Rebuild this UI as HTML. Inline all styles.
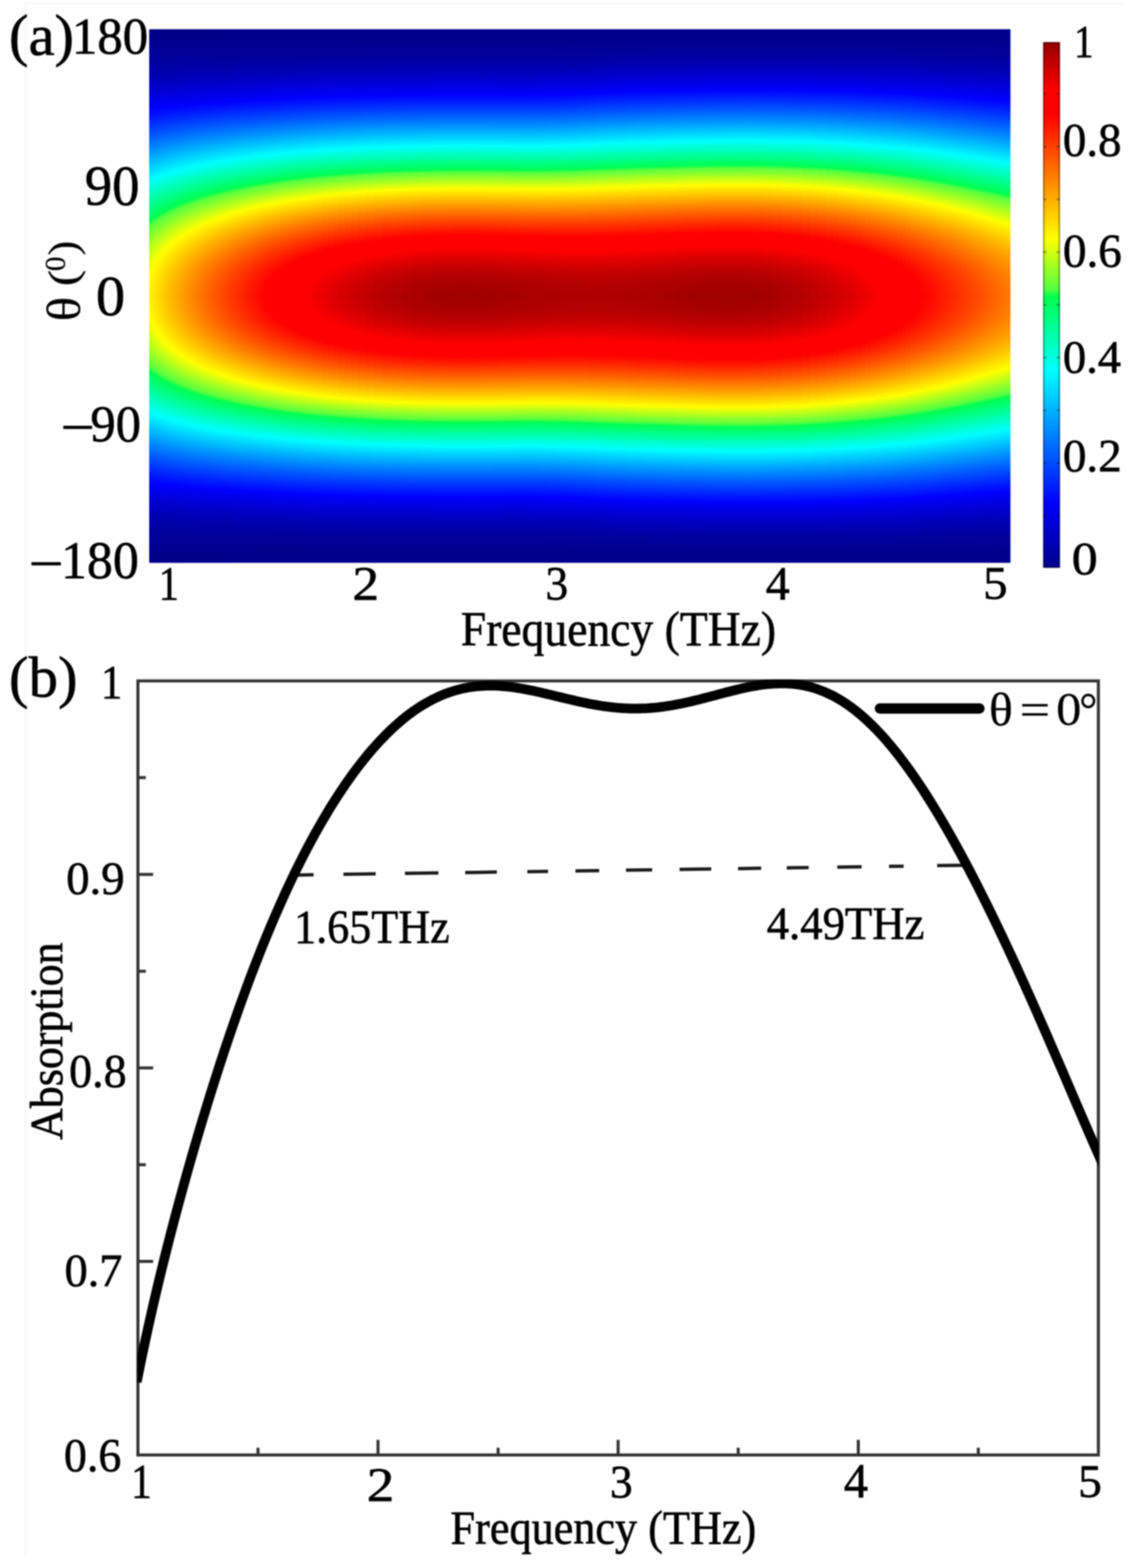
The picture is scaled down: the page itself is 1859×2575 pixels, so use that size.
<!DOCTYPE html>
<html lang="en"><head><meta charset="utf-8"><title>Absorption versus polarization angle and frequency</title>
<style>html,body{margin:0;padding:0;background:#fff}body{width:1859px;height:2575px;overflow:hidden}</style></head>
<body>
<svg width="1859" height="2575" viewBox="0 0 1859 2575" style="display:block">
<defs>
<linearGradient id="hb" gradientUnits="userSpaceOnUse" x1="0" y1="486.15" x2="0" y2="48" spreadMethod="reflect"/>
<linearGradient id="h0" href="#hb"><stop offset="0" stop-color="#fff500"/><stop offset=".05" stop-color="#fff900"/><stop offset=".0758" stop-color="#ff0"/><stop offset=".1" stop-color="#f3ff05"/><stop offset=".15" stop-color="#cfff12"/><stop offset=".2" stop-color="#9fff25"/><stop offset=".25" stop-color="#63ff3c"/><stop offset=".2608" stop-color="#55ff41"/><stop offset=".2802" stop-color="#00ff50"/><stop offset=".3" stop-color="#00ff64"/><stop offset=".35" stop-color="#00ff9b"/><stop offset=".4" stop-color="#00ffd6"/><stop offset=".4338" stop-color="#0ff"/><stop offset=".45" stop-color="#0ef"/><stop offset=".5" stop-color="#0bf"/><stop offset=".55" stop-color="#08f"/><stop offset=".6" stop-color="#0057ff"/><stop offset=".65" stop-color="#0028ff"/><stop offset=".6971" stop-color="#00f"/><stop offset=".7" stop-color="#0000fd"/><stop offset=".75" stop-color="#0000db"/><stop offset=".8" stop-color="#0000be"/><stop offset=".85" stop-color="#0000a7"/><stop offset=".9" stop-color="#000097"/><stop offset=".95" stop-color="#00008d"/><stop offset="1" stop-color="#00008a"/></linearGradient>
<linearGradient id="h1" href="#hb"><stop offset="0" stop-color="#fff400"/><stop offset=".05" stop-color="#fff800"/><stop offset=".0792" stop-color="#ff0"/><stop offset=".1" stop-color="#f4ff04"/><stop offset=".15" stop-color="#d1ff12"/><stop offset=".2" stop-color="#a1ff24"/><stop offset=".25" stop-color="#65ff3b"/><stop offset=".2618" stop-color="#55ff41"/><stop offset=".2811" stop-color="#00ff50"/><stop offset=".3" stop-color="#00ff63"/><stop offset=".35" stop-color="#00ff9a"/><stop offset=".4" stop-color="#00ffd5"/><stop offset=".4343" stop-color="#0ff"/><stop offset=".45" stop-color="#00efff"/><stop offset=".5" stop-color="#00bcff"/><stop offset=".55" stop-color="#08f"/><stop offset=".6" stop-color="#0057ff"/><stop offset=".65" stop-color="#0028ff"/><stop offset=".6973" stop-color="#00f"/><stop offset=".7" stop-color="#0000fd"/><stop offset=".75" stop-color="#0000db"/><stop offset=".8" stop-color="#0000be"/><stop offset=".85" stop-color="#0000a7"/><stop offset=".9" stop-color="#000097"/><stop offset=".95" stop-color="#00008d"/><stop offset="1" stop-color="#00008a"/></linearGradient>
<linearGradient id="h2" href="#hb"><stop offset="0" stop-color="#fe0"/><stop offset=".05" stop-color="#fff300"/><stop offset=".097" stop-color="#ff0"/><stop offset=".1" stop-color="#fdff01"/><stop offset=".15" stop-color="#daff0e"/><stop offset=".2" stop-color="#a9ff21"/><stop offset=".25" stop-color="#6cff38"/><stop offset=".2674" stop-color="#55ff41"/><stop offset=".2863" stop-color="#00ff50"/><stop offset=".3" stop-color="#00ff5e"/><stop offset=".35" stop-color="#00ff95"/><stop offset=".4" stop-color="#00ffd1"/><stop offset=".4373" stop-color="#0ff"/><stop offset=".45" stop-color="#00f2ff"/><stop offset=".5" stop-color="#00beff"/><stop offset=".55" stop-color="#008bff"/><stop offset=".6" stop-color="#0059ff"/><stop offset=".65" stop-color="#002aff"/><stop offset=".6986" stop-color="#00f"/><stop offset=".7" stop-color="#0000fe"/><stop offset=".75" stop-color="#0000db"/><stop offset=".8" stop-color="#0000be"/><stop offset=".85" stop-color="#0000a7"/><stop offset=".9" stop-color="#000097"/><stop offset=".95" stop-color="#00008d"/><stop offset="1" stop-color="#00008a"/></linearGradient>
<linearGradient id="h3" href="#hb"><stop offset="0" stop-color="#ffe900"/><stop offset=".05" stop-color="#ffed00"/><stop offset=".1" stop-color="#fffb00"/><stop offset=".1115" stop-color="#ff0"/><stop offset=".15" stop-color="#e2ff0b"/><stop offset=".2" stop-color="#b1ff1e"/><stop offset=".25" stop-color="#74ff35"/><stop offset=".2727" stop-color="#55ff41"/><stop offset=".2912" stop-color="#00ff50"/><stop offset=".3" stop-color="#00ff59"/><stop offset=".35" stop-color="#00ff91"/><stop offset=".4" stop-color="#00ffcd"/><stop offset=".4402" stop-color="#0ff"/><stop offset=".45" stop-color="#00f5ff"/><stop offset=".5" stop-color="#00c1ff"/><stop offset=".55" stop-color="#008dff"/><stop offset=".6" stop-color="#005aff"/><stop offset=".65" stop-color="#002bff"/><stop offset=".6998" stop-color="#00f"/><stop offset=".7" stop-color="#00f"/><stop offset=".75" stop-color="#0000dc"/><stop offset=".8" stop-color="#0000bf"/><stop offset=".85" stop-color="#0000a7"/><stop offset=".9" stop-color="#000097"/><stop offset=".95" stop-color="#00008d"/><stop offset="1" stop-color="#00008a"/></linearGradient>
<linearGradient id="h4" href="#hb"><stop offset="0" stop-color="#ffe400"/><stop offset=".05" stop-color="#ffe800"/><stop offset=".1" stop-color="#fff500"/><stop offset=".124" stop-color="#ff0"/><stop offset=".15" stop-color="#eaff08"/><stop offset=".2" stop-color="#b9ff1b"/><stop offset=".25" stop-color="#7cff32"/><stop offset=".2777" stop-color="#55ff41"/><stop offset=".2959" stop-color="#00ff50"/><stop offset=".3" stop-color="#00ff54"/><stop offset=".35" stop-color="#00ff8c"/><stop offset=".4" stop-color="#00ffc9"/><stop offset=".443" stop-color="#0ff"/><stop offset=".45" stop-color="#00f8ff"/><stop offset=".5" stop-color="#00c3ff"/><stop offset=".55" stop-color="#008fff"/><stop offset=".6" stop-color="#005cff"/><stop offset=".65" stop-color="#002cff"/><stop offset=".7" stop-color="#0001ff"/><stop offset=".701" stop-color="#00f"/><stop offset=".75" stop-color="#00d"/><stop offset=".8" stop-color="#0000bf"/><stop offset=".85" stop-color="#0000a8"/><stop offset=".9" stop-color="#000097"/><stop offset=".95" stop-color="#00008d"/><stop offset="1" stop-color="#00008a"/></linearGradient>
<linearGradient id="h5" href="#hb"><stop offset="0" stop-color="#ffde00"/><stop offset=".05" stop-color="#ffe300"/><stop offset=".1" stop-color="#fff000"/><stop offset=".135" stop-color="#ff0"/><stop offset=".15" stop-color="#f3ff05"/><stop offset=".2" stop-color="#c1ff18"/><stop offset=".25" stop-color="#83ff2f"/><stop offset=".2825" stop-color="#55ff41"/><stop offset=".3" stop-color="#02ff50"/><stop offset=".3004" stop-color="#00ff50"/><stop offset=".35" stop-color="#0f8"/><stop offset=".4" stop-color="#00ffc5"/><stop offset=".4457" stop-color="#0ff"/><stop offset=".45" stop-color="#00faff"/><stop offset=".5" stop-color="#00c5ff"/><stop offset=".55" stop-color="#0091ff"/><stop offset=".6" stop-color="#005eff"/><stop offset=".65" stop-color="#002eff"/><stop offset=".7" stop-color="#0002ff"/><stop offset=".7021" stop-color="#00f"/><stop offset=".75" stop-color="#00d"/><stop offset=".8" stop-color="#0000bf"/><stop offset=".85" stop-color="#0000a8"/><stop offset=".9" stop-color="#000097"/><stop offset=".95" stop-color="#00008d"/><stop offset="1" stop-color="#00008a"/></linearGradient>
<linearGradient id="h6" href="#hb"><stop offset="0" stop-color="#ffd900"/><stop offset=".05" stop-color="#ffde00"/><stop offset=".1" stop-color="#ffeb00"/><stop offset=".1449" stop-color="#ff0"/><stop offset=".15" stop-color="#fbff02"/><stop offset=".2" stop-color="#c8ff15"/><stop offset=".25" stop-color="#8aff2d"/><stop offset=".2871" stop-color="#55ff41"/><stop offset=".3" stop-color="#17ff4c"/><stop offset=".3047" stop-color="#00ff50"/><stop offset=".35" stop-color="#00ff84"/><stop offset=".4" stop-color="#00ffc1"/><stop offset=".4483" stop-color="#0ff"/><stop offset=".45" stop-color="#00fdff"/><stop offset=".5" stop-color="#00c8ff"/><stop offset=".55" stop-color="#0093ff"/><stop offset=".6" stop-color="#005fff"/><stop offset=".65" stop-color="#002fff"/><stop offset=".7" stop-color="#0003ff"/><stop offset=".7032" stop-color="#00f"/><stop offset=".75" stop-color="#0000de"/><stop offset=".8" stop-color="#0000c0"/><stop offset=".85" stop-color="#0000a8"/><stop offset=".9" stop-color="#000097"/><stop offset=".95" stop-color="#00008d"/><stop offset="1" stop-color="#00008a"/></linearGradient>
<linearGradient id="h7" href="#hb"><stop offset="0" stop-color="#ffd400"/><stop offset=".05" stop-color="#ffd900"/><stop offset=".1" stop-color="#ffe600"/><stop offset=".15" stop-color="#fffd00"/><stop offset=".1539" stop-color="#ff0"/><stop offset=".2" stop-color="#d0ff12"/><stop offset=".25" stop-color="#91ff2a"/><stop offset=".2915" stop-color="#55ff41"/><stop offset=".3" stop-color="#2cff48"/><stop offset=".3088" stop-color="#00ff50"/><stop offset=".35" stop-color="#00ff80"/><stop offset=".4" stop-color="#00ffbd"/><stop offset=".45" stop-color="#00fffe"/><stop offset=".4508" stop-color="#0ff"/><stop offset=".5" stop-color="#00caff"/><stop offset=".55" stop-color="#0095ff"/><stop offset=".6" stop-color="#0061ff"/><stop offset=".65" stop-color="#0030ff"/><stop offset=".7" stop-color="#0004ff"/><stop offset=".7043" stop-color="#00f"/><stop offset=".75" stop-color="#0000de"/><stop offset=".8" stop-color="#0000c0"/><stop offset=".85" stop-color="#0000a8"/><stop offset=".9" stop-color="#000097"/><stop offset=".95" stop-color="#00008d"/><stop offset="1" stop-color="#00008a"/></linearGradient>
<linearGradient id="h8" href="#hb"><stop offset="0" stop-color="#ffcf00"/><stop offset=".05" stop-color="#ffd400"/><stop offset=".1" stop-color="#ffe200"/><stop offset=".15" stop-color="#fff800"/><stop offset=".1622" stop-color="#ff0"/><stop offset=".2" stop-color="#d7ff0f"/><stop offset=".25" stop-color="#98ff27"/><stop offset=".2958" stop-color="#55ff41"/><stop offset=".3" stop-color="#40ff45"/><stop offset=".3127" stop-color="#00ff50"/><stop offset=".35" stop-color="#00ff7b"/><stop offset=".4" stop-color="#00ffba"/><stop offset=".45" stop-color="#00fffb"/><stop offset=".4532" stop-color="#0ff"/><stop offset=".5" stop-color="#0cf"/><stop offset=".55" stop-color="#0096ff"/><stop offset=".6" stop-color="#0062ff"/><stop offset=".65" stop-color="#0031ff"/><stop offset=".7" stop-color="#0004ff"/><stop offset=".7053" stop-color="#00f"/><stop offset=".75" stop-color="#0000df"/><stop offset=".8" stop-color="#0000c0"/><stop offset=".85" stop-color="#0000a8"/><stop offset=".9" stop-color="#000097"/><stop offset=".95" stop-color="#00008d"/><stop offset="1" stop-color="#00008a"/></linearGradient>
<linearGradient id="h9" href="#hb"><stop offset="0" stop-color="#ffca00"/><stop offset=".05" stop-color="#ffcf00"/><stop offset=".1" stop-color="#fd0"/><stop offset=".15" stop-color="#fff400"/><stop offset=".1699" stop-color="#ff0"/><stop offset=".2" stop-color="#dfff0c"/><stop offset=".25" stop-color="#9fff25"/><stop offset=".2998" stop-color="#55ff41"/><stop offset=".3" stop-color="#54ff41"/><stop offset=".3165" stop-color="#00ff50"/><stop offset=".35" stop-color="#0f7"/><stop offset=".4" stop-color="#00ffb6"/><stop offset=".45" stop-color="#00fff8"/><stop offset=".4556" stop-color="#0ff"/><stop offset=".5" stop-color="#00ceff"/><stop offset=".55" stop-color="#0098ff"/><stop offset=".6" stop-color="#0064ff"/><stop offset=".65" stop-color="#0032ff"/><stop offset=".7" stop-color="#0005ff"/><stop offset=".7063" stop-color="#00f"/><stop offset=".75" stop-color="#0000df"/><stop offset=".8" stop-color="#0000c1"/><stop offset=".85" stop-color="#0000a9"/><stop offset=".9" stop-color="#000097"/><stop offset=".95" stop-color="#00008d"/><stop offset="1" stop-color="#00008a"/></linearGradient>
<linearGradient id="h10" href="#hb"><stop offset="0" stop-color="#ffc500"/><stop offset=".05" stop-color="#ffca00"/><stop offset=".1" stop-color="#ffd800"/><stop offset=".15" stop-color="#ffef00"/><stop offset=".1771" stop-color="#ff0"/><stop offset=".2" stop-color="#e6ff0a"/><stop offset=".25" stop-color="#a6ff22"/><stop offset=".3" stop-color="#5bff3f"/><stop offset=".3037" stop-color="#55ff41"/><stop offset=".3201" stop-color="#00ff50"/><stop offset=".35" stop-color="#00ff74"/><stop offset=".4" stop-color="#00ffb3"/><stop offset=".45" stop-color="#00fff5"/><stop offset=".4578" stop-color="#0ff"/><stop offset=".5" stop-color="#00d1ff"/><stop offset=".55" stop-color="#009aff"/><stop offset=".6" stop-color="#0065ff"/><stop offset=".65" stop-color="#0034ff"/><stop offset=".7" stop-color="#0006ff"/><stop offset=".7072" stop-color="#00f"/><stop offset=".75" stop-color="#0000e0"/><stop offset=".8" stop-color="#0000c1"/><stop offset=".85" stop-color="#0000a9"/><stop offset=".9" stop-color="#000097"/><stop offset=".95" stop-color="#00008d"/><stop offset="1" stop-color="#00008a"/></linearGradient>
<linearGradient id="h11" href="#hb"><stop offset="0" stop-color="#ffc100"/><stop offset=".05" stop-color="#ffc500"/><stop offset=".1" stop-color="#ffd300"/><stop offset=".15" stop-color="#ffeb00"/><stop offset=".1838" stop-color="#ff0"/><stop offset=".2" stop-color="#edff07"/><stop offset=".25" stop-color="#acff20"/><stop offset=".3" stop-color="#61ff3c"/><stop offset=".3074" stop-color="#55ff41"/><stop offset=".3237" stop-color="#00ff50"/><stop offset=".35" stop-color="#00ff70"/><stop offset=".4" stop-color="#00ffaf"/><stop offset=".45" stop-color="#00fff1"/><stop offset=".46" stop-color="#0ff"/><stop offset=".5" stop-color="#00d3ff"/><stop offset=".55" stop-color="#009cff"/><stop offset=".6" stop-color="#0067ff"/><stop offset=".65" stop-color="#0035ff"/><stop offset=".7" stop-color="#0007ff"/><stop offset=".7081" stop-color="#00f"/><stop offset=".75" stop-color="#0000e0"/><stop offset=".8" stop-color="#0000c1"/><stop offset=".85" stop-color="#0000a9"/><stop offset=".9" stop-color="#000097"/><stop offset=".95" stop-color="#00008d"/><stop offset="1" stop-color="#00008a"/></linearGradient>
<linearGradient id="h12" href="#hb"><stop offset="0" stop-color="#ffbc00"/><stop offset=".05" stop-color="#ffc100"/><stop offset=".1" stop-color="#ffcf00"/><stop offset=".15" stop-color="#ffe600"/><stop offset=".1901" stop-color="#ff0"/><stop offset=".2" stop-color="#f4ff04"/><stop offset=".25" stop-color="#b3ff1d"/><stop offset=".3" stop-color="#67ff3a"/><stop offset=".311" stop-color="#55ff41"/><stop offset=".3271" stop-color="#00ff50"/><stop offset=".35" stop-color="#00ff6c"/><stop offset=".4" stop-color="#00ffac"/><stop offset=".45" stop-color="#0fe"/><stop offset=".4621" stop-color="#0ff"/><stop offset=".5" stop-color="#00d5ff"/><stop offset=".55" stop-color="#009eff"/><stop offset=".6" stop-color="#0068ff"/><stop offset=".65" stop-color="#0036ff"/><stop offset=".7" stop-color="#0008ff"/><stop offset=".709" stop-color="#00f"/><stop offset=".75" stop-color="#0000e1"/><stop offset=".8" stop-color="#0000c2"/><stop offset=".85" stop-color="#0000a9"/><stop offset=".9" stop-color="#000097"/><stop offset=".95" stop-color="#00008d"/><stop offset="1" stop-color="#00008a"/></linearGradient>
<linearGradient id="h13" href="#hb"><stop offset="0" stop-color="#ffb700"/><stop offset=".05" stop-color="#ffbc00"/><stop offset=".1" stop-color="#ffca00"/><stop offset=".15" stop-color="#ffe200"/><stop offset=".1961" stop-color="#ff0"/><stop offset=".2" stop-color="#faff02"/><stop offset=".25" stop-color="#b9ff1b"/><stop offset=".3" stop-color="#6dff38"/><stop offset=".3145" stop-color="#55ff41"/><stop offset=".3303" stop-color="#00ff50"/><stop offset=".35" stop-color="#00ff68"/><stop offset=".4" stop-color="#00ffa8"/><stop offset=".45" stop-color="#00ffec"/><stop offset=".4642" stop-color="#0ff"/><stop offset=".5" stop-color="#00d7ff"/><stop offset=".55" stop-color="#009fff"/><stop offset=".6" stop-color="#0069ff"/><stop offset=".65" stop-color="#0037ff"/><stop offset=".7" stop-color="#0009ff"/><stop offset=".7099" stop-color="#00f"/><stop offset=".75" stop-color="#0000e1"/><stop offset=".8" stop-color="#0000c2"/><stop offset=".85" stop-color="#0000a9"/><stop offset=".9" stop-color="#000098"/><stop offset=".95" stop-color="#00008d"/><stop offset="1" stop-color="#00008a"/></linearGradient>
<linearGradient id="h14" href="#hb"><stop offset="0" stop-color="#ffb300"/><stop offset=".05" stop-color="#ffb800"/><stop offset=".1" stop-color="#ffc600"/><stop offset=".15" stop-color="#ffde00"/><stop offset=".2" stop-color="#fffe00"/><stop offset=".2018" stop-color="#ff0"/><stop offset=".25" stop-color="#c0ff18"/><stop offset=".3" stop-color="#73ff36"/><stop offset=".3179" stop-color="#55ff41"/><stop offset=".3335" stop-color="#00ff50"/><stop offset=".35" stop-color="#00ff64"/><stop offset=".4" stop-color="#00ffa5"/><stop offset=".45" stop-color="#00ffe9"/><stop offset=".4662" stop-color="#0ff"/><stop offset=".5" stop-color="#00d9ff"/><stop offset=".55" stop-color="#00a1ff"/><stop offset=".6" stop-color="#006bff"/><stop offset=".65" stop-color="#0038ff"/><stop offset=".7" stop-color="#0009ff"/><stop offset=".7107" stop-color="#00f"/><stop offset=".75" stop-color="#0000e2"/><stop offset=".8" stop-color="#0000c2"/><stop offset=".85" stop-color="#0000a9"/><stop offset=".9" stop-color="#000098"/><stop offset=".95" stop-color="#00008d"/><stop offset="1" stop-color="#00008a"/></linearGradient>
<linearGradient id="h15" href="#hb"><stop offset="0" stop-color="#ffae00"/><stop offset=".05" stop-color="#ffb300"/><stop offset=".1" stop-color="#ffc200"/><stop offset=".15" stop-color="#ffd900"/><stop offset=".2" stop-color="#fffa00"/><stop offset=".2073" stop-color="#ff0"/><stop offset=".25" stop-color="#c6ff16"/><stop offset=".3" stop-color="#79ff33"/><stop offset=".3212" stop-color="#55ff41"/><stop offset=".3366" stop-color="#00ff50"/><stop offset=".35" stop-color="#00ff61"/><stop offset=".4" stop-color="#00ffa2"/><stop offset=".45" stop-color="#00ffe6"/><stop offset=".4682" stop-color="#0ff"/><stop offset=".5" stop-color="#00dbff"/><stop offset=".55" stop-color="#00a3ff"/><stop offset=".6" stop-color="#006cff"/><stop offset=".65" stop-color="#0039ff"/><stop offset=".7" stop-color="#000aff"/><stop offset=".7115" stop-color="#00f"/><stop offset=".75" stop-color="#0000e2"/><stop offset=".8" stop-color="#0000c3"/><stop offset=".85" stop-color="#00a"/><stop offset=".9" stop-color="#000098"/><stop offset=".95" stop-color="#00008d"/><stop offset="1" stop-color="#00008a"/></linearGradient>
<linearGradient id="h16" href="#hb"><stop offset="0" stop-color="#fa0"/><stop offset=".05" stop-color="#ffaf00"/><stop offset=".1" stop-color="#ffbd00"/><stop offset=".15" stop-color="#ffd500"/><stop offset=".2" stop-color="#fff600"/><stop offset=".2125" stop-color="#ff0"/><stop offset=".25" stop-color="#ccff14"/><stop offset=".3" stop-color="#7eff31"/><stop offset=".3243" stop-color="#55ff41"/><stop offset=".3396" stop-color="#00ff50"/><stop offset=".35" stop-color="#00ff5d"/><stop offset=".4" stop-color="#00ff9e"/><stop offset=".45" stop-color="#00ffe3"/><stop offset=".4701" stop-color="#0ff"/><stop offset=".5" stop-color="#0df"/><stop offset=".55" stop-color="#00a4ff"/><stop offset=".6" stop-color="#006dff"/><stop offset=".65" stop-color="#003aff"/><stop offset=".7" stop-color="#000bff"/><stop offset=".7123" stop-color="#00f"/><stop offset=".75" stop-color="#0000e3"/><stop offset=".8" stop-color="#0000c3"/><stop offset=".85" stop-color="#00a"/><stop offset=".9" stop-color="#000098"/><stop offset=".95" stop-color="#00008d"/><stop offset="1" stop-color="#00008a"/></linearGradient>
<linearGradient id="h17" href="#hb"><stop offset="0" stop-color="#ffa500"/><stop offset=".05" stop-color="#fa0"/><stop offset=".1" stop-color="#ffb900"/><stop offset=".15" stop-color="#ffd100"/><stop offset=".2" stop-color="#fff200"/><stop offset=".2174" stop-color="#ff0"/><stop offset=".25" stop-color="#d2ff11"/><stop offset=".3" stop-color="#84ff2f"/><stop offset=".3274" stop-color="#55ff41"/><stop offset=".3425" stop-color="#00ff50"/><stop offset=".35" stop-color="#00ff5a"/><stop offset=".4" stop-color="#00ff9b"/><stop offset=".45" stop-color="#00ffe0"/><stop offset=".4719" stop-color="#0ff"/><stop offset=".5" stop-color="#00dfff"/><stop offset=".55" stop-color="#00a6ff"/><stop offset=".6" stop-color="#006fff"/><stop offset=".65" stop-color="#003bff"/><stop offset=".7" stop-color="#000bff"/><stop offset=".7131" stop-color="#00f"/><stop offset=".75" stop-color="#0000e3"/><stop offset=".8" stop-color="#0000c3"/><stop offset=".85" stop-color="#00a"/><stop offset=".9" stop-color="#000098"/><stop offset=".95" stop-color="#00008d"/><stop offset="1" stop-color="#00008a"/></linearGradient>
<linearGradient id="h18" href="#hb"><stop offset="0" stop-color="#ffa100"/><stop offset=".05" stop-color="#ffa600"/><stop offset=".1" stop-color="#ffb500"/><stop offset=".15" stop-color="#ffcd00"/><stop offset=".2" stop-color="#fe0"/><stop offset=".2222" stop-color="#ff0"/><stop offset=".25" stop-color="#d8ff0f"/><stop offset=".3" stop-color="#89ff2d"/><stop offset=".3304" stop-color="#55ff41"/><stop offset=".3453" stop-color="#00ff50"/><stop offset=".35" stop-color="#00ff56"/><stop offset=".4" stop-color="#00ff98"/><stop offset=".45" stop-color="#00ffde"/><stop offset=".4737" stop-color="#0ff"/><stop offset=".5" stop-color="#00e1ff"/><stop offset=".55" stop-color="#00a7ff"/><stop offset=".6" stop-color="#0070ff"/><stop offset=".65" stop-color="#003cff"/><stop offset=".7" stop-color="#000cff"/><stop offset=".7138" stop-color="#00f"/><stop offset=".75" stop-color="#0000e4"/><stop offset=".8" stop-color="#0000c3"/><stop offset=".85" stop-color="#00a"/><stop offset=".9" stop-color="#000098"/><stop offset=".95" stop-color="#00008d"/><stop offset="1" stop-color="#00008a"/></linearGradient>
<linearGradient id="h19" href="#hb"><stop offset="0" stop-color="#ff9d00"/><stop offset=".05" stop-color="#ffa200"/><stop offset=".1" stop-color="#ffb100"/><stop offset=".15" stop-color="#ffc900"/><stop offset=".2" stop-color="#ffea00"/><stop offset=".2267" stop-color="#ff0"/><stop offset=".25" stop-color="#deff0d"/><stop offset=".3" stop-color="#8fff2b"/><stop offset=".3333" stop-color="#55ff41"/><stop offset=".348" stop-color="#00ff50"/><stop offset=".35" stop-color="#00ff53"/><stop offset=".4" stop-color="#00ff95"/><stop offset=".45" stop-color="#00ffdb"/><stop offset=".4755" stop-color="#0ff"/><stop offset=".5" stop-color="#00e3ff"/><stop offset=".55" stop-color="#00a9ff"/><stop offset=".6" stop-color="#0071ff"/><stop offset=".65" stop-color="#003dff"/><stop offset=".7" stop-color="#000dff"/><stop offset=".7146" stop-color="#00f"/><stop offset=".75" stop-color="#0000e4"/><stop offset=".8" stop-color="#0000c4"/><stop offset=".85" stop-color="#00a"/><stop offset=".9" stop-color="#000098"/><stop offset=".95" stop-color="#00008d"/><stop offset="1" stop-color="#00008a"/></linearGradient>
<linearGradient id="h20" href="#hb"><stop offset="0" stop-color="#f90"/><stop offset=".05" stop-color="#ff9e00"/><stop offset=".1" stop-color="#ffac00"/><stop offset=".15" stop-color="#ffc500"/><stop offset=".2" stop-color="#ffe600"/><stop offset=".2311" stop-color="#ff0"/><stop offset=".25" stop-color="#e4ff0a"/><stop offset=".3" stop-color="#94ff29"/><stop offset=".3361" stop-color="#55ff41"/><stop offset=".35" stop-color="#04ff4f"/><stop offset=".3507" stop-color="#00ff50"/><stop offset=".4" stop-color="#00ff92"/><stop offset=".45" stop-color="#00ffd8"/><stop offset=".4772" stop-color="#0ff"/><stop offset=".5" stop-color="#00e4ff"/><stop offset=".55" stop-color="#0af"/><stop offset=".6" stop-color="#0072ff"/><stop offset=".65" stop-color="#003eff"/><stop offset=".7" stop-color="#000eff"/><stop offset=".7153" stop-color="#00f"/><stop offset=".75" stop-color="#0000e5"/><stop offset=".8" stop-color="#0000c4"/><stop offset=".85" stop-color="#00a"/><stop offset=".9" stop-color="#000098"/><stop offset=".95" stop-color="#00008d"/><stop offset="1" stop-color="#00008a"/></linearGradient>
<linearGradient id="h21" href="#hb"><stop offset="0" stop-color="#ff9400"/><stop offset=".05" stop-color="#f90"/><stop offset=".1" stop-color="#ffa800"/><stop offset=".15" stop-color="#ffc100"/><stop offset=".2" stop-color="#ffe200"/><stop offset=".2353" stop-color="#ff0"/><stop offset=".25" stop-color="#eaff08"/><stop offset=".3" stop-color="#9aff27"/><stop offset=".3388" stop-color="#55ff41"/><stop offset=".35" stop-color="#14ff4d"/><stop offset=".3533" stop-color="#00ff50"/><stop offset=".4" stop-color="#00ff8f"/><stop offset=".45" stop-color="#00ffd6"/><stop offset=".4789" stop-color="#0ff"/><stop offset=".5" stop-color="#00e6ff"/><stop offset=".55" stop-color="#00acff"/><stop offset=".6" stop-color="#0074ff"/><stop offset=".65" stop-color="#003fff"/><stop offset=".7" stop-color="#000eff"/><stop offset=".716" stop-color="#00f"/><stop offset=".75" stop-color="#0000e5"/><stop offset=".8" stop-color="#0000c4"/><stop offset=".85" stop-color="#00a"/><stop offset=".9" stop-color="#000098"/><stop offset=".95" stop-color="#00008d"/><stop offset="1" stop-color="#00008a"/></linearGradient>
<linearGradient id="h22" href="#hb"><stop offset="0" stop-color="#ff9000"/><stop offset=".05" stop-color="#ff9500"/><stop offset=".1" stop-color="#ffa400"/><stop offset=".15" stop-color="#ffbd00"/><stop offset=".2" stop-color="#ffdf00"/><stop offset=".2394" stop-color="#ff0"/><stop offset=".25" stop-color="#efff06"/><stop offset=".3" stop-color="#9fff25"/><stop offset=".3415" stop-color="#55ff41"/><stop offset=".35" stop-color="#23ff4a"/><stop offset=".3558" stop-color="#00ff50"/><stop offset=".4" stop-color="#00ff8c"/><stop offset=".45" stop-color="#00ffd3"/><stop offset=".4805" stop-color="#0ff"/><stop offset=".5" stop-color="#00e8ff"/><stop offset=".55" stop-color="#00adff"/><stop offset=".6" stop-color="#0075ff"/><stop offset=".65" stop-color="#0040ff"/><stop offset=".7" stop-color="#000fff"/><stop offset=".7166" stop-color="#00f"/><stop offset=".75" stop-color="#0000e5"/><stop offset=".8" stop-color="#0000c5"/><stop offset=".85" stop-color="#0000ab"/><stop offset=".9" stop-color="#000098"/><stop offset=".95" stop-color="#00008d"/><stop offset="1" stop-color="#00008a"/></linearGradient>
<linearGradient id="h23" href="#hb"><stop offset="0" stop-color="#ff8c00"/><stop offset=".05" stop-color="#ff9100"/><stop offset=".1" stop-color="#ffa000"/><stop offset=".15" stop-color="#ffb900"/><stop offset=".2" stop-color="#ffdb00"/><stop offset=".2433" stop-color="#ff0"/><stop offset=".25" stop-color="#f5ff04"/><stop offset=".3" stop-color="#a4ff23"/><stop offset=".3441" stop-color="#55ff41"/><stop offset=".35" stop-color="#32ff47"/><stop offset=".3583" stop-color="#00ff50"/><stop offset=".4" stop-color="#00ff89"/><stop offset=".45" stop-color="#00ffd0"/><stop offset=".4821" stop-color="#0ff"/><stop offset=".5" stop-color="#00eaff"/><stop offset=".55" stop-color="#00afff"/><stop offset=".6" stop-color="#0076ff"/><stop offset=".65" stop-color="#0040ff"/><stop offset=".7" stop-color="#0010ff"/><stop offset=".7173" stop-color="#00f"/><stop offset=".75" stop-color="#0000e6"/><stop offset=".8" stop-color="#0000c5"/><stop offset=".85" stop-color="#0000ab"/><stop offset=".9" stop-color="#000098"/><stop offset=".95" stop-color="#00008d"/><stop offset="1" stop-color="#00008a"/></linearGradient>
<linearGradient id="h24" href="#hb"><stop offset="0" stop-color="#ff8700"/><stop offset=".05" stop-color="#ff8c00"/><stop offset=".1" stop-color="#ff9c00"/><stop offset=".15" stop-color="#ffb500"/><stop offset=".2" stop-color="#ffd700"/><stop offset=".2478" stop-color="#ff0"/><stop offset=".25" stop-color="#fcff01"/><stop offset=".3" stop-color="#aaff20"/><stop offset=".347" stop-color="#55ff41"/><stop offset=".35" stop-color="#43ff44"/><stop offset=".3611" stop-color="#00ff50"/><stop offset=".4" stop-color="#00ff86"/><stop offset=".45" stop-color="#00ffcd"/><stop offset=".4839" stop-color="#0ff"/><stop offset=".5" stop-color="#00ecff"/><stop offset=".55" stop-color="#00b1ff"/><stop offset=".6" stop-color="#07f"/><stop offset=".65" stop-color="#0041ff"/><stop offset=".7" stop-color="#0010ff"/><stop offset=".718" stop-color="#00f"/><stop offset=".75" stop-color="#0000e6"/><stop offset=".8" stop-color="#0000c5"/><stop offset=".85" stop-color="#0000ab"/><stop offset=".9" stop-color="#000098"/><stop offset=".95" stop-color="#00008d"/><stop offset="1" stop-color="#00008a"/></linearGradient>
<linearGradient id="h25" href="#hb"><stop offset="0" stop-color="#ff8200"/><stop offset=".05" stop-color="#ff8700"/><stop offset=".1" stop-color="#ff9600"/><stop offset=".15" stop-color="#ffb000"/><stop offset=".2" stop-color="#ffd200"/><stop offset=".25" stop-color="#fffd00"/><stop offset=".2526" stop-color="#ff0"/><stop offset=".3" stop-color="#b1ff1e"/><stop offset=".35" stop-color="#56ff41"/><stop offset=".3503" stop-color="#55ff41"/><stop offset=".3642" stop-color="#00ff50"/><stop offset=".4" stop-color="#00ff82"/><stop offset=".45" stop-color="#00ffca"/><stop offset=".486" stop-color="#0ff"/><stop offset=".5" stop-color="#0ef"/><stop offset=".55" stop-color="#00b3ff"/><stop offset=".6" stop-color="#0079ff"/><stop offset=".65" stop-color="#0043ff"/><stop offset=".7" stop-color="#01f"/><stop offset=".7189" stop-color="#00f"/><stop offset=".75" stop-color="#0000e7"/><stop offset=".8" stop-color="#0000c5"/><stop offset=".85" stop-color="#0000ab"/><stop offset=".9" stop-color="#000098"/><stop offset=".95" stop-color="#00008d"/><stop offset="1" stop-color="#00008a"/></linearGradient>
<linearGradient id="h26" href="#hb"><stop offset="0" stop-color="#ff7d00"/><stop offset=".05" stop-color="#ff8200"/><stop offset=".1" stop-color="#ff9100"/><stop offset=".15" stop-color="#ffab00"/><stop offset=".2" stop-color="#ffcd00"/><stop offset=".25" stop-color="#fff800"/><stop offset=".2573" stop-color="#ff0"/><stop offset=".3" stop-color="#b8ff1b"/><stop offset=".35" stop-color="#5cff3e"/><stop offset=".3534" stop-color="#55ff41"/><stop offset=".3672" stop-color="#00ff50"/><stop offset=".4" stop-color="#00ff7e"/><stop offset=".45" stop-color="#00ffc7"/><stop offset=".4879" stop-color="#0ff"/><stop offset=".5" stop-color="#00f0ff"/><stop offset=".55" stop-color="#00b4ff"/><stop offset=".6" stop-color="#007aff"/><stop offset=".65" stop-color="#04f"/><stop offset=".7" stop-color="#0012ff"/><stop offset=".7197" stop-color="#00f"/><stop offset=".75" stop-color="#0000e7"/><stop offset=".8" stop-color="#0000c6"/><stop offset=".85" stop-color="#0000ab"/><stop offset=".9" stop-color="#000098"/><stop offset=".95" stop-color="#00008d"/><stop offset="1" stop-color="#00008a"/></linearGradient>
<linearGradient id="h27" href="#hb"><stop offset="0" stop-color="#f70"/><stop offset=".05" stop-color="#ff7d00"/><stop offset=".1" stop-color="#ff8c00"/><stop offset=".15" stop-color="#ffa600"/><stop offset=".2" stop-color="#ffc900"/><stop offset=".25" stop-color="#fff400"/><stop offset=".2617" stop-color="#ff0"/><stop offset=".3" stop-color="#beff19"/><stop offset=".35" stop-color="#62ff3c"/><stop offset=".3565" stop-color="#55ff41"/><stop offset=".3701" stop-color="#00ff50"/><stop offset=".4" stop-color="#00ff7a"/><stop offset=".45" stop-color="#00ffc4"/><stop offset=".4899" stop-color="#0ff"/><stop offset=".5" stop-color="#00f3ff"/><stop offset=".55" stop-color="#00b6ff"/><stop offset=".6" stop-color="#007cff"/><stop offset=".65" stop-color="#0045ff"/><stop offset=".7" stop-color="#0013ff"/><stop offset=".7205" stop-color="#00f"/><stop offset=".75" stop-color="#0000e8"/><stop offset=".8" stop-color="#0000c6"/><stop offset=".85" stop-color="#0000ab"/><stop offset=".9" stop-color="#000098"/><stop offset=".95" stop-color="#00008d"/><stop offset="1" stop-color="#00008a"/></linearGradient>
<linearGradient id="h28" href="#hb"><stop offset="0" stop-color="#ff7200"/><stop offset=".05" stop-color="#ff7800"/><stop offset=".1" stop-color="#ff8700"/><stop offset=".15" stop-color="#ffa100"/><stop offset=".2" stop-color="#ffc400"/><stop offset=".25" stop-color="#ffef00"/><stop offset=".2661" stop-color="#ff0"/><stop offset=".3" stop-color="#c5ff16"/><stop offset=".35" stop-color="#68ff3a"/><stop offset=".3594" stop-color="#55ff41"/><stop offset=".3729" stop-color="#00ff50"/><stop offset=".4" stop-color="#0f7"/><stop offset=".45" stop-color="#00ffc0"/><stop offset=".4917" stop-color="#0ff"/><stop offset=".5" stop-color="#00f5ff"/><stop offset=".55" stop-color="#00b8ff"/><stop offset=".6" stop-color="#007dff"/><stop offset=".65" stop-color="#0046ff"/><stop offset=".7" stop-color="#0014ff"/><stop offset=".7212" stop-color="#00f"/><stop offset=".75" stop-color="#0000e8"/><stop offset=".8" stop-color="#0000c6"/><stop offset=".85" stop-color="#0000ab"/><stop offset=".9" stop-color="#000098"/><stop offset=".95" stop-color="#00008d"/><stop offset="1" stop-color="#00008a"/></linearGradient>
<linearGradient id="h29" href="#hb"><stop offset="0" stop-color="#ff6d00"/><stop offset=".05" stop-color="#ff7200"/><stop offset=".1" stop-color="#ff8200"/><stop offset=".15" stop-color="#ff9c00"/><stop offset=".2" stop-color="#ffbf00"/><stop offset=".25" stop-color="#ffeb00"/><stop offset=".2702" stop-color="#ff0"/><stop offset=".3" stop-color="#cbff14"/><stop offset=".35" stop-color="#6dff38"/><stop offset=".3623" stop-color="#55ff41"/><stop offset=".3756" stop-color="#00ff50"/><stop offset=".4" stop-color="#00ff73"/><stop offset=".45" stop-color="#00ffbd"/><stop offset=".4935" stop-color="#0ff"/><stop offset=".5" stop-color="#00f7ff"/><stop offset=".55" stop-color="#00baff"/><stop offset=".6" stop-color="#007fff"/><stop offset=".65" stop-color="#0047ff"/><stop offset=".7" stop-color="#0014ff"/><stop offset=".722" stop-color="#00f"/><stop offset=".75" stop-color="#0000e9"/><stop offset=".8" stop-color="#0000c7"/><stop offset=".85" stop-color="#0000ac"/><stop offset=".9" stop-color="#009"/><stop offset=".95" stop-color="#00008d"/><stop offset="1" stop-color="#00008a"/></linearGradient>
<linearGradient id="h30" href="#hb"><stop offset="0" stop-color="#ff6800"/><stop offset=".05" stop-color="#ff6d00"/><stop offset=".1" stop-color="#ff7d00"/><stop offset=".15" stop-color="#ff9700"/><stop offset=".2" stop-color="#fb0"/><stop offset=".25" stop-color="#ffe700"/><stop offset=".2742" stop-color="#ff0"/><stop offset=".3" stop-color="#d2ff11"/><stop offset=".35" stop-color="#73ff35"/><stop offset=".3651" stop-color="#55ff41"/><stop offset=".3783" stop-color="#00ff50"/><stop offset=".4" stop-color="#00ff6f"/><stop offset=".45" stop-color="#00ffba"/><stop offset=".4953" stop-color="#0ff"/><stop offset=".5" stop-color="#00f9ff"/><stop offset=".55" stop-color="#00bcff"/><stop offset=".6" stop-color="#0080ff"/><stop offset=".65" stop-color="#0048ff"/><stop offset=".7" stop-color="#0015ff"/><stop offset=".7227" stop-color="#00f"/><stop offset=".75" stop-color="#0000e9"/><stop offset=".8" stop-color="#0000c7"/><stop offset=".85" stop-color="#0000ac"/><stop offset=".9" stop-color="#009"/><stop offset=".95" stop-color="#00008d"/><stop offset="1" stop-color="#00008a"/></linearGradient>
<linearGradient id="h31" href="#hb"><stop offset="0" stop-color="#ff6300"/><stop offset=".05" stop-color="#ff6800"/><stop offset=".1" stop-color="#ff7800"/><stop offset=".15" stop-color="#ff9300"/><stop offset=".2" stop-color="#ffb600"/><stop offset=".25" stop-color="#ffe300"/><stop offset=".278" stop-color="#ff0"/><stop offset=".3" stop-color="#d8ff0f"/><stop offset=".35" stop-color="#79ff33"/><stop offset=".3678" stop-color="#55ff41"/><stop offset=".3809" stop-color="#00ff50"/><stop offset=".4" stop-color="#00ff6c"/><stop offset=".45" stop-color="#00ffb7"/><stop offset=".497" stop-color="#0ff"/><stop offset=".5" stop-color="#00fbff"/><stop offset=".55" stop-color="#00bdff"/><stop offset=".6" stop-color="#0081ff"/><stop offset=".65" stop-color="#0049ff"/><stop offset=".7" stop-color="#0016ff"/><stop offset=".7234" stop-color="#00f"/><stop offset=".75" stop-color="#0000ea"/><stop offset=".8" stop-color="#0000c7"/><stop offset=".85" stop-color="#0000ac"/><stop offset=".9" stop-color="#009"/><stop offset=".95" stop-color="#00008d"/><stop offset="1" stop-color="#00008a"/></linearGradient>
<linearGradient id="h32" href="#hb"><stop offset="0" stop-color="#ff5e00"/><stop offset=".05" stop-color="#ff6400"/><stop offset=".1" stop-color="#ff7400"/><stop offset=".15" stop-color="#ff8e00"/><stop offset=".2" stop-color="#ffb200"/><stop offset=".25" stop-color="#ffdf00"/><stop offset=".2818" stop-color="#ff0"/><stop offset=".3" stop-color="#deff0c"/><stop offset=".35" stop-color="#7fff31"/><stop offset=".3704" stop-color="#55ff41"/><stop offset=".3834" stop-color="#00ff50"/><stop offset=".4" stop-color="#00ff68"/><stop offset=".45" stop-color="#00ffb4"/><stop offset=".4987" stop-color="#0ff"/><stop offset=".5" stop-color="#00fdff"/><stop offset=".55" stop-color="#00bfff"/><stop offset=".6" stop-color="#0083ff"/><stop offset=".65" stop-color="#004aff"/><stop offset=".7" stop-color="#0017ff"/><stop offset=".7241" stop-color="#00f"/><stop offset=".75" stop-color="#0000ea"/><stop offset=".8" stop-color="#0000c7"/><stop offset=".85" stop-color="#0000ac"/><stop offset=".9" stop-color="#009"/><stop offset=".95" stop-color="#00008d"/><stop offset="1" stop-color="#00008a"/></linearGradient>
<linearGradient id="h33" href="#hb"><stop offset="0" stop-color="#ff5900"/><stop offset=".05" stop-color="#ff5f00"/><stop offset=".1" stop-color="#ff6f00"/><stop offset=".15" stop-color="#ff8a00"/><stop offset=".2" stop-color="#ffae00"/><stop offset=".25" stop-color="#ffdb00"/><stop offset=".2854" stop-color="#ff0"/><stop offset=".3" stop-color="#e5ff0a"/><stop offset=".35" stop-color="#84ff2f"/><stop offset=".373" stop-color="#55ff41"/><stop offset=".3858" stop-color="#00ff50"/><stop offset=".4" stop-color="#00ff65"/><stop offset=".45" stop-color="#00ffb1"/><stop offset=".5" stop-color="#0ff"/><stop offset=".5003" stop-color="#0ff"/><stop offset=".55" stop-color="#00c1ff"/><stop offset=".6" stop-color="#0084ff"/><stop offset=".65" stop-color="#004bff"/><stop offset=".7" stop-color="#0017ff"/><stop offset=".7247" stop-color="#00f"/><stop offset=".75" stop-color="#0000eb"/><stop offset=".8" stop-color="#0000c8"/><stop offset=".85" stop-color="#0000ac"/><stop offset=".9" stop-color="#009"/><stop offset=".95" stop-color="#00008d"/><stop offset="1" stop-color="#00008a"/></linearGradient>
<linearGradient id="h34" href="#hb"><stop offset="0" stop-color="#ff5400"/><stop offset=".05" stop-color="#ff5a00"/><stop offset=".1" stop-color="#ff6a00"/><stop offset=".15" stop-color="#ff8500"/><stop offset=".2" stop-color="#ffa900"/><stop offset=".25" stop-color="#ffd700"/><stop offset=".2888" stop-color="#ff0"/><stop offset=".3" stop-color="#ebff08"/><stop offset=".35" stop-color="#8aff2d"/><stop offset=".3755" stop-color="#55ff41"/><stop offset=".3882" stop-color="#00ff50"/><stop offset=".4" stop-color="#00ff62"/><stop offset=".45" stop-color="#00ffae"/><stop offset=".5" stop-color="#00fffc"/><stop offset=".5019" stop-color="#0ff"/><stop offset=".55" stop-color="#00c2ff"/><stop offset=".6" stop-color="#0085ff"/><stop offset=".65" stop-color="#004cff"/><stop offset=".7" stop-color="#0018ff"/><stop offset=".7254" stop-color="#00f"/><stop offset=".75" stop-color="#0000eb"/><stop offset=".8" stop-color="#0000c8"/><stop offset=".85" stop-color="#0000ac"/><stop offset=".9" stop-color="#009"/><stop offset=".95" stop-color="#00008d"/><stop offset="1" stop-color="#00008a"/></linearGradient>
<linearGradient id="h35" href="#hb"><stop offset="0" stop-color="#ff5000"/><stop offset=".05" stop-color="#f50"/><stop offset=".1" stop-color="#f60"/><stop offset=".15" stop-color="#ff8100"/><stop offset=".2" stop-color="#ffa500"/><stop offset=".25" stop-color="#ffd300"/><stop offset=".2922" stop-color="#ff0"/><stop offset=".3" stop-color="#f1ff05"/><stop offset=".35" stop-color="#8fff2b"/><stop offset=".3779" stop-color="#55ff41"/><stop offset=".3905" stop-color="#00ff50"/><stop offset=".4" stop-color="#00ff5e"/><stop offset=".45" stop-color="#00ffab"/><stop offset=".5" stop-color="#00fffa"/><stop offset=".5035" stop-color="#0ff"/><stop offset=".55" stop-color="#00c4ff"/><stop offset=".6" stop-color="#0087ff"/><stop offset=".65" stop-color="#004dff"/><stop offset=".7" stop-color="#0019ff"/><stop offset=".726" stop-color="#00f"/><stop offset=".75" stop-color="#0000ec"/><stop offset=".8" stop-color="#0000c8"/><stop offset=".85" stop-color="#0000ac"/><stop offset=".9" stop-color="#009"/><stop offset=".95" stop-color="#00008d"/><stop offset="1" stop-color="#00008a"/></linearGradient>
<linearGradient id="h36" href="#hb"><stop offset="0" stop-color="#ff4b00"/><stop offset=".05" stop-color="#ff5100"/><stop offset=".1" stop-color="#ff6100"/><stop offset=".15" stop-color="#ff7c00"/><stop offset=".2" stop-color="#ffa100"/><stop offset=".25" stop-color="#ffcf00"/><stop offset=".2955" stop-color="#ff0"/><stop offset=".3" stop-color="#f7ff03"/><stop offset=".35" stop-color="#94ff29"/><stop offset=".3803" stop-color="#55ff41"/><stop offset=".3928" stop-color="#00ff50"/><stop offset=".4" stop-color="#00ff5b"/><stop offset=".45" stop-color="#00ffa8"/><stop offset=".5" stop-color="#00fff7"/><stop offset=".505" stop-color="#0ff"/><stop offset=".55" stop-color="#00c6ff"/><stop offset=".6" stop-color="#08f"/><stop offset=".65" stop-color="#004eff"/><stop offset=".7" stop-color="#0019ff"/><stop offset=".7266" stop-color="#00f"/><stop offset=".75" stop-color="#0000ec"/><stop offset=".8" stop-color="#0000c8"/><stop offset=".85" stop-color="#0000ad"/><stop offset=".9" stop-color="#009"/><stop offset=".95" stop-color="#00008d"/><stop offset="1" stop-color="#00008a"/></linearGradient>
<linearGradient id="h37" href="#hb"><stop offset="0" stop-color="#ff4600"/><stop offset=".05" stop-color="#ff4c00"/><stop offset=".1" stop-color="#ff5d00"/><stop offset=".15" stop-color="#ff7800"/><stop offset=".2" stop-color="#ff9d00"/><stop offset=".25" stop-color="#ffcb00"/><stop offset=".2986" stop-color="#ff0"/><stop offset=".3" stop-color="#fcff01"/><stop offset=".35" stop-color="#9aff27"/><stop offset=".3825" stop-color="#55ff41"/><stop offset=".3949" stop-color="#00ff50"/><stop offset=".4" stop-color="#00ff58"/><stop offset=".45" stop-color="#00ffa6"/><stop offset=".5" stop-color="#00fff5"/><stop offset=".5065" stop-color="#0ff"/><stop offset=".55" stop-color="#00c7ff"/><stop offset=".6" stop-color="#0089ff"/><stop offset=".65" stop-color="#004fff"/><stop offset=".7" stop-color="#001aff"/><stop offset=".7272" stop-color="#00f"/><stop offset=".75" stop-color="#0000ec"/><stop offset=".8" stop-color="#0000c9"/><stop offset=".85" stop-color="#0000ad"/><stop offset=".9" stop-color="#009"/><stop offset=".95" stop-color="#00008d"/><stop offset="1" stop-color="#00008a"/></linearGradient>
<linearGradient id="h38" href="#hb"><stop offset="0" stop-color="#ff4200"/><stop offset=".05" stop-color="#ff4700"/><stop offset=".1" stop-color="#ff5800"/><stop offset=".15" stop-color="#ff7400"/><stop offset=".2" stop-color="#f90"/><stop offset=".25" stop-color="#ffc700"/><stop offset=".3" stop-color="#fffd00"/><stop offset=".3017" stop-color="#ff0"/><stop offset=".35" stop-color="#9fff25"/><stop offset=".3848" stop-color="#55ff41"/><stop offset=".3971" stop-color="#00ff50"/><stop offset=".4" stop-color="#00ff54"/><stop offset=".45" stop-color="#00ffa3"/><stop offset=".5" stop-color="#00fff2"/><stop offset=".5079" stop-color="#0ff"/><stop offset=".55" stop-color="#00c9ff"/><stop offset=".6" stop-color="#008bff"/><stop offset=".65" stop-color="#0050ff"/><stop offset=".7" stop-color="#001bff"/><stop offset=".7278" stop-color="#00f"/><stop offset=".75" stop-color="#0000ed"/><stop offset=".8" stop-color="#0000c9"/><stop offset=".85" stop-color="#0000ad"/><stop offset=".9" stop-color="#009"/><stop offset=".95" stop-color="#00008e"/><stop offset="1" stop-color="#00008a"/></linearGradient>
<linearGradient id="h39" href="#hb"><stop offset="0" stop-color="#ff3d00"/><stop offset=".05" stop-color="#ff4300"/><stop offset=".1" stop-color="#ff5400"/><stop offset=".15" stop-color="#ff6f00"/><stop offset=".2" stop-color="#ff9500"/><stop offset=".25" stop-color="#ffc300"/><stop offset=".3" stop-color="#fffa00"/><stop offset=".3047" stop-color="#ff0"/><stop offset=".35" stop-color="#a4ff23"/><stop offset=".387" stop-color="#55ff41"/><stop offset=".3992" stop-color="#00ff50"/><stop offset=".4" stop-color="#00ff51"/><stop offset=".45" stop-color="#00ffa0"/><stop offset=".5" stop-color="#00fff0"/><stop offset=".5093" stop-color="#0ff"/><stop offset=".55" stop-color="#00caff"/><stop offset=".6" stop-color="#008cff"/><stop offset=".65" stop-color="#0051ff"/><stop offset=".7" stop-color="#001cff"/><stop offset=".7284" stop-color="#00f"/><stop offset=".75" stop-color="#0000ed"/><stop offset=".8" stop-color="#0000c9"/><stop offset=".85" stop-color="#0000ad"/><stop offset=".9" stop-color="#009"/><stop offset=".95" stop-color="#00008e"/><stop offset="1" stop-color="#00008a"/></linearGradient>
<linearGradient id="h40" href="#hb"><stop offset="0" stop-color="#ff3900"/><stop offset=".05" stop-color="#ff3e00"/><stop offset=".1" stop-color="#ff4f00"/><stop offset=".15" stop-color="#ff6b00"/><stop offset=".2" stop-color="#ff9100"/><stop offset=".25" stop-color="#ffc000"/><stop offset=".3" stop-color="#fff600"/><stop offset=".3076" stop-color="#ff0"/><stop offset=".35" stop-color="#a9ff21"/><stop offset=".3891" stop-color="#55ff41"/><stop offset=".4" stop-color="#08ff4f"/><stop offset=".4012" stop-color="#00ff50"/><stop offset=".45" stop-color="#00ff9d"/><stop offset=".5" stop-color="#0fe"/><stop offset=".5107" stop-color="#0ff"/><stop offset=".55" stop-color="#0cf"/><stop offset=".6" stop-color="#008dff"/><stop offset=".65" stop-color="#0052ff"/><stop offset=".7" stop-color="#001cff"/><stop offset=".729" stop-color="#00f"/><stop offset=".75" stop-color="#00e"/><stop offset=".8" stop-color="#0000c9"/><stop offset=".85" stop-color="#0000ad"/><stop offset=".9" stop-color="#009"/><stop offset=".95" stop-color="#00008e"/><stop offset="1" stop-color="#00008a"/></linearGradient>
<linearGradient id="h41" href="#hb"><stop offset="0" stop-color="#ff3400"/><stop offset=".05" stop-color="#ff3a00"/><stop offset=".1" stop-color="#ff4b00"/><stop offset=".15" stop-color="#ff6700"/><stop offset=".2" stop-color="#ff8d00"/><stop offset=".25" stop-color="#ffbc00"/><stop offset=".3" stop-color="#fff300"/><stop offset=".3104" stop-color="#ff0"/><stop offset=".35" stop-color="#aeff1f"/><stop offset=".3911" stop-color="#55ff41"/><stop offset=".4" stop-color="#16ff4c"/><stop offset=".4032" stop-color="#00ff50"/><stop offset=".45" stop-color="#00ff9b"/><stop offset=".5" stop-color="#00ffec"/><stop offset=".512" stop-color="#0ff"/><stop offset=".55" stop-color="#00cdff"/><stop offset=".6" stop-color="#008eff"/><stop offset=".65" stop-color="#0053ff"/><stop offset=".7" stop-color="#001dff"/><stop offset=".7295" stop-color="#00f"/><stop offset=".75" stop-color="#00e"/><stop offset=".8" stop-color="#0000ca"/><stop offset=".85" stop-color="#0000ad"/><stop offset=".9" stop-color="#009"/><stop offset=".95" stop-color="#00008e"/><stop offset="1" stop-color="#00008a"/></linearGradient>
<linearGradient id="h42" href="#hb"><stop offset="0" stop-color="#ff2f00"/><stop offset=".05" stop-color="#ff3500"/><stop offset=".1" stop-color="#ff4600"/><stop offset=".15" stop-color="#ff6200"/><stop offset=".2" stop-color="#ff8900"/><stop offset=".25" stop-color="#ffb800"/><stop offset=".3" stop-color="#ffef00"/><stop offset=".3134" stop-color="#ff0"/><stop offset=".35" stop-color="#b4ff1d"/><stop offset=".3934" stop-color="#55ff41"/><stop offset=".4" stop-color="#26ff49"/><stop offset=".4053" stop-color="#00ff50"/><stop offset=".45" stop-color="#00ff98"/><stop offset=".5" stop-color="#00ffe9"/><stop offset=".5135" stop-color="#0ff"/><stop offset=".55" stop-color="#00cfff"/><stop offset=".6" stop-color="#0090ff"/><stop offset=".65" stop-color="#0054ff"/><stop offset=".7" stop-color="#001eff"/><stop offset=".7302" stop-color="#00f"/><stop offset=".75" stop-color="#00e"/><stop offset=".8" stop-color="#0000ca"/><stop offset=".85" stop-color="#0000ad"/><stop offset=".9" stop-color="#009"/><stop offset=".95" stop-color="#00008e"/><stop offset="1" stop-color="#00008a"/></linearGradient>
<linearGradient id="h43" href="#hb"><stop offset="0" stop-color="#ff2a00"/><stop offset=".05" stop-color="#ff3000"/><stop offset=".1" stop-color="#ff4100"/><stop offset=".15" stop-color="#ff5d00"/><stop offset=".2" stop-color="#ff8400"/><stop offset=".25" stop-color="#ffb300"/><stop offset=".3" stop-color="#ffeb00"/><stop offset=".3167" stop-color="#ff0"/><stop offset=".35" stop-color="#baff1a"/><stop offset=".3958" stop-color="#55ff41"/><stop offset=".4" stop-color="#37ff46"/><stop offset=".4077" stop-color="#00ff50"/><stop offset=".45" stop-color="#00ff94"/><stop offset=".5" stop-color="#00ffe6"/><stop offset=".5151" stop-color="#0ff"/><stop offset=".55" stop-color="#00d1ff"/><stop offset=".6" stop-color="#0091ff"/><stop offset=".65" stop-color="#05f"/><stop offset=".7" stop-color="#001eff"/><stop offset=".7308" stop-color="#00f"/><stop offset=".75" stop-color="#0000ef"/><stop offset=".8" stop-color="#0000ca"/><stop offset=".85" stop-color="#0000ae"/><stop offset=".9" stop-color="#009"/><stop offset=".95" stop-color="#00008e"/><stop offset="1" stop-color="#00008a"/></linearGradient>
<linearGradient id="h44" href="#hb"><stop offset="0" stop-color="#ff2500"/><stop offset=".05" stop-color="#ff2b00"/><stop offset=".1" stop-color="#ff3c00"/><stop offset=".15" stop-color="#ff5800"/><stop offset=".2" stop-color="#ff7f00"/><stop offset=".25" stop-color="#ffaf00"/><stop offset=".3" stop-color="#ffe700"/><stop offset=".3199" stop-color="#ff0"/><stop offset=".35" stop-color="#c0ff18"/><stop offset=".3982" stop-color="#55ff41"/><stop offset=".4" stop-color="#48ff43"/><stop offset=".41" stop-color="#00ff50"/><stop offset=".45" stop-color="#00ff91"/><stop offset=".5" stop-color="#00ffe4"/><stop offset=".5167" stop-color="#0ff"/><stop offset=".55" stop-color="#00d3ff"/><stop offset=".6" stop-color="#0092ff"/><stop offset=".65" stop-color="#0056ff"/><stop offset=".7" stop-color="#001fff"/><stop offset=".7315" stop-color="#00f"/><stop offset=".75" stop-color="#0000ef"/><stop offset=".8" stop-color="#0000cb"/><stop offset=".85" stop-color="#0000ae"/><stop offset=".9" stop-color="#009"/><stop offset=".95" stop-color="#00008e"/><stop offset="1" stop-color="#00008a"/></linearGradient>
<linearGradient id="h45" href="#hb"><stop offset="0" stop-color="#ff2000"/><stop offset=".05" stop-color="#ff2600"/><stop offset=".1" stop-color="#ff3700"/><stop offset=".15" stop-color="#ff5400"/><stop offset=".2" stop-color="#ff7a00"/><stop offset=".25" stop-color="#ffab00"/><stop offset=".3" stop-color="#ffe300"/><stop offset=".3229" stop-color="#ff0"/><stop offset=".35" stop-color="#c6ff16"/><stop offset=".4" stop-color="#56ff41"/><stop offset=".4005" stop-color="#55ff41"/><stop offset=".4122" stop-color="#00ff50"/><stop offset=".45" stop-color="#00ff8e"/><stop offset=".5" stop-color="#00ffe1"/><stop offset=".5182" stop-color="#0ff"/><stop offset=".55" stop-color="#00d5ff"/><stop offset=".6" stop-color="#0094ff"/><stop offset=".65" stop-color="#0057ff"/><stop offset=".7" stop-color="#0020ff"/><stop offset=".7321" stop-color="#00f"/><stop offset=".75" stop-color="#0000f0"/><stop offset=".8" stop-color="#0000cb"/><stop offset=".85" stop-color="#0000ae"/><stop offset=".9" stop-color="#009"/><stop offset=".95" stop-color="#00008e"/><stop offset="1" stop-color="#00008a"/></linearGradient>
<linearGradient id="h46" href="#hb"><stop offset="0" stop-color="#ff1b00"/><stop offset=".05" stop-color="#ff2000"/><stop offset=".1" stop-color="#ff3200"/><stop offset=".15" stop-color="#ff4f00"/><stop offset=".2" stop-color="#ff7600"/><stop offset=".25" stop-color="#ffa600"/><stop offset=".3" stop-color="#ffdf00"/><stop offset=".3259" stop-color="#ff0"/><stop offset=".35" stop-color="#ccff14"/><stop offset=".4" stop-color="#5bff3f"/><stop offset=".4028" stop-color="#55ff41"/><stop offset=".4143" stop-color="#00ff50"/><stop offset=".45" stop-color="#00ff8b"/><stop offset=".5" stop-color="#00ffde"/><stop offset=".5197" stop-color="#0ff"/><stop offset=".55" stop-color="#00d6ff"/><stop offset=".6" stop-color="#0095ff"/><stop offset=".65" stop-color="#0058ff"/><stop offset=".7" stop-color="#0021ff"/><stop offset=".7328" stop-color="#00f"/><stop offset=".75" stop-color="#0000f0"/><stop offset=".8" stop-color="#0000cb"/><stop offset=".85" stop-color="#0000ae"/><stop offset=".9" stop-color="#009"/><stop offset=".95" stop-color="#00008e"/><stop offset="1" stop-color="#00008a"/></linearGradient>
<linearGradient id="h47" href="#hb"><stop offset="0" stop-color="#ff1600"/><stop offset=".05" stop-color="#ff1b00"/><stop offset=".1" stop-color="#ff2d00"/><stop offset=".15" stop-color="#ff4a00"/><stop offset=".2" stop-color="#ff7100"/><stop offset=".25" stop-color="#ffa200"/><stop offset=".3" stop-color="#ffdb00"/><stop offset=".3288" stop-color="#ff0"/><stop offset=".35" stop-color="#d1ff11"/><stop offset=".4" stop-color="#60ff3d"/><stop offset=".4049" stop-color="#55ff41"/><stop offset=".4164" stop-color="#00ff50"/><stop offset=".45" stop-color="#0f8"/><stop offset=".5" stop-color="#00ffdc"/><stop offset=".5212" stop-color="#0ff"/><stop offset=".55" stop-color="#00d8ff"/><stop offset=".6" stop-color="#0097ff"/><stop offset=".65" stop-color="#0059ff"/><stop offset=".7" stop-color="#02f"/><stop offset=".7334" stop-color="#00f"/><stop offset=".75" stop-color="#0000f1"/><stop offset=".8" stop-color="#0000cb"/><stop offset=".85" stop-color="#0000ae"/><stop offset=".9" stop-color="#009"/><stop offset=".95" stop-color="#00008e"/><stop offset="1" stop-color="#00008a"/></linearGradient>
<linearGradient id="h48" href="#hb"><stop offset="0" stop-color="#f10"/><stop offset=".05" stop-color="#ff1700"/><stop offset=".1" stop-color="#ff2800"/><stop offset=".15" stop-color="#ff4500"/><stop offset=".2" stop-color="#ff6d00"/><stop offset=".25" stop-color="#ff9e00"/><stop offset=".3" stop-color="#ffd700"/><stop offset=".3315" stop-color="#ff0"/><stop offset=".35" stop-color="#d7ff0f"/><stop offset=".4" stop-color="#65ff3b"/><stop offset=".407" stop-color="#55ff41"/><stop offset=".4184" stop-color="#00ff50"/><stop offset=".45" stop-color="#00ff85"/><stop offset=".5" stop-color="#00ffd9"/><stop offset=".5226" stop-color="#0ff"/><stop offset=".55" stop-color="#00daff"/><stop offset=".6" stop-color="#0098ff"/><stop offset=".65" stop-color="#005aff"/><stop offset=".7" stop-color="#02f"/><stop offset=".7341" stop-color="#00f"/><stop offset=".75" stop-color="#0000f1"/><stop offset=".8" stop-color="#00c"/><stop offset=".85" stop-color="#0000ae"/><stop offset=".9" stop-color="#00009a"/><stop offset=".95" stop-color="#00008e"/><stop offset="1" stop-color="#00008a"/></linearGradient>
<linearGradient id="h49" href="#hb"><stop offset="0" stop-color="#ff0c00"/><stop offset=".05" stop-color="#ff1200"/><stop offset=".1" stop-color="#ff2400"/><stop offset=".15" stop-color="#ff4100"/><stop offset=".2" stop-color="#ff6900"/><stop offset=".25" stop-color="#ff9a00"/><stop offset=".3" stop-color="#ffd400"/><stop offset=".3342" stop-color="#ff0"/><stop offset=".35" stop-color="#ddff0d"/><stop offset=".4" stop-color="#6aff39"/><stop offset=".4091" stop-color="#55ff41"/><stop offset=".4204" stop-color="#00ff50"/><stop offset=".45" stop-color="#00ff82"/><stop offset=".5" stop-color="#00ffd6"/><stop offset=".524" stop-color="#0ff"/><stop offset=".55" stop-color="#00dcff"/><stop offset=".6" stop-color="#09f"/><stop offset=".65" stop-color="#005bff"/><stop offset=".7" stop-color="#0023ff"/><stop offset=".7347" stop-color="#00f"/><stop offset=".75" stop-color="#0000f2"/><stop offset=".8" stop-color="#00c"/><stop offset=".85" stop-color="#0000ae"/><stop offset=".9" stop-color="#00009a"/><stop offset=".95" stop-color="#00008e"/><stop offset="1" stop-color="#00008a"/></linearGradient>
<linearGradient id="h50" href="#hb"><stop offset="0" stop-color="#ff0700"/><stop offset=".05" stop-color="#ff0d00"/><stop offset=".1" stop-color="#ff1f00"/><stop offset=".15" stop-color="#ff3c00"/><stop offset=".2" stop-color="#ff6400"/><stop offset=".25" stop-color="#ff9600"/><stop offset=".3" stop-color="#ffd000"/><stop offset=".3368" stop-color="#ff0"/><stop offset=".35" stop-color="#e2ff0b"/><stop offset=".4" stop-color="#6fff37"/><stop offset=".4111" stop-color="#55ff41"/><stop offset=".4223" stop-color="#00ff50"/><stop offset=".45" stop-color="#00ff7f"/><stop offset=".5" stop-color="#00ffd4"/><stop offset=".5254" stop-color="#0ff"/><stop offset=".55" stop-color="#0df"/><stop offset=".6" stop-color="#009bff"/><stop offset=".65" stop-color="#005cff"/><stop offset=".7" stop-color="#0024ff"/><stop offset=".7353" stop-color="#00f"/><stop offset=".75" stop-color="#0000f2"/><stop offset=".8" stop-color="#00c"/><stop offset=".85" stop-color="#0000af"/><stop offset=".9" stop-color="#00009a"/><stop offset=".95" stop-color="#00008e"/><stop offset="1" stop-color="#00008a"/></linearGradient>
<linearGradient id="h51" href="#hb"><stop offset="0" stop-color="#ff0200"/><stop offset=".05" stop-color="#ff0800"/><stop offset=".1" stop-color="#ff1b00"/><stop offset=".15" stop-color="#ff3800"/><stop offset=".2" stop-color="#ff6000"/><stop offset=".25" stop-color="#ff9200"/><stop offset=".3" stop-color="#fc0"/><stop offset=".3394" stop-color="#ff0"/><stop offset=".35" stop-color="#e7ff09"/><stop offset=".4" stop-color="#74ff35"/><stop offset=".4131" stop-color="#55ff41"/><stop offset=".4242" stop-color="#00ff50"/><stop offset=".45" stop-color="#00ff7c"/><stop offset=".5" stop-color="#00ffd1"/><stop offset=".5267" stop-color="#0ff"/><stop offset=".55" stop-color="#00dfff"/><stop offset=".6" stop-color="#009cff"/><stop offset=".65" stop-color="#005eff"/><stop offset=".7" stop-color="#0025ff"/><stop offset=".7359" stop-color="#00f"/><stop offset=".75" stop-color="#0000f3"/><stop offset=".8" stop-color="#0000cd"/><stop offset=".85" stop-color="#0000af"/><stop offset=".9" stop-color="#00009a"/><stop offset=".95" stop-color="#00008e"/><stop offset="1" stop-color="#00008a"/></linearGradient>
<linearGradient id="h52" href="#hb"><stop offset="0" stop-color="#f00"/><stop offset=".0329" stop-color="#f00"/><stop offset=".05" stop-color="#ff0300"/><stop offset=".1" stop-color="#ff1600"/><stop offset=".15" stop-color="#f30"/><stop offset=".2" stop-color="#ff5c00"/><stop offset=".25" stop-color="#ff8e00"/><stop offset=".3" stop-color="#ffc800"/><stop offset=".3421" stop-color="#ff0"/><stop offset=".35" stop-color="#edff07"/><stop offset=".4" stop-color="#79ff33"/><stop offset=".4152" stop-color="#55ff41"/><stop offset=".4263" stop-color="#00ff50"/><stop offset=".45" stop-color="#00ff79"/><stop offset=".5" stop-color="#00ffcf"/><stop offset=".5282" stop-color="#0ff"/><stop offset=".55" stop-color="#00e1ff"/><stop offset=".6" stop-color="#009eff"/><stop offset=".65" stop-color="#005fff"/><stop offset=".7" stop-color="#0025ff"/><stop offset=".7366" stop-color="#00f"/><stop offset=".75" stop-color="#0000f3"/><stop offset=".8" stop-color="#0000cd"/><stop offset=".85" stop-color="#0000af"/><stop offset=".9" stop-color="#00009a"/><stop offset=".95" stop-color="#00008e"/><stop offset="1" stop-color="#00008a"/></linearGradient>
<linearGradient id="h53" href="#hb"><stop offset="0" stop-color="#f00"/><stop offset=".05" stop-color="#f00"/><stop offset=".0571" stop-color="#f00"/><stop offset=".1" stop-color="#ff1000"/><stop offset=".15" stop-color="#ff2e00"/><stop offset=".2" stop-color="#ff5700"/><stop offset=".25" stop-color="#ff8900"/><stop offset=".3" stop-color="#ffc400"/><stop offset=".3449" stop-color="#ff0"/><stop offset=".35" stop-color="#f4ff04"/><stop offset=".4" stop-color="#7fff31"/><stop offset=".4174" stop-color="#55ff41"/><stop offset=".4284" stop-color="#00ff50"/><stop offset=".45" stop-color="#00ff75"/><stop offset=".5" stop-color="#0fc"/><stop offset=".5297" stop-color="#0ff"/><stop offset=".55" stop-color="#00e3ff"/><stop offset=".6" stop-color="#009fff"/><stop offset=".65" stop-color="#0060ff"/><stop offset=".7" stop-color="#0026ff"/><stop offset=".7373" stop-color="#00f"/><stop offset=".75" stop-color="#0000f4"/><stop offset=".8" stop-color="#0000cd"/><stop offset=".85" stop-color="#0000af"/><stop offset=".9" stop-color="#00009a"/><stop offset=".95" stop-color="#00008e"/><stop offset="1" stop-color="#00008a"/></linearGradient>
<linearGradient id="h54" href="#hb"><stop offset="0" stop-color="#f00"/><stop offset=".05" stop-color="#f00"/><stop offset=".0733" stop-color="#f00"/><stop offset=".1" stop-color="#ff0b00"/><stop offset=".15" stop-color="#ff2900"/><stop offset=".2" stop-color="#ff5200"/><stop offset=".25" stop-color="#ff8500"/><stop offset=".3" stop-color="#ffc000"/><stop offset=".3477" stop-color="#ff0"/><stop offset=".35" stop-color="#faff02"/><stop offset=".4" stop-color="#84ff2f"/><stop offset=".4195" stop-color="#55ff41"/><stop offset=".4305" stop-color="#00ff50"/><stop offset=".45" stop-color="#00ff72"/><stop offset=".5" stop-color="#00ffc9"/><stop offset=".5312" stop-color="#0ff"/><stop offset=".55" stop-color="#00e5ff"/><stop offset=".6" stop-color="#00a1ff"/><stop offset=".65" stop-color="#0061ff"/><stop offset=".7" stop-color="#0027ff"/><stop offset=".738" stop-color="#00f"/><stop offset=".75" stop-color="#0000f5"/><stop offset=".8" stop-color="#0000ce"/><stop offset=".85" stop-color="#0000af"/><stop offset=".9" stop-color="#00009a"/><stop offset=".95" stop-color="#00008e"/><stop offset="1" stop-color="#00008a"/></linearGradient>
<linearGradient id="h55" href="#hb"><stop offset="0" stop-color="#f00"/><stop offset=".05" stop-color="#f00"/><stop offset=".0861" stop-color="#f00"/><stop offset=".1" stop-color="#ff0600"/><stop offset=".15" stop-color="#ff2500"/><stop offset=".2" stop-color="#ff4e00"/><stop offset=".25" stop-color="#ff8100"/><stop offset=".3" stop-color="#ffbc00"/><stop offset=".35" stop-color="#ff0"/><stop offset=".3503" stop-color="#ff0"/><stop offset=".4" stop-color="#8aff2d"/><stop offset=".4216" stop-color="#55ff41"/><stop offset=".4325" stop-color="#00ff50"/><stop offset=".45" stop-color="#00ff6e"/><stop offset=".5" stop-color="#00ffc6"/><stop offset=".5327" stop-color="#0ff"/><stop offset=".55" stop-color="#00e7ff"/><stop offset=".6" stop-color="#00a2ff"/><stop offset=".65" stop-color="#0062ff"/><stop offset=".7" stop-color="#0028ff"/><stop offset=".7387" stop-color="#00f"/><stop offset=".75" stop-color="#0000f5"/><stop offset=".8" stop-color="#0000ce"/><stop offset=".85" stop-color="#0000b0"/><stop offset=".9" stop-color="#00009a"/><stop offset=".95" stop-color="#00008e"/><stop offset="1" stop-color="#00008a"/></linearGradient>
<linearGradient id="h56" href="#hb"><stop offset="0" stop-color="#f00"/><stop offset=".05" stop-color="#f00"/><stop offset=".097" stop-color="#f00"/><stop offset=".1" stop-color="#ff0100"/><stop offset=".15" stop-color="#ff2000"/><stop offset=".2" stop-color="#ff4900"/><stop offset=".25" stop-color="#ff7c00"/><stop offset=".3" stop-color="#ffb800"/><stop offset=".35" stop-color="#fffb00"/><stop offset=".3529" stop-color="#ff0"/><stop offset=".4" stop-color="#8fff2b"/><stop offset=".4236" stop-color="#55ff41"/><stop offset=".4344" stop-color="#00ff50"/><stop offset=".45" stop-color="#00ff6b"/><stop offset=".5" stop-color="#00ffc3"/><stop offset=".5341" stop-color="#0ff"/><stop offset=".55" stop-color="#00e9ff"/><stop offset=".6" stop-color="#00a4ff"/><stop offset=".65" stop-color="#0064ff"/><stop offset=".7" stop-color="#0029ff"/><stop offset=".7394" stop-color="#00f"/><stop offset=".75" stop-color="#0000f6"/><stop offset=".8" stop-color="#0000ce"/><stop offset=".85" stop-color="#0000b0"/><stop offset=".9" stop-color="#00009a"/><stop offset=".95" stop-color="#00008e"/><stop offset="1" stop-color="#00008a"/></linearGradient>
<linearGradient id="h57" href="#hb"><stop offset="0" stop-color="#f00"/><stop offset=".05" stop-color="#f00"/><stop offset=".1" stop-color="#f00"/><stop offset=".1064" stop-color="#f00"/><stop offset=".15" stop-color="#ff1b00"/><stop offset=".2" stop-color="#ff4500"/><stop offset=".25" stop-color="#ff7800"/><stop offset=".3" stop-color="#ffb400"/><stop offset=".35" stop-color="#fff800"/><stop offset=".3553" stop-color="#ff0"/><stop offset=".4" stop-color="#94ff29"/><stop offset=".4256" stop-color="#55ff41"/><stop offset=".4363" stop-color="#00ff50"/><stop offset=".45" stop-color="#00ff68"/><stop offset=".5" stop-color="#00ffc1"/><stop offset=".5355" stop-color="#0ff"/><stop offset=".55" stop-color="#00eaff"/><stop offset=".6" stop-color="#00a5ff"/><stop offset=".65" stop-color="#0065ff"/><stop offset=".7" stop-color="#002aff"/><stop offset=".7401" stop-color="#00f"/><stop offset=".75" stop-color="#0000f6"/><stop offset=".8" stop-color="#0000cf"/><stop offset=".85" stop-color="#0000b0"/><stop offset=".9" stop-color="#00009a"/><stop offset=".95" stop-color="#00008e"/><stop offset="1" stop-color="#00008a"/></linearGradient>
<linearGradient id="h58" href="#hb"><stop offset="0" stop-color="#f00"/><stop offset=".05" stop-color="#f00"/><stop offset=".1" stop-color="#f00"/><stop offset=".1149" stop-color="#f00"/><stop offset=".15" stop-color="#ff1700"/><stop offset=".2" stop-color="#ff4100"/><stop offset=".25" stop-color="#ff7400"/><stop offset=".3" stop-color="#ffb100"/><stop offset=".35" stop-color="#fff400"/><stop offset=".3577" stop-color="#ff0"/><stop offset=".4" stop-color="#99ff27"/><stop offset=".4274" stop-color="#55ff41"/><stop offset=".4381" stop-color="#00ff50"/><stop offset=".45" stop-color="#00ff65"/><stop offset=".5" stop-color="#00ffbe"/><stop offset=".5368" stop-color="#0ff"/><stop offset=".55" stop-color="#00ecff"/><stop offset=".6" stop-color="#00a7ff"/><stop offset=".65" stop-color="#06f"/><stop offset=".7" stop-color="#002bff"/><stop offset=".7407" stop-color="#00f"/><stop offset=".75" stop-color="#0000f7"/><stop offset=".8" stop-color="#0000cf"/><stop offset=".85" stop-color="#0000b0"/><stop offset=".9" stop-color="#00009a"/><stop offset=".95" stop-color="#00008e"/><stop offset="1" stop-color="#00008a"/></linearGradient>
<linearGradient id="h59" href="#hb"><stop offset="0" stop-color="#f00"/><stop offset=".05" stop-color="#f00"/><stop offset=".1" stop-color="#f00"/><stop offset=".1231" stop-color="#f00"/><stop offset=".15" stop-color="#ff1200"/><stop offset=".2" stop-color="#ff3c00"/><stop offset=".25" stop-color="#ff7000"/><stop offset=".3" stop-color="#ffad00"/><stop offset=".35" stop-color="#fff100"/><stop offset=".3602" stop-color="#ff0"/><stop offset=".4" stop-color="#9eff25"/><stop offset=".4294" stop-color="#55ff41"/><stop offset=".44" stop-color="#00ff50"/><stop offset=".45" stop-color="#00ff62"/><stop offset=".5" stop-color="#0fb"/><stop offset=".5382" stop-color="#0ff"/><stop offset=".55" stop-color="#0ef"/><stop offset=".6" stop-color="#00a8ff"/><stop offset=".65" stop-color="#0067ff"/><stop offset=".7" stop-color="#002cff"/><stop offset=".7414" stop-color="#00f"/><stop offset=".75" stop-color="#0000f7"/><stop offset=".8" stop-color="#0000cf"/><stop offset=".85" stop-color="#0000b0"/><stop offset=".9" stop-color="#00009a"/><stop offset=".95" stop-color="#00008e"/><stop offset="1" stop-color="#00008a"/></linearGradient>
<linearGradient id="h60" href="#hb"><stop offset="0" stop-color="#f00"/><stop offset=".05" stop-color="#f00"/><stop offset=".1" stop-color="#f00"/><stop offset=".1311" stop-color="#f00"/><stop offset=".15" stop-color="#ff0d00"/><stop offset=".2" stop-color="#ff3700"/><stop offset=".25" stop-color="#ff6c00"/><stop offset=".3" stop-color="#ffa900"/><stop offset=".35" stop-color="#ffed00"/><stop offset=".3627" stop-color="#ff0"/><stop offset=".4" stop-color="#a4ff23"/><stop offset=".4314" stop-color="#55ff41"/><stop offset=".4419" stop-color="#00ff50"/><stop offset=".45" stop-color="#00ff5e"/><stop offset=".5" stop-color="#00ffb8"/><stop offset=".5396" stop-color="#0ff"/><stop offset=".55" stop-color="#00f0ff"/><stop offset=".6" stop-color="#0af"/><stop offset=".65" stop-color="#0068ff"/><stop offset=".7" stop-color="#002dff"/><stop offset=".7421" stop-color="#00f"/><stop offset=".75" stop-color="#0000f8"/><stop offset=".8" stop-color="#0000d0"/><stop offset=".85" stop-color="#0000b1"/><stop offset=".9" stop-color="#00009a"/><stop offset=".95" stop-color="#00008e"/><stop offset="1" stop-color="#00008a"/></linearGradient>
<linearGradient id="h61" href="#hb"><stop offset="0" stop-color="#f00"/><stop offset=".05" stop-color="#f00"/><stop offset=".1" stop-color="#f00"/><stop offset=".1384" stop-color="#f00"/><stop offset=".15" stop-color="#ff0800"/><stop offset=".2" stop-color="#f30"/><stop offset=".25" stop-color="#ff6700"/><stop offset=".3" stop-color="#ffa500"/><stop offset=".35" stop-color="#ffe900"/><stop offset=".3651" stop-color="#ff0"/><stop offset=".4" stop-color="#a9ff21"/><stop offset=".4333" stop-color="#55ff41"/><stop offset=".4438" stop-color="#00ff50"/><stop offset=".45" stop-color="#00ff5b"/><stop offset=".5" stop-color="#00ffb5"/><stop offset=".541" stop-color="#0ff"/><stop offset=".55" stop-color="#00f2ff"/><stop offset=".6" stop-color="#00acff"/><stop offset=".65" stop-color="#0069ff"/><stop offset=".7" stop-color="#002dff"/><stop offset=".7428" stop-color="#00f"/><stop offset=".75" stop-color="#0000f8"/><stop offset=".8" stop-color="#0000d0"/><stop offset=".85" stop-color="#0000b1"/><stop offset=".9" stop-color="#00009b"/><stop offset=".95" stop-color="#00008e"/><stop offset="1" stop-color="#00008a"/></linearGradient>
<linearGradient id="h62" href="#hb"><stop offset="0" stop-color="#fe0000"/><stop offset=".0211" stop-color="#f00"/><stop offset=".05" stop-color="#f00"/><stop offset=".1" stop-color="#f00"/><stop offset=".145" stop-color="#f00"/><stop offset=".15" stop-color="#ff0400"/><stop offset=".2" stop-color="#ff2e00"/><stop offset=".25" stop-color="#ff6300"/><stop offset=".3" stop-color="#ffa100"/><stop offset=".35" stop-color="#ffe600"/><stop offset=".3674" stop-color="#ff0"/><stop offset=".4" stop-color="#afff1f"/><stop offset=".4352" stop-color="#55ff41"/><stop offset=".4456" stop-color="#00ff50"/><stop offset=".45" stop-color="#00ff58"/><stop offset=".5" stop-color="#00ffb3"/><stop offset=".5423" stop-color="#0ff"/><stop offset=".55" stop-color="#00f4ff"/><stop offset=".6" stop-color="#00adff"/><stop offset=".65" stop-color="#006bff"/><stop offset=".7" stop-color="#002eff"/><stop offset=".7434" stop-color="#00f"/><stop offset=".75" stop-color="#0000f9"/><stop offset=".8" stop-color="#0000d1"/><stop offset=".85" stop-color="#0000b1"/><stop offset=".9" stop-color="#00009b"/><stop offset=".95" stop-color="#00008e"/><stop offset="1" stop-color="#00008a"/></linearGradient>
<linearGradient id="h63" href="#hb"><stop offset="0" stop-color="#f80000"/><stop offset=".0492" stop-color="#f00"/><stop offset=".05" stop-color="#f00"/><stop offset=".1" stop-color="#f00"/><stop offset=".15" stop-color="#f00"/><stop offset=".1516" stop-color="#f00"/><stop offset=".2" stop-color="#ff2a00"/><stop offset=".25" stop-color="#ff5f00"/><stop offset=".3" stop-color="#ff9d00"/><stop offset=".35" stop-color="#ffe200"/><stop offset=".3698" stop-color="#ff0"/><stop offset=".4" stop-color="#b4ff1d"/><stop offset=".4371" stop-color="#55ff41"/><stop offset=".4474" stop-color="#00ff50"/><stop offset=".45" stop-color="#0f5"/><stop offset=".5" stop-color="#00ffb0"/><stop offset=".5437" stop-color="#0ff"/><stop offset=".55" stop-color="#00f6ff"/><stop offset=".6" stop-color="#00afff"/><stop offset=".65" stop-color="#006cff"/><stop offset=".7" stop-color="#002fff"/><stop offset=".7441" stop-color="#00f"/><stop offset=".75" stop-color="#0000fa"/><stop offset=".8" stop-color="#0000d1"/><stop offset=".85" stop-color="#0000b1"/><stop offset=".9" stop-color="#00009b"/><stop offset=".95" stop-color="#00008e"/><stop offset="1" stop-color="#00008a"/></linearGradient>
<linearGradient id="h64" href="#hb"><stop offset="0" stop-color="#f20000"/><stop offset=".05" stop-color="#fa0000"/><stop offset=".0666" stop-color="#f00"/><stop offset=".1" stop-color="#f00"/><stop offset=".15" stop-color="#f00"/><stop offset=".158" stop-color="#f00"/><stop offset=".2" stop-color="#ff2500"/><stop offset=".25" stop-color="#ff5a00"/><stop offset=".3" stop-color="#f90"/><stop offset=".35" stop-color="#ffde00"/><stop offset=".3722" stop-color="#ff0"/><stop offset=".4" stop-color="#b9ff1b"/><stop offset=".439" stop-color="#55ff41"/><stop offset=".4493" stop-color="#00ff50"/><stop offset=".45" stop-color="#00ff51"/><stop offset=".5" stop-color="#00ffad"/><stop offset=".5451" stop-color="#0ff"/><stop offset=".55" stop-color="#00f8ff"/><stop offset=".6" stop-color="#00b0ff"/><stop offset=".65" stop-color="#006dff"/><stop offset=".7" stop-color="#0030ff"/><stop offset=".7447" stop-color="#00f"/><stop offset=".75" stop-color="#0000fa"/><stop offset=".8" stop-color="#0000d1"/><stop offset=".85" stop-color="#0000b1"/><stop offset=".9" stop-color="#00009b"/><stop offset=".95" stop-color="#00008e"/><stop offset="1" stop-color="#00008a"/></linearGradient>
<linearGradient id="h65" href="#hb"><stop offset="0" stop-color="#ed0000"/><stop offset=".05" stop-color="#f40000"/><stop offset=".0798" stop-color="#f00"/><stop offset=".1" stop-color="#f00"/><stop offset=".15" stop-color="#f00"/><stop offset=".1639" stop-color="#f00"/><stop offset=".2" stop-color="#ff2000"/><stop offset=".25" stop-color="#ff5600"/><stop offset=".3" stop-color="#ff9500"/><stop offset=".35" stop-color="#ffdb00"/><stop offset=".3745" stop-color="#ff0"/><stop offset=".4" stop-color="#bfff19"/><stop offset=".4409" stop-color="#55ff41"/><stop offset=".45" stop-color="#09ff4e"/><stop offset=".4511" stop-color="#00ff50"/><stop offset=".5" stop-color="#0fa"/><stop offset=".5464" stop-color="#0ff"/><stop offset=".55" stop-color="#00faff"/><stop offset=".6" stop-color="#00b2ff"/><stop offset=".65" stop-color="#006eff"/><stop offset=".7" stop-color="#0031ff"/><stop offset=".7454" stop-color="#00f"/><stop offset=".75" stop-color="#0000fb"/><stop offset=".8" stop-color="#0000d2"/><stop offset=".85" stop-color="#0000b2"/><stop offset=".9" stop-color="#00009b"/><stop offset=".95" stop-color="#00008e"/><stop offset="1" stop-color="#00008a"/></linearGradient>
<linearGradient id="h66" href="#hb"><stop offset="0" stop-color="#e70000"/><stop offset=".05" stop-color="#e00"/><stop offset=".0913" stop-color="#f00"/><stop offset=".1" stop-color="#f00"/><stop offset=".15" stop-color="#f00"/><stop offset=".1697" stop-color="#f00"/><stop offset=".2" stop-color="#ff1c00"/><stop offset=".25" stop-color="#ff5200"/><stop offset=".3" stop-color="#ff9100"/><stop offset=".35" stop-color="#ffd700"/><stop offset=".3768" stop-color="#ff0"/><stop offset=".4" stop-color="#c4ff16"/><stop offset=".4427" stop-color="#55ff41"/><stop offset=".45" stop-color="#18ff4c"/><stop offset=".4529" stop-color="#00ff50"/><stop offset=".5" stop-color="#00ffa7"/><stop offset=".5477" stop-color="#0ff"/><stop offset=".55" stop-color="#00fcff"/><stop offset=".6" stop-color="#00b3ff"/><stop offset=".65" stop-color="#0070ff"/><stop offset=".7" stop-color="#0032ff"/><stop offset=".746" stop-color="#00f"/><stop offset=".75" stop-color="#0000fb"/><stop offset=".8" stop-color="#0000d2"/><stop offset=".85" stop-color="#0000b2"/><stop offset=".9" stop-color="#00009b"/><stop offset=".95" stop-color="#00008e"/><stop offset="1" stop-color="#00008a"/></linearGradient>
<linearGradient id="h67" href="#hb"><stop offset="0" stop-color="#e10000"/><stop offset=".05" stop-color="#e90000"/><stop offset=".1" stop-color="#fe0000"/><stop offset=".1015" stop-color="#f00"/><stop offset=".15" stop-color="#f00"/><stop offset=".1753" stop-color="#f00"/><stop offset=".2" stop-color="#ff1700"/><stop offset=".25" stop-color="#ff4d00"/><stop offset=".3" stop-color="#ff8d00"/><stop offset=".35" stop-color="#ffd300"/><stop offset=".3792" stop-color="#ff0"/><stop offset=".4" stop-color="#caff14"/><stop offset=".4446" stop-color="#55ff41"/><stop offset=".45" stop-color="#28ff49"/><stop offset=".4547" stop-color="#00ff50"/><stop offset=".5" stop-color="#00ffa4"/><stop offset=".5491" stop-color="#0ff"/><stop offset=".55" stop-color="#00feff"/><stop offset=".6" stop-color="#00b5ff"/><stop offset=".65" stop-color="#0071ff"/><stop offset=".7" stop-color="#03f"/><stop offset=".7467" stop-color="#00f"/><stop offset=".75" stop-color="#0000fc"/><stop offset=".8" stop-color="#0000d2"/><stop offset=".85" stop-color="#0000b2"/><stop offset=".9" stop-color="#00009b"/><stop offset=".95" stop-color="#00008e"/><stop offset="1" stop-color="#00008a"/></linearGradient>
<linearGradient id="h68" href="#hb"><stop offset="0" stop-color="#dc0000"/><stop offset=".05" stop-color="#e30000"/><stop offset=".1" stop-color="#f90000"/><stop offset=".1104" stop-color="#f00"/><stop offset=".15" stop-color="#f00"/><stop offset=".1804" stop-color="#f00"/><stop offset=".2" stop-color="#ff1300"/><stop offset=".25" stop-color="#ff4900"/><stop offset=".3" stop-color="#ff8900"/><stop offset=".35" stop-color="#ffd000"/><stop offset=".3813" stop-color="#ff0"/><stop offset=".4" stop-color="#cfff12"/><stop offset=".4464" stop-color="#55ff41"/><stop offset=".45" stop-color="#36ff46"/><stop offset=".4564" stop-color="#00ff50"/><stop offset=".5" stop-color="#00ffa2"/><stop offset=".55" stop-color="#00fffe"/><stop offset=".5503" stop-color="#0ff"/><stop offset=".6" stop-color="#00b6ff"/><stop offset=".65" stop-color="#0072ff"/><stop offset=".7" stop-color="#0034ff"/><stop offset=".7473" stop-color="#00f"/><stop offset=".75" stop-color="#0000fd"/><stop offset=".8" stop-color="#0000d3"/><stop offset=".85" stop-color="#0000b2"/><stop offset=".9" stop-color="#00009b"/><stop offset=".95" stop-color="#00008e"/><stop offset="1" stop-color="#00008a"/></linearGradient>
<linearGradient id="h69" href="#hb"><stop offset="0" stop-color="#d60000"/><stop offset=".05" stop-color="#de0000"/><stop offset=".1" stop-color="#f30000"/><stop offset=".1185" stop-color="#f00"/><stop offset=".15" stop-color="#f00"/><stop offset=".1855" stop-color="#f00"/><stop offset=".2" stop-color="#ff0e00"/><stop offset=".25" stop-color="#ff4500"/><stop offset=".3" stop-color="#ff8500"/><stop offset=".35" stop-color="#fc0"/><stop offset=".3835" stop-color="#ff0"/><stop offset=".4" stop-color="#d4ff10"/><stop offset=".4481" stop-color="#55ff41"/><stop offset=".45" stop-color="#45ff44"/><stop offset=".4581" stop-color="#00ff50"/><stop offset=".5" stop-color="#00ff9f"/><stop offset=".55" stop-color="#00fffc"/><stop offset=".5516" stop-color="#0ff"/><stop offset=".6" stop-color="#00b8ff"/><stop offset=".65" stop-color="#0073ff"/><stop offset=".7" stop-color="#0035ff"/><stop offset=".7479" stop-color="#00f"/><stop offset=".75" stop-color="#0000fd"/><stop offset=".8" stop-color="#0000d3"/><stop offset=".85" stop-color="#0000b2"/><stop offset=".9" stop-color="#00009b"/><stop offset=".95" stop-color="#00008e"/><stop offset="1" stop-color="#00008a"/></linearGradient>
<linearGradient id="h70" href="#hb"><stop offset="0" stop-color="#d10000"/><stop offset=".05" stop-color="#d80000"/><stop offset=".1" stop-color="#e00"/><stop offset=".1265" stop-color="#f00"/><stop offset=".15" stop-color="#f00"/><stop offset=".1905" stop-color="#f00"/><stop offset=".2" stop-color="#ff0900"/><stop offset=".25" stop-color="#ff4000"/><stop offset=".3" stop-color="#ff8100"/><stop offset=".35" stop-color="#ffc800"/><stop offset=".3857" stop-color="#ff0"/><stop offset=".4" stop-color="#daff0e"/><stop offset=".4499" stop-color="#55ff41"/><stop offset=".45" stop-color="#54ff41"/><stop offset=".4599" stop-color="#00ff50"/><stop offset=".5" stop-color="#00ff9c"/><stop offset=".55" stop-color="#00fffa"/><stop offset=".5529" stop-color="#0ff"/><stop offset=".6" stop-color="#00baff"/><stop offset=".65" stop-color="#0074ff"/><stop offset=".7" stop-color="#0036ff"/><stop offset=".7486" stop-color="#00f"/><stop offset=".75" stop-color="#0000fe"/><stop offset=".8" stop-color="#0000d4"/><stop offset=".85" stop-color="#0000b3"/><stop offset=".9" stop-color="#00009b"/><stop offset=".95" stop-color="#00008e"/><stop offset="1" stop-color="#00008a"/></linearGradient>
<linearGradient id="h71" href="#hb"><stop offset="0" stop-color="#cb0000"/><stop offset=".05" stop-color="#d20000"/><stop offset=".1" stop-color="#e80000"/><stop offset=".1338" stop-color="#f00"/><stop offset=".15" stop-color="#f00"/><stop offset=".1954" stop-color="#f00"/><stop offset=".2" stop-color="#ff0500"/><stop offset=".25" stop-color="#ff3c00"/><stop offset=".3" stop-color="#ff7d00"/><stop offset=".35" stop-color="#ffc500"/><stop offset=".3879" stop-color="#ff0"/><stop offset=".4" stop-color="#dfff0c"/><stop offset=".45" stop-color="#5aff3f"/><stop offset=".4517" stop-color="#55ff41"/><stop offset=".4616" stop-color="#00ff50"/><stop offset=".5" stop-color="#0f9"/><stop offset=".55" stop-color="#00fff7"/><stop offset=".5542" stop-color="#0ff"/><stop offset=".6" stop-color="#0bf"/><stop offset=".65" stop-color="#0076ff"/><stop offset=".7" stop-color="#0037ff"/><stop offset=".7492" stop-color="#00f"/><stop offset=".75" stop-color="#0000fe"/><stop offset=".8" stop-color="#0000d4"/><stop offset=".85" stop-color="#0000b3"/><stop offset=".9" stop-color="#00009b"/><stop offset=".95" stop-color="#00008e"/><stop offset="1" stop-color="#00008a"/></linearGradient>
<linearGradient id="h72" href="#hb"><stop offset="0" stop-color="#c60000"/><stop offset=".05" stop-color="#cd0000"/><stop offset=".1" stop-color="#e30000"/><stop offset=".1405" stop-color="#f00"/><stop offset=".15" stop-color="#f00"/><stop offset=".2" stop-color="#f00"/><stop offset=".25" stop-color="#ff3800"/><stop offset=".3" stop-color="#ff7900"/><stop offset=".35" stop-color="#ffc100"/><stop offset=".39" stop-color="#ff0"/><stop offset=".4" stop-color="#e5ff0a"/><stop offset=".45" stop-color="#5eff3d"/><stop offset=".4534" stop-color="#55ff41"/><stop offset=".4632" stop-color="#00ff50"/><stop offset=".5" stop-color="#00ff96"/><stop offset=".55" stop-color="#00fff5"/><stop offset=".5554" stop-color="#0ff"/><stop offset=".6" stop-color="#00bdff"/><stop offset=".65" stop-color="#07f"/><stop offset=".7" stop-color="#0037ff"/><stop offset=".7498" stop-color="#00f"/><stop offset=".75" stop-color="#00f"/><stop offset=".8" stop-color="#0000d4"/><stop offset=".85" stop-color="#0000b3"/><stop offset=".9" stop-color="#00009c"/><stop offset=".95" stop-color="#00008e"/><stop offset="1" stop-color="#00008a"/></linearGradient>
<linearGradient id="h73" href="#hb"><stop offset="0" stop-color="#c00000"/><stop offset=".05" stop-color="#c70000"/><stop offset=".1" stop-color="#d00"/><stop offset=".1471" stop-color="#f00"/><stop offset=".15" stop-color="#f00"/><stop offset=".2" stop-color="#f00"/><stop offset=".2046" stop-color="#f00"/><stop offset=".25" stop-color="#f30"/><stop offset=".3" stop-color="#ff7400"/><stop offset=".35" stop-color="#ffbd00"/><stop offset=".3922" stop-color="#ff0"/><stop offset=".4" stop-color="#eaff08"/><stop offset=".45" stop-color="#63ff3c"/><stop offset=".4552" stop-color="#55ff41"/><stop offset=".4649" stop-color="#00ff50"/><stop offset=".5" stop-color="#00ff93"/><stop offset=".55" stop-color="#00fff2"/><stop offset=".5567" stop-color="#0ff"/><stop offset=".6" stop-color="#00beff"/><stop offset=".65" stop-color="#0078ff"/><stop offset=".7" stop-color="#0038ff"/><stop offset=".75" stop-color="#00f"/><stop offset=".7505" stop-color="#00f"/><stop offset=".8" stop-color="#0000d5"/><stop offset=".85" stop-color="#0000b3"/><stop offset=".9" stop-color="#00009c"/><stop offset=".95" stop-color="#00008e"/><stop offset="1" stop-color="#00008a"/></linearGradient>
<linearGradient id="h74" href="#hb"><stop offset="0" stop-color="#ba0000"/><stop offset=".05" stop-color="#c10000"/><stop offset=".1" stop-color="#d80000"/><stop offset=".15" stop-color="#fc0000"/><stop offset=".1534" stop-color="#f00"/><stop offset=".2" stop-color="#f00"/><stop offset=".2091" stop-color="#f00"/><stop offset=".25" stop-color="#ff2f00"/><stop offset=".3" stop-color="#ff7000"/><stop offset=".35" stop-color="#ffb900"/><stop offset=".3943" stop-color="#ff0"/><stop offset=".4" stop-color="#f0ff06"/><stop offset=".45" stop-color="#68ff3a"/><stop offset=".4569" stop-color="#55ff41"/><stop offset=".4666" stop-color="#00ff50"/><stop offset=".5" stop-color="#00ff90"/><stop offset=".55" stop-color="#00fff0"/><stop offset=".558" stop-color="#0ff"/><stop offset=".6" stop-color="#00c0ff"/><stop offset=".65" stop-color="#0079ff"/><stop offset=".7" stop-color="#0039ff"/><stop offset=".75" stop-color="#0001ff"/><stop offset=".7511" stop-color="#00f"/><stop offset=".8" stop-color="#0000d5"/><stop offset=".85" stop-color="#0000b3"/><stop offset=".9" stop-color="#00009c"/><stop offset=".95" stop-color="#00008e"/><stop offset="1" stop-color="#00008a"/></linearGradient>
<linearGradient id="h75" href="#hb"><stop offset="0" stop-color="#b40000"/><stop offset=".05" stop-color="#bc0000"/><stop offset=".1" stop-color="#d20000"/><stop offset=".15" stop-color="#f70000"/><stop offset=".1592" stop-color="#f00"/><stop offset=".2" stop-color="#f00"/><stop offset=".2133" stop-color="#f00"/><stop offset=".25" stop-color="#ff2a00"/><stop offset=".3" stop-color="#ff6c00"/><stop offset=".35" stop-color="#ffb600"/><stop offset=".3963" stop-color="#ff0"/><stop offset=".4" stop-color="#f5ff04"/><stop offset=".45" stop-color="#6dff38"/><stop offset=".4586" stop-color="#55ff41"/><stop offset=".4682" stop-color="#00ff50"/><stop offset=".5" stop-color="#00ff8e"/><stop offset=".55" stop-color="#0fe"/><stop offset=".5592" stop-color="#0ff"/><stop offset=".6" stop-color="#00c2ff"/><stop offset=".65" stop-color="#007bff"/><stop offset=".7" stop-color="#003aff"/><stop offset=".75" stop-color="#0002ff"/><stop offset=".7517" stop-color="#00f"/><stop offset=".8" stop-color="#0000d5"/><stop offset=".85" stop-color="#0000b4"/><stop offset=".9" stop-color="#00009c"/><stop offset=".95" stop-color="#00008e"/><stop offset="1" stop-color="#00008a"/></linearGradient>
<linearGradient id="h76" href="#hb"><stop offset="0" stop-color="#b00000"/><stop offset=".05" stop-color="#b70000"/><stop offset=".1" stop-color="#cd0000"/><stop offset=".15" stop-color="#f20000"/><stop offset=".1642" stop-color="#f00"/><stop offset=".2" stop-color="#f00"/><stop offset=".217" stop-color="#f00"/><stop offset=".25" stop-color="#ff2700"/><stop offset=".3" stop-color="#ff6900"/><stop offset=".35" stop-color="#ffb300"/><stop offset=".3981" stop-color="#ff0"/><stop offset=".4" stop-color="#faff02"/><stop offset=".45" stop-color="#71ff36"/><stop offset=".46" stop-color="#55ff41"/><stop offset=".4697" stop-color="#00ff50"/><stop offset=".5" stop-color="#00ff8b"/><stop offset=".55" stop-color="#00ffec"/><stop offset=".5602" stop-color="#0ff"/><stop offset=".6" stop-color="#00c3ff"/><stop offset=".65" stop-color="#007cff"/><stop offset=".7" stop-color="#003bff"/><stop offset=".75" stop-color="#0002ff"/><stop offset=".7522" stop-color="#00f"/><stop offset=".8" stop-color="#0000d6"/><stop offset=".85" stop-color="#0000b4"/><stop offset=".9" stop-color="#00009c"/><stop offset=".95" stop-color="#00008e"/><stop offset="1" stop-color="#00008a"/></linearGradient>
<linearGradient id="h77" href="#hb"><stop offset="0" stop-color="#ab0000"/><stop offset=".05" stop-color="#b30000"/><stop offset=".1" stop-color="#c90000"/><stop offset=".15" stop-color="#e00"/><stop offset=".1682" stop-color="#f00"/><stop offset=".2" stop-color="#f00"/><stop offset=".22" stop-color="#f00"/><stop offset=".25" stop-color="#ff2300"/><stop offset=".3" stop-color="#f60"/><stop offset=".35" stop-color="#ffb000"/><stop offset=".3996" stop-color="#ff0"/><stop offset=".4" stop-color="#feff00"/><stop offset=".45" stop-color="#74ff35"/><stop offset=".4613" stop-color="#55ff41"/><stop offset=".4708" stop-color="#00ff50"/><stop offset=".5" stop-color="#00ff89"/><stop offset=".55" stop-color="#00ffea"/><stop offset=".5611" stop-color="#0ff"/><stop offset=".6" stop-color="#00c4ff"/><stop offset=".65" stop-color="#007dff"/><stop offset=".7" stop-color="#003cff"/><stop offset=".75" stop-color="#0003ff"/><stop offset=".7527" stop-color="#00f"/><stop offset=".8" stop-color="#0000d6"/><stop offset=".85" stop-color="#0000b4"/><stop offset=".9" stop-color="#00009c"/><stop offset=".95" stop-color="#00008e"/><stop offset="1" stop-color="#00008a"/></linearGradient>
<linearGradient id="h78" href="#hb"><stop offset="0" stop-color="#a80000"/><stop offset=".05" stop-color="#af0000"/><stop offset=".1" stop-color="#c60000"/><stop offset=".15" stop-color="#eb0000"/><stop offset=".1715" stop-color="#f00"/><stop offset=".2" stop-color="#f00"/><stop offset=".2225" stop-color="#f00"/><stop offset=".25" stop-color="#ff2100"/><stop offset=".3" stop-color="#ff6300"/><stop offset=".35" stop-color="#ffae00"/><stop offset=".4" stop-color="#fffe00"/><stop offset=".4008" stop-color="#ff0"/><stop offset=".45" stop-color="#77ff34"/><stop offset=".4623" stop-color="#55ff41"/><stop offset=".4718" stop-color="#00ff50"/><stop offset=".5" stop-color="#00ff87"/><stop offset=".55" stop-color="#00ffe8"/><stop offset=".5619" stop-color="#0ff"/><stop offset=".6" stop-color="#00c5ff"/><stop offset=".65" stop-color="#007dff"/><stop offset=".7" stop-color="#003cff"/><stop offset=".75" stop-color="#0003ff"/><stop offset=".753" stop-color="#00f"/><stop offset=".8" stop-color="#0000d6"/><stop offset=".85" stop-color="#0000b4"/><stop offset=".9" stop-color="#00009c"/><stop offset=".95" stop-color="#00008e"/><stop offset="1" stop-color="#00008a"/></linearGradient>
<linearGradient id="h79" href="#hb"><stop offset="0" stop-color="#a50000"/><stop offset=".05" stop-color="#ad0000"/><stop offset=".1" stop-color="#c30000"/><stop offset=".15" stop-color="#e80000"/><stop offset=".174" stop-color="#f00"/><stop offset=".2" stop-color="#f00"/><stop offset=".2244" stop-color="#f00"/><stop offset=".25" stop-color="#ff1f00"/><stop offset=".3" stop-color="#ff6100"/><stop offset=".35" stop-color="#ffac00"/><stop offset=".4" stop-color="#fffc00"/><stop offset=".4018" stop-color="#ff0"/><stop offset=".45" stop-color="#7aff33"/><stop offset=".463" stop-color="#55ff41"/><stop offset=".4726" stop-color="#00ff50"/><stop offset=".5" stop-color="#00ff86"/><stop offset=".55" stop-color="#00ffe7"/><stop offset=".5624" stop-color="#0ff"/><stop offset=".6" stop-color="#00c6ff"/><stop offset=".65" stop-color="#007eff"/><stop offset=".7" stop-color="#003dff"/><stop offset=".75" stop-color="#0003ff"/><stop offset=".7533" stop-color="#00f"/><stop offset=".8" stop-color="#0000d6"/><stop offset=".85" stop-color="#0000b4"/><stop offset=".9" stop-color="#00009c"/><stop offset=".95" stop-color="#00008e"/><stop offset="1" stop-color="#00008a"/></linearGradient>
<linearGradient id="h80" href="#hb"><stop offset="0" stop-color="#a30000"/><stop offset=".05" stop-color="#ab0000"/><stop offset=".1" stop-color="#c10000"/><stop offset=".15" stop-color="#e60000"/><stop offset=".1759" stop-color="#f00"/><stop offset=".2" stop-color="#f00"/><stop offset=".2258" stop-color="#f00"/><stop offset=".25" stop-color="#ff1d00"/><stop offset=".3" stop-color="#ff6000"/><stop offset=".35" stop-color="#fa0"/><stop offset=".4" stop-color="#fffb00"/><stop offset=".4025" stop-color="#ff0"/><stop offset=".45" stop-color="#7bff32"/><stop offset=".4636" stop-color="#55ff41"/><stop offset=".4732" stop-color="#00ff50"/><stop offset=".5" stop-color="#00ff85"/><stop offset=".55" stop-color="#00ffe6"/><stop offset=".5629" stop-color="#0ff"/><stop offset=".6" stop-color="#00c6ff"/><stop offset=".65" stop-color="#007eff"/><stop offset=".7" stop-color="#003dff"/><stop offset=".75" stop-color="#0004ff"/><stop offset=".7535" stop-color="#00f"/><stop offset=".8" stop-color="#0000d7"/><stop offset=".85" stop-color="#0000b4"/><stop offset=".9" stop-color="#00009c"/><stop offset=".95" stop-color="#00008e"/><stop offset="1" stop-color="#00008a"/></linearGradient>
<linearGradient id="h81" href="#hb"><stop offset="0" stop-color="#a20000"/><stop offset=".05" stop-color="#a90000"/><stop offset=".1" stop-color="#c00000"/><stop offset=".15" stop-color="#e50000"/><stop offset=".1771" stop-color="#f00"/><stop offset=".2" stop-color="#f00"/><stop offset=".2268" stop-color="#f00"/><stop offset=".25" stop-color="#ff1c00"/><stop offset=".3" stop-color="#ff5f00"/><stop offset=".35" stop-color="#fa0"/><stop offset=".4" stop-color="#fffa00"/><stop offset=".403" stop-color="#ff0"/><stop offset=".45" stop-color="#7dff32"/><stop offset=".464" stop-color="#55ff41"/><stop offset=".4735" stop-color="#00ff50"/><stop offset=".5" stop-color="#00ff84"/><stop offset=".55" stop-color="#00ffe6"/><stop offset=".5632" stop-color="#0ff"/><stop offset=".6" stop-color="#00c7ff"/><stop offset=".65" stop-color="#007fff"/><stop offset=".7" stop-color="#003dff"/><stop offset=".75" stop-color="#0004ff"/><stop offset=".7537" stop-color="#00f"/><stop offset=".8" stop-color="#0000d7"/><stop offset=".85" stop-color="#0000b4"/><stop offset=".9" stop-color="#00009c"/><stop offset=".95" stop-color="#00008e"/><stop offset="1" stop-color="#00008a"/></linearGradient>
<linearGradient id="h82" href="#hb"><stop offset="0" stop-color="#a10000"/><stop offset=".05" stop-color="#a90000"/><stop offset=".1" stop-color="#bf0000"/><stop offset=".15" stop-color="#e40000"/><stop offset=".1778" stop-color="#f00"/><stop offset=".2" stop-color="#f00"/><stop offset=".2273" stop-color="#f00"/><stop offset=".25" stop-color="#ff1b00"/><stop offset=".3" stop-color="#ff5e00"/><stop offset=".35" stop-color="#ffa900"/><stop offset=".4" stop-color="#fffa00"/><stop offset=".4033" stop-color="#ff0"/><stop offset=".45" stop-color="#7dff32"/><stop offset=".4643" stop-color="#55ff41"/><stop offset=".4738" stop-color="#00ff50"/><stop offset=".5" stop-color="#00ff84"/><stop offset=".55" stop-color="#00ffe5"/><stop offset=".5633" stop-color="#0ff"/><stop offset=".6" stop-color="#00c7ff"/><stop offset=".65" stop-color="#007fff"/><stop offset=".7" stop-color="#003dff"/><stop offset=".75" stop-color="#0004ff"/><stop offset=".7537" stop-color="#00f"/><stop offset=".8" stop-color="#0000d7"/><stop offset=".85" stop-color="#0000b4"/><stop offset=".9" stop-color="#00009c"/><stop offset=".95" stop-color="#00008e"/><stop offset="1" stop-color="#00008a"/></linearGradient>
<linearGradient id="h83" href="#hb"><stop offset="0" stop-color="#a10000"/><stop offset=".05" stop-color="#a80000"/><stop offset=".1" stop-color="#bf0000"/><stop offset=".15" stop-color="#e40000"/><stop offset=".178" stop-color="#f00"/><stop offset=".2" stop-color="#f00"/><stop offset=".2275" stop-color="#f00"/><stop offset=".25" stop-color="#ff1b00"/><stop offset=".3" stop-color="#ff5e00"/><stop offset=".35" stop-color="#ffa900"/><stop offset=".4" stop-color="#fff900"/><stop offset=".4034" stop-color="#ff0"/><stop offset=".45" stop-color="#7dff32"/><stop offset=".4643" stop-color="#55ff41"/><stop offset=".4738" stop-color="#00ff50"/><stop offset=".5" stop-color="#00ff84"/><stop offset=".55" stop-color="#00ffe5"/><stop offset=".5634" stop-color="#0ff"/><stop offset=".6" stop-color="#00c7ff"/><stop offset=".65" stop-color="#007fff"/><stop offset=".7" stop-color="#003dff"/><stop offset=".75" stop-color="#0004ff"/><stop offset=".7538" stop-color="#00f"/><stop offset=".8" stop-color="#0000d7"/><stop offset=".85" stop-color="#0000b4"/><stop offset=".9" stop-color="#00009c"/><stop offset=".95" stop-color="#00008e"/><stop offset="1" stop-color="#00008a"/></linearGradient>
<linearGradient id="h84" href="#hb"><stop offset="0" stop-color="#a10000"/><stop offset=".05" stop-color="#a90000"/><stop offset=".1" stop-color="#bf0000"/><stop offset=".15" stop-color="#e40000"/><stop offset=".1778" stop-color="#f00"/><stop offset=".2" stop-color="#f00"/><stop offset=".2273" stop-color="#f00"/><stop offset=".25" stop-color="#ff1b00"/><stop offset=".3" stop-color="#ff5e00"/><stop offset=".35" stop-color="#ffa900"/><stop offset=".4" stop-color="#fffa00"/><stop offset=".4033" stop-color="#ff0"/><stop offset=".45" stop-color="#7dff32"/><stop offset=".4642" stop-color="#55ff41"/><stop offset=".4738" stop-color="#00ff50"/><stop offset=".5" stop-color="#00ff84"/><stop offset=".55" stop-color="#00ffe5"/><stop offset=".5633" stop-color="#0ff"/><stop offset=".6" stop-color="#00c7ff"/><stop offset=".65" stop-color="#007fff"/><stop offset=".7" stop-color="#003dff"/><stop offset=".75" stop-color="#0004ff"/><stop offset=".7537" stop-color="#00f"/><stop offset=".8" stop-color="#0000d7"/><stop offset=".85" stop-color="#0000b4"/><stop offset=".9" stop-color="#00009c"/><stop offset=".95" stop-color="#00008e"/><stop offset="1" stop-color="#00008a"/></linearGradient>
<linearGradient id="h85" href="#hb"><stop offset="0" stop-color="#a20000"/><stop offset=".05" stop-color="#a90000"/><stop offset=".1" stop-color="#c00000"/><stop offset=".15" stop-color="#e50000"/><stop offset=".1772" stop-color="#f00"/><stop offset=".2" stop-color="#f00"/><stop offset=".2268" stop-color="#f00"/><stop offset=".25" stop-color="#ff1c00"/><stop offset=".3" stop-color="#ff5f00"/><stop offset=".35" stop-color="#fa0"/><stop offset=".4" stop-color="#fffa00"/><stop offset=".403" stop-color="#ff0"/><stop offset=".45" stop-color="#7dff32"/><stop offset=".464" stop-color="#55ff41"/><stop offset=".4736" stop-color="#00ff50"/><stop offset=".5" stop-color="#00ff84"/><stop offset=".55" stop-color="#00ffe6"/><stop offset=".5632" stop-color="#0ff"/><stop offset=".6" stop-color="#00c7ff"/><stop offset=".65" stop-color="#007fff"/><stop offset=".7" stop-color="#003dff"/><stop offset=".75" stop-color="#0004ff"/><stop offset=".7537" stop-color="#00f"/><stop offset=".8" stop-color="#0000d7"/><stop offset=".85" stop-color="#0000b4"/><stop offset=".9" stop-color="#00009c"/><stop offset=".95" stop-color="#00008e"/><stop offset="1" stop-color="#00008a"/></linearGradient>
<linearGradient id="h86" href="#hb"><stop offset="0" stop-color="#a30000"/><stop offset=".05" stop-color="#a00"/><stop offset=".1" stop-color="#c10000"/><stop offset=".15" stop-color="#e60000"/><stop offset=".1762" stop-color="#f00"/><stop offset=".2" stop-color="#f00"/><stop offset=".2261" stop-color="#f00"/><stop offset=".25" stop-color="#ff1d00"/><stop offset=".3" stop-color="#ff6000"/><stop offset=".35" stop-color="#fa0"/><stop offset=".4" stop-color="#fffb00"/><stop offset=".4027" stop-color="#ff0"/><stop offset=".45" stop-color="#7cff32"/><stop offset=".4637" stop-color="#55ff41"/><stop offset=".4733" stop-color="#00ff50"/><stop offset=".5" stop-color="#00ff85"/><stop offset=".55" stop-color="#00ffe6"/><stop offset=".5629" stop-color="#0ff"/><stop offset=".6" stop-color="#00c6ff"/><stop offset=".65" stop-color="#007eff"/><stop offset=".7" stop-color="#003dff"/><stop offset=".75" stop-color="#0004ff"/><stop offset=".7536" stop-color="#00f"/><stop offset=".8" stop-color="#0000d7"/><stop offset=".85" stop-color="#0000b4"/><stop offset=".9" stop-color="#00009c"/><stop offset=".95" stop-color="#00008e"/><stop offset="1" stop-color="#00008a"/></linearGradient>
<linearGradient id="h87" href="#hb"><stop offset="0" stop-color="#a40000"/><stop offset=".05" stop-color="#ac0000"/><stop offset=".1" stop-color="#c20000"/><stop offset=".15" stop-color="#e70000"/><stop offset=".175" stop-color="#f00"/><stop offset=".2" stop-color="#f00"/><stop offset=".2252" stop-color="#f00"/><stop offset=".25" stop-color="#ff1e00"/><stop offset=".3" stop-color="#ff6100"/><stop offset=".35" stop-color="#ffab00"/><stop offset=".4" stop-color="#fffb00"/><stop offset=".4022" stop-color="#ff0"/><stop offset=".45" stop-color="#7bff33"/><stop offset=".4634" stop-color="#55ff41"/><stop offset=".4729" stop-color="#00ff50"/><stop offset=".5" stop-color="#00ff85"/><stop offset=".55" stop-color="#00ffe7"/><stop offset=".5627" stop-color="#0ff"/><stop offset=".6" stop-color="#00c6ff"/><stop offset=".65" stop-color="#007eff"/><stop offset=".7" stop-color="#003dff"/><stop offset=".75" stop-color="#0004ff"/><stop offset=".7534" stop-color="#00f"/><stop offset=".8" stop-color="#0000d6"/><stop offset=".85" stop-color="#0000b4"/><stop offset=".9" stop-color="#00009c"/><stop offset=".95" stop-color="#00008e"/><stop offset="1" stop-color="#00008a"/></linearGradient>
<linearGradient id="h88" href="#hb"><stop offset="0" stop-color="#a60000"/><stop offset=".05" stop-color="#ad0000"/><stop offset=".1" stop-color="#c40000"/><stop offset=".15" stop-color="#e90000"/><stop offset=".1737" stop-color="#f00"/><stop offset=".2" stop-color="#f00"/><stop offset=".2241" stop-color="#f00"/><stop offset=".25" stop-color="#ff1f00"/><stop offset=".3" stop-color="#ff6200"/><stop offset=".35" stop-color="#ffac00"/><stop offset=".4" stop-color="#fffc00"/><stop offset=".4017" stop-color="#ff0"/><stop offset=".45" stop-color="#79ff33"/><stop offset=".4629" stop-color="#55ff41"/><stop offset=".4725" stop-color="#00ff50"/><stop offset=".5" stop-color="#00ff86"/><stop offset=".55" stop-color="#00ffe7"/><stop offset=".5624" stop-color="#0ff"/><stop offset=".6" stop-color="#00c6ff"/><stop offset=".65" stop-color="#007eff"/><stop offset=".7" stop-color="#003dff"/><stop offset=".75" stop-color="#0003ff"/><stop offset=".7533" stop-color="#00f"/><stop offset=".8" stop-color="#0000d6"/><stop offset=".85" stop-color="#0000b4"/><stop offset=".9" stop-color="#00009c"/><stop offset=".95" stop-color="#00008e"/><stop offset="1" stop-color="#00008a"/></linearGradient>
<linearGradient id="h89" href="#hb"><stop offset="0" stop-color="#a70000"/><stop offset=".05" stop-color="#af0000"/><stop offset=".1" stop-color="#c50000"/><stop offset=".15" stop-color="#ea0000"/><stop offset=".1722" stop-color="#f00"/><stop offset=".2" stop-color="#f00"/><stop offset=".223" stop-color="#f00"/><stop offset=".25" stop-color="#ff2000"/><stop offset=".3" stop-color="#ff6300"/><stop offset=".35" stop-color="#ffad00"/><stop offset=".4" stop-color="#fffd00"/><stop offset=".4012" stop-color="#ff0"/><stop offset=".45" stop-color="#78ff34"/><stop offset=".4625" stop-color="#55ff41"/><stop offset=".4721" stop-color="#00ff50"/><stop offset=".5" stop-color="#00ff87"/><stop offset=".55" stop-color="#00ffe8"/><stop offset=".5621" stop-color="#0ff"/><stop offset=".6" stop-color="#00c5ff"/><stop offset=".65" stop-color="#007eff"/><stop offset=".7" stop-color="#003cff"/><stop offset=".75" stop-color="#0003ff"/><stop offset=".7532" stop-color="#00f"/><stop offset=".8" stop-color="#0000d6"/><stop offset=".85" stop-color="#0000b4"/><stop offset=".9" stop-color="#00009c"/><stop offset=".95" stop-color="#00008e"/><stop offset="1" stop-color="#00008a"/></linearGradient>
<linearGradient id="h90" href="#hb"><stop offset="0" stop-color="#a90000"/><stop offset=".05" stop-color="#b00000"/><stop offset=".1" stop-color="#c70000"/><stop offset=".15" stop-color="#ec0000"/><stop offset=".1709" stop-color="#f00"/><stop offset=".2" stop-color="#f00"/><stop offset=".2221" stop-color="#f00"/><stop offset=".25" stop-color="#ff2100"/><stop offset=".3" stop-color="#ff6300"/><stop offset=".35" stop-color="#ffae00"/><stop offset=".4" stop-color="#fffe00"/><stop offset=".4009" stop-color="#ff0"/><stop offset=".45" stop-color="#78ff34"/><stop offset=".4624" stop-color="#55ff41"/><stop offset=".472" stop-color="#00ff50"/><stop offset=".5" stop-color="#00ff87"/><stop offset=".55" stop-color="#00ffe8"/><stop offset=".5621" stop-color="#0ff"/><stop offset=".6" stop-color="#00c5ff"/><stop offset=".65" stop-color="#007eff"/><stop offset=".7" stop-color="#003dff"/><stop offset=".75" stop-color="#0004ff"/><stop offset=".7534" stop-color="#00f"/><stop offset=".8" stop-color="#0000d7"/><stop offset=".85" stop-color="#0000b4"/><stop offset=".9" stop-color="#00009c"/><stop offset=".95" stop-color="#00008e"/><stop offset="1" stop-color="#00008a"/></linearGradient>
<linearGradient id="h91" href="#hb"><stop offset="0" stop-color="#a00"/><stop offset=".05" stop-color="#b20000"/><stop offset=".1" stop-color="#c80000"/><stop offset=".15" stop-color="#ed0000"/><stop offset=".1697" stop-color="#f00"/><stop offset=".2" stop-color="#f00"/><stop offset=".2213" stop-color="#f00"/><stop offset=".25" stop-color="#f20"/><stop offset=".3" stop-color="#ff6400"/><stop offset=".35" stop-color="#ffae00"/><stop offset=".4" stop-color="#fffd00"/><stop offset=".4009" stop-color="#ff0"/><stop offset=".45" stop-color="#78ff34"/><stop offset=".4626" stop-color="#55ff41"/><stop offset=".4722" stop-color="#00ff50"/><stop offset=".5" stop-color="#00ff86"/><stop offset=".55" stop-color="#00ffe7"/><stop offset=".5625" stop-color="#0ff"/><stop offset=".6" stop-color="#00c6ff"/><stop offset=".65" stop-color="#007fff"/><stop offset=".7" stop-color="#003dff"/><stop offset=".75" stop-color="#0004ff"/><stop offset=".754" stop-color="#00f"/><stop offset=".8" stop-color="#0000d7"/><stop offset=".85" stop-color="#0000b5"/><stop offset=".9" stop-color="#00009c"/><stop offset=".95" stop-color="#00008e"/><stop offset="1" stop-color="#00008a"/></linearGradient>
<linearGradient id="h92" href="#hb"><stop offset="0" stop-color="#ac0000"/><stop offset=".05" stop-color="#b30000"/><stop offset=".1" stop-color="#c90000"/><stop offset=".15" stop-color="#e00"/><stop offset=".1687" stop-color="#f00"/><stop offset=".2" stop-color="#f00"/><stop offset=".2208" stop-color="#f00"/><stop offset=".25" stop-color="#f20"/><stop offset=".3" stop-color="#ff6400"/><stop offset=".35" stop-color="#ffae00"/><stop offset=".4" stop-color="#fffd00"/><stop offset=".4012" stop-color="#ff0"/><stop offset=".45" stop-color="#79ff33"/><stop offset=".4631" stop-color="#55ff41"/><stop offset=".4727" stop-color="#00ff50"/><stop offset=".5" stop-color="#00ff85"/><stop offset=".55" stop-color="#00ffe6"/><stop offset=".5633" stop-color="#0ff"/><stop offset=".6" stop-color="#00c7ff"/><stop offset=".65" stop-color="#0080ff"/><stop offset=".7" stop-color="#003eff"/><stop offset=".75" stop-color="#0005ff"/><stop offset=".755" stop-color="#00f"/><stop offset=".8" stop-color="#0000d8"/><stop offset=".85" stop-color="#0000b5"/><stop offset=".9" stop-color="#00009d"/><stop offset=".95" stop-color="#00008e"/><stop offset="1" stop-color="#00008a"/></linearGradient>
<linearGradient id="h93" href="#hb"><stop offset="0" stop-color="#ad0000"/><stop offset=".05" stop-color="#b40000"/><stop offset=".1" stop-color="#ca0000"/><stop offset=".15" stop-color="#ef0000"/><stop offset=".168" stop-color="#f00"/><stop offset=".2" stop-color="#f00"/><stop offset=".2205" stop-color="#f00"/><stop offset=".25" stop-color="#f20"/><stop offset=".3" stop-color="#ff6400"/><stop offset=".35" stop-color="#ffad00"/><stop offset=".4" stop-color="#fffc00"/><stop offset=".4018" stop-color="#ff0"/><stop offset=".45" stop-color="#7bff32"/><stop offset=".4638" stop-color="#55ff41"/><stop offset=".4735" stop-color="#00ff50"/><stop offset=".5" stop-color="#00ff84"/><stop offset=".55" stop-color="#00ffe4"/><stop offset=".5642" stop-color="#0ff"/><stop offset=".6" stop-color="#00c9ff"/><stop offset=".65" stop-color="#0081ff"/><stop offset=".7" stop-color="#0040ff"/><stop offset=".75" stop-color="#0006ff"/><stop offset=".7561" stop-color="#00f"/><stop offset=".8" stop-color="#0000d9"/><stop offset=".85" stop-color="#0000b6"/><stop offset=".9" stop-color="#00009d"/><stop offset=".95" stop-color="#00008e"/><stop offset="1" stop-color="#00008a"/></linearGradient>
<linearGradient id="h94" href="#hb"><stop offset="0" stop-color="#ae0000"/><stop offset=".05" stop-color="#b50000"/><stop offset=".1" stop-color="#cb0000"/><stop offset=".15" stop-color="#ef0000"/><stop offset=".1676" stop-color="#f00"/><stop offset=".2" stop-color="#f00"/><stop offset=".2205" stop-color="#f00"/><stop offset=".25" stop-color="#f20"/><stop offset=".3" stop-color="#ff6300"/><stop offset=".35" stop-color="#ffac00"/><stop offset=".4" stop-color="#fffb00"/><stop offset=".4025" stop-color="#ff0"/><stop offset=".45" stop-color="#7eff31"/><stop offset=".4648" stop-color="#55ff41"/><stop offset=".4745" stop-color="#00ff50"/><stop offset=".5" stop-color="#00ff82"/><stop offset=".55" stop-color="#00ffe2"/><stop offset=".5654" stop-color="#0ff"/><stop offset=".6" stop-color="#00cbff"/><stop offset=".65" stop-color="#0083ff"/><stop offset=".7" stop-color="#0042ff"/><stop offset=".75" stop-color="#0008ff"/><stop offset=".7575" stop-color="#00f"/><stop offset=".8" stop-color="#0000da"/><stop offset=".85" stop-color="#0000b7"/><stop offset=".9" stop-color="#00009d"/><stop offset=".95" stop-color="#00008f"/><stop offset="1" stop-color="#00008a"/></linearGradient>
<linearGradient id="h95" href="#hb"><stop offset="0" stop-color="#ae0000"/><stop offset=".05" stop-color="#b60000"/><stop offset=".1" stop-color="#c00"/><stop offset=".15" stop-color="#ef0000"/><stop offset=".1675" stop-color="#f00"/><stop offset=".2" stop-color="#f00"/><stop offset=".2207" stop-color="#f00"/><stop offset=".25" stop-color="#f20"/><stop offset=".3" stop-color="#ff6300"/><stop offset=".35" stop-color="#ffab00"/><stop offset=".4" stop-color="#fff900"/><stop offset=".4035" stop-color="#ff0"/><stop offset=".45" stop-color="#81ff30"/><stop offset=".4659" stop-color="#55ff41"/><stop offset=".4756" stop-color="#00ff50"/><stop offset=".5" stop-color="#00ff7f"/><stop offset=".55" stop-color="#00ffdf"/><stop offset=".5668" stop-color="#0ff"/><stop offset=".6" stop-color="#00cdff"/><stop offset=".65" stop-color="#0085ff"/><stop offset=".7" stop-color="#04f"/><stop offset=".75" stop-color="#000aff"/><stop offset=".759" stop-color="#00f"/><stop offset=".8" stop-color="#0000db"/><stop offset=".85" stop-color="#0000b7"/><stop offset=".9" stop-color="#00009e"/><stop offset=".95" stop-color="#00008f"/><stop offset="1" stop-color="#00008a"/></linearGradient>
<linearGradient id="h96" href="#hb"><stop offset="0" stop-color="#af0000"/><stop offset=".05" stop-color="#b60000"/><stop offset=".1" stop-color="#c00"/><stop offset=".15" stop-color="#ef0000"/><stop offset=".1678" stop-color="#f00"/><stop offset=".2" stop-color="#f00"/><stop offset=".2212" stop-color="#f00"/><stop offset=".25" stop-color="#ff2100"/><stop offset=".3" stop-color="#ff6100"/><stop offset=".35" stop-color="#fa0"/><stop offset=".4" stop-color="#fff800"/><stop offset=".4046" stop-color="#ff0"/><stop offset=".45" stop-color="#84ff2f"/><stop offset=".4672" stop-color="#55ff41"/><stop offset=".4769" stop-color="#00ff50"/><stop offset=".5" stop-color="#00ff7d"/><stop offset=".55" stop-color="#0fd"/><stop offset=".5683" stop-color="#0ff"/><stop offset=".6" stop-color="#00cfff"/><stop offset=".65" stop-color="#0087ff"/><stop offset=".7" stop-color="#0046ff"/><stop offset=".75" stop-color="#000bff"/><stop offset=".7606" stop-color="#00f"/><stop offset=".8" stop-color="#0000dc"/><stop offset=".85" stop-color="#0000b8"/><stop offset=".9" stop-color="#00009e"/><stop offset=".95" stop-color="#00008f"/><stop offset="1" stop-color="#00008a"/></linearGradient>
<linearGradient id="h97" href="#hb"><stop offset="0" stop-color="#af0000"/><stop offset=".05" stop-color="#b60000"/><stop offset=".1" stop-color="#cb0000"/><stop offset=".15" stop-color="#ef0000"/><stop offset=".1684" stop-color="#f00"/><stop offset=".2" stop-color="#f00"/><stop offset=".2219" stop-color="#f00"/><stop offset=".25" stop-color="#ff2000"/><stop offset=".3" stop-color="#ff6000"/><stop offset=".35" stop-color="#ffa800"/><stop offset=".4" stop-color="#fff600"/><stop offset=".4058" stop-color="#ff0"/><stop offset=".45" stop-color="#88ff2e"/><stop offset=".4685" stop-color="#55ff41"/><stop offset=".4783" stop-color="#00ff50"/><stop offset=".5" stop-color="#00ff7a"/><stop offset=".55" stop-color="#00ffda"/><stop offset=".5698" stop-color="#0ff"/><stop offset=".6" stop-color="#00d1ff"/><stop offset=".65" stop-color="#008aff"/><stop offset=".7" stop-color="#0048ff"/><stop offset=".75" stop-color="#000dff"/><stop offset=".7622" stop-color="#00f"/><stop offset=".8" stop-color="#00d"/><stop offset=".85" stop-color="#0000b9"/><stop offset=".9" stop-color="#00009f"/><stop offset=".95" stop-color="#00008f"/><stop offset="1" stop-color="#00008a"/></linearGradient>
<linearGradient id="h98" href="#hb"><stop offset="0" stop-color="#ae0000"/><stop offset=".05" stop-color="#b50000"/><stop offset=".1" stop-color="#cb0000"/><stop offset=".15" stop-color="#e00"/><stop offset=".1693" stop-color="#f00"/><stop offset=".2" stop-color="#f00"/><stop offset=".2229" stop-color="#f00"/><stop offset=".25" stop-color="#ff1f00"/><stop offset=".3" stop-color="#ff5f00"/><stop offset=".35" stop-color="#ffa600"/><stop offset=".4" stop-color="#fff400"/><stop offset=".4071" stop-color="#ff0"/><stop offset=".45" stop-color="#8cff2c"/><stop offset=".4699" stop-color="#55ff41"/><stop offset=".4797" stop-color="#00ff50"/><stop offset=".5" stop-color="#0f7"/><stop offset=".55" stop-color="#00ffd7"/><stop offset=".5713" stop-color="#0ff"/><stop offset=".6" stop-color="#00d4ff"/><stop offset=".65" stop-color="#008cff"/><stop offset=".7" stop-color="#004aff"/><stop offset=".75" stop-color="#000fff"/><stop offset=".7638" stop-color="#00f"/><stop offset=".8" stop-color="#0000df"/><stop offset=".85" stop-color="#0000ba"/><stop offset=".9" stop-color="#00009f"/><stop offset=".95" stop-color="#00008f"/><stop offset="1" stop-color="#00008a"/></linearGradient>
<linearGradient id="h99" href="#hb"><stop offset="0" stop-color="#ad0000"/><stop offset=".05" stop-color="#b40000"/><stop offset=".1" stop-color="#ca0000"/><stop offset=".15" stop-color="#ed0000"/><stop offset=".1705" stop-color="#f00"/><stop offset=".2" stop-color="#f00"/><stop offset=".2241" stop-color="#f00"/><stop offset=".25" stop-color="#ff1d00"/><stop offset=".3" stop-color="#ff5d00"/><stop offset=".35" stop-color="#ffa400"/><stop offset=".4" stop-color="#fff200"/><stop offset=".4084" stop-color="#ff0"/><stop offset=".45" stop-color="#8fff2b"/><stop offset=".4713" stop-color="#55ff41"/><stop offset=".4811" stop-color="#00ff50"/><stop offset=".5" stop-color="#00ff74"/><stop offset=".55" stop-color="#00ffd4"/><stop offset=".5728" stop-color="#0ff"/><stop offset=".6" stop-color="#00d6ff"/><stop offset=".65" stop-color="#008eff"/><stop offset=".7" stop-color="#004bff"/><stop offset=".75" stop-color="#0010ff"/><stop offset=".7652" stop-color="#00f"/><stop offset=".8" stop-color="#0000e0"/><stop offset=".85" stop-color="#00b"/><stop offset=".9" stop-color="#0000a0"/><stop offset=".95" stop-color="#00008f"/><stop offset="1" stop-color="#00008a"/></linearGradient>
<linearGradient id="h100" href="#hb"><stop offset="0" stop-color="#ac0000"/><stop offset=".05" stop-color="#b30000"/><stop offset=".1" stop-color="#c90000"/><stop offset=".15" stop-color="#ec0000"/><stop offset=".172" stop-color="#f00"/><stop offset=".2" stop-color="#f00"/><stop offset=".2254" stop-color="#f00"/><stop offset=".25" stop-color="#ff1c00"/><stop offset=".3" stop-color="#ff5b00"/><stop offset=".35" stop-color="#ffa300"/><stop offset=".4" stop-color="#fff000"/><stop offset=".4096" stop-color="#ff0"/><stop offset=".45" stop-color="#93ff29"/><stop offset=".4725" stop-color="#55ff41"/><stop offset=".4823" stop-color="#00ff50"/><stop offset=".5" stop-color="#00ff72"/><stop offset=".55" stop-color="#00ffd2"/><stop offset=".5741" stop-color="#0ff"/><stop offset=".6" stop-color="#00d8ff"/><stop offset=".65" stop-color="#0090ff"/><stop offset=".7" stop-color="#004dff"/><stop offset=".75" stop-color="#0012ff"/><stop offset=".7664" stop-color="#00f"/><stop offset=".8" stop-color="#0000e1"/><stop offset=".85" stop-color="#00b"/><stop offset=".9" stop-color="#0000a0"/><stop offset=".95" stop-color="#000090"/><stop offset="1" stop-color="#00008a"/></linearGradient>
<linearGradient id="h101" href="#hb"><stop offset="0" stop-color="#ab0000"/><stop offset=".05" stop-color="#b20000"/><stop offset=".1" stop-color="#c70000"/><stop offset=".15" stop-color="#ea0000"/><stop offset=".1736" stop-color="#f00"/><stop offset=".2" stop-color="#f00"/><stop offset=".2267" stop-color="#f00"/><stop offset=".25" stop-color="#ff1a00"/><stop offset=".3" stop-color="#ff5a00"/><stop offset=".35" stop-color="#ffa100"/><stop offset=".4" stop-color="#fe0"/><stop offset=".4107" stop-color="#ff0"/><stop offset=".45" stop-color="#96ff28"/><stop offset=".4736" stop-color="#55ff41"/><stop offset=".4834" stop-color="#00ff50"/><stop offset=".5" stop-color="#00ff70"/><stop offset=".55" stop-color="#00ffd0"/><stop offset=".5751" stop-color="#0ff"/><stop offset=".6" stop-color="#00d9ff"/><stop offset=".65" stop-color="#0091ff"/><stop offset=".7" stop-color="#004eff"/><stop offset=".75" stop-color="#0013ff"/><stop offset=".7674" stop-color="#00f"/><stop offset=".8" stop-color="#0000e2"/><stop offset=".85" stop-color="#0000bc"/><stop offset=".9" stop-color="#0000a0"/><stop offset=".95" stop-color="#000090"/><stop offset="1" stop-color="#00008a"/></linearGradient>
<linearGradient id="h102" href="#hb"><stop offset="0" stop-color="#a90000"/><stop offset=".05" stop-color="#b00000"/><stop offset=".1" stop-color="#c60000"/><stop offset=".15" stop-color="#e80000"/><stop offset=".1753" stop-color="#f00"/><stop offset=".2" stop-color="#f00"/><stop offset=".2281" stop-color="#f00"/><stop offset=".25" stop-color="#ff1900"/><stop offset=".3" stop-color="#ff5800"/><stop offset=".35" stop-color="#ff9f00"/><stop offset=".4" stop-color="#ffec00"/><stop offset=".4118" stop-color="#ff0"/><stop offset=".45" stop-color="#98ff27"/><stop offset=".4746" stop-color="#55ff41"/><stop offset=".4844" stop-color="#00ff50"/><stop offset=".5" stop-color="#00ff6e"/><stop offset=".55" stop-color="#00ffce"/><stop offset=".5761" stop-color="#0ff"/><stop offset=".6" stop-color="#00dbff"/><stop offset=".65" stop-color="#0092ff"/><stop offset=".7" stop-color="#004fff"/><stop offset=".75" stop-color="#0014ff"/><stop offset=".7682" stop-color="#00f"/><stop offset=".8" stop-color="#0000e2"/><stop offset=".85" stop-color="#0000bc"/><stop offset=".9" stop-color="#0000a1"/><stop offset=".95" stop-color="#000090"/><stop offset="1" stop-color="#00008a"/></linearGradient>
<linearGradient id="h103" href="#hb"><stop offset="0" stop-color="#a80000"/><stop offset=".05" stop-color="#af0000"/><stop offset=".1" stop-color="#c40000"/><stop offset=".15" stop-color="#e70000"/><stop offset=".1771" stop-color="#f00"/><stop offset=".2" stop-color="#f00"/><stop offset=".2296" stop-color="#f00"/><stop offset=".25" stop-color="#ff1700"/><stop offset=".3" stop-color="#ff5700"/><stop offset=".35" stop-color="#ff9e00"/><stop offset=".4" stop-color="#ffeb00"/><stop offset=".4128" stop-color="#ff0"/><stop offset=".45" stop-color="#9bff26"/><stop offset=".4756" stop-color="#55ff41"/><stop offset=".4854" stop-color="#00ff50"/><stop offset=".5" stop-color="#00ff6c"/><stop offset=".55" stop-color="#0fc"/><stop offset=".577" stop-color="#0ff"/><stop offset=".6" stop-color="#00dcff"/><stop offset=".65" stop-color="#0094ff"/><stop offset=".7" stop-color="#0050ff"/><stop offset=".75" stop-color="#0015ff"/><stop offset=".7689" stop-color="#00f"/><stop offset=".8" stop-color="#0000e3"/><stop offset=".85" stop-color="#0000bd"/><stop offset=".9" stop-color="#0000a1"/><stop offset=".95" stop-color="#000090"/><stop offset="1" stop-color="#00008a"/></linearGradient>
<linearGradient id="h104" href="#hb"><stop offset="0" stop-color="#a60000"/><stop offset=".05" stop-color="#ad0000"/><stop offset=".1" stop-color="#c20000"/><stop offset=".15" stop-color="#e50000"/><stop offset=".179" stop-color="#f00"/><stop offset=".2" stop-color="#f00"/><stop offset=".2312" stop-color="#f00"/><stop offset=".25" stop-color="#ff1600"/><stop offset=".3" stop-color="#f50"/><stop offset=".35" stop-color="#ff9c00"/><stop offset=".4" stop-color="#ffe900"/><stop offset=".4139" stop-color="#ff0"/><stop offset=".45" stop-color="#9eff25"/><stop offset=".4766" stop-color="#55ff41"/><stop offset=".4864" stop-color="#00ff50"/><stop offset=".5" stop-color="#00ff6a"/><stop offset=".55" stop-color="#00ffca"/><stop offset=".5779" stop-color="#0ff"/><stop offset=".6" stop-color="#00deff"/><stop offset=".65" stop-color="#0095ff"/><stop offset=".7" stop-color="#0052ff"/><stop offset=".75" stop-color="#0015ff"/><stop offset=".7697" stop-color="#00f"/><stop offset=".8" stop-color="#0000e3"/><stop offset=".85" stop-color="#0000bd"/><stop offset=".9" stop-color="#0000a1"/><stop offset=".95" stop-color="#000090"/><stop offset="1" stop-color="#00008a"/></linearGradient>
<linearGradient id="h105" href="#hb"><stop offset="0" stop-color="#a40000"/><stop offset=".05" stop-color="#ab0000"/><stop offset=".1" stop-color="#c00000"/><stop offset=".15" stop-color="#e30000"/><stop offset=".1808" stop-color="#f00"/><stop offset=".2" stop-color="#f00"/><stop offset=".2326" stop-color="#f00"/><stop offset=".25" stop-color="#ff1400"/><stop offset=".3" stop-color="#ff5300"/><stop offset=".35" stop-color="#ff9a00"/><stop offset=".4" stop-color="#ffe700"/><stop offset=".4149" stop-color="#ff0"/><stop offset=".45" stop-color="#a1ff24"/><stop offset=".4776" stop-color="#55ff41"/><stop offset=".4873" stop-color="#00ff50"/><stop offset=".5" stop-color="#00ff68"/><stop offset=".55" stop-color="#00ffc8"/><stop offset=".5788" stop-color="#0ff"/><stop offset=".6" stop-color="#00dfff"/><stop offset=".65" stop-color="#0096ff"/><stop offset=".7" stop-color="#0053ff"/><stop offset=".75" stop-color="#0016ff"/><stop offset=".7704" stop-color="#00f"/><stop offset=".8" stop-color="#0000e4"/><stop offset=".85" stop-color="#0000be"/><stop offset=".9" stop-color="#0000a1"/><stop offset=".95" stop-color="#000090"/><stop offset="1" stop-color="#00008a"/></linearGradient>
<linearGradient id="h106" href="#hb"><stop offset="0" stop-color="#a30000"/><stop offset=".05" stop-color="#a00"/><stop offset=".1" stop-color="#bf0000"/><stop offset=".15" stop-color="#e20000"/><stop offset=".1825" stop-color="#f00"/><stop offset=".2" stop-color="#f00"/><stop offset=".234" stop-color="#f00"/><stop offset=".25" stop-color="#ff1200"/><stop offset=".3" stop-color="#ff5200"/><stop offset=".35" stop-color="#f90"/><stop offset=".4" stop-color="#ffe600"/><stop offset=".4159" stop-color="#ff0"/><stop offset=".45" stop-color="#a3ff23"/><stop offset=".4785" stop-color="#55ff41"/><stop offset=".4882" stop-color="#00ff50"/><stop offset=".5" stop-color="#00ff67"/><stop offset=".55" stop-color="#00ffc7"/><stop offset=".5797" stop-color="#0ff"/><stop offset=".6" stop-color="#00e0ff"/><stop offset=".65" stop-color="#0097ff"/><stop offset=".7" stop-color="#0053ff"/><stop offset=".75" stop-color="#0017ff"/><stop offset=".7711" stop-color="#00f"/><stop offset=".8" stop-color="#0000e4"/><stop offset=".85" stop-color="#0000be"/><stop offset=".9" stop-color="#0000a2"/><stop offset=".95" stop-color="#000090"/><stop offset="1" stop-color="#00008a"/></linearGradient>
<linearGradient id="h107" href="#hb"><stop offset="0" stop-color="#a10000"/><stop offset=".05" stop-color="#a80000"/><stop offset=".1" stop-color="#bd0000"/><stop offset=".15" stop-color="#e00000"/><stop offset=".184" stop-color="#f00"/><stop offset=".2" stop-color="#f00"/><stop offset=".2352" stop-color="#f00"/><stop offset=".25" stop-color="#f10"/><stop offset=".3" stop-color="#ff5000"/><stop offset=".35" stop-color="#ff9700"/><stop offset=".4" stop-color="#ffe400"/><stop offset=".4167" stop-color="#ff0"/><stop offset=".45" stop-color="#a5ff22"/><stop offset=".4793" stop-color="#55ff41"/><stop offset=".489" stop-color="#00ff50"/><stop offset=".5" stop-color="#00ff65"/><stop offset=".55" stop-color="#00ffc5"/><stop offset=".5804" stop-color="#0ff"/><stop offset=".6" stop-color="#00e1ff"/><stop offset=".65" stop-color="#0098ff"/><stop offset=".7" stop-color="#0054ff"/><stop offset=".75" stop-color="#0018ff"/><stop offset=".7717" stop-color="#00f"/><stop offset=".8" stop-color="#0000e5"/><stop offset=".85" stop-color="#0000be"/><stop offset=".9" stop-color="#0000a2"/><stop offset=".95" stop-color="#000090"/><stop offset="1" stop-color="#00008a"/></linearGradient>
<linearGradient id="h108" href="#hb"><stop offset="0" stop-color="#a00000"/><stop offset=".05" stop-color="#a70000"/><stop offset=".1" stop-color="#bc0000"/><stop offset=".15" stop-color="#df0000"/><stop offset=".1851" stop-color="#f00"/><stop offset=".2" stop-color="#f00"/><stop offset=".2362" stop-color="#f00"/><stop offset=".25" stop-color="#ff1000"/><stop offset=".3" stop-color="#ff4f00"/><stop offset=".35" stop-color="#ff9600"/><stop offset=".4" stop-color="#ffe300"/><stop offset=".4174" stop-color="#ff0"/><stop offset=".45" stop-color="#a7ff22"/><stop offset=".48" stop-color="#55ff41"/><stop offset=".4897" stop-color="#00ff50"/><stop offset=".5" stop-color="#00ff64"/><stop offset=".55" stop-color="#00ffc4"/><stop offset=".581" stop-color="#0ff"/><stop offset=".6" stop-color="#00e2ff"/><stop offset=".65" stop-color="#09f"/><stop offset=".7" stop-color="#05f"/><stop offset=".75" stop-color="#0018ff"/><stop offset=".7722" stop-color="#00f"/><stop offset=".8" stop-color="#0000e5"/><stop offset=".85" stop-color="#0000bf"/><stop offset=".9" stop-color="#0000a2"/><stop offset=".95" stop-color="#000090"/><stop offset="1" stop-color="#00008a"/></linearGradient>
<linearGradient id="h109" href="#hb"><stop offset="0" stop-color="#a00000"/><stop offset=".05" stop-color="#a70000"/><stop offset=".1" stop-color="#bc0000"/><stop offset=".15" stop-color="#de0000"/><stop offset=".1858" stop-color="#f00"/><stop offset=".2" stop-color="#f00"/><stop offset=".2368" stop-color="#f00"/><stop offset=".25" stop-color="#ff0f00"/><stop offset=".3" stop-color="#ff4e00"/><stop offset=".35" stop-color="#ff9500"/><stop offset=".4" stop-color="#ffe200"/><stop offset=".418" stop-color="#ff0"/><stop offset=".45" stop-color="#a9ff21"/><stop offset=".4805" stop-color="#55ff41"/><stop offset=".4902" stop-color="#00ff50"/><stop offset=".5" stop-color="#00ff63"/><stop offset=".55" stop-color="#00ffc3"/><stop offset=".5815" stop-color="#0ff"/><stop offset=".6" stop-color="#00e3ff"/><stop offset=".65" stop-color="#009aff"/><stop offset=".7" stop-color="#0056ff"/><stop offset=".75" stop-color="#0019ff"/><stop offset=".7727" stop-color="#00f"/><stop offset=".8" stop-color="#0000e6"/><stop offset=".85" stop-color="#0000bf"/><stop offset=".9" stop-color="#0000a2"/><stop offset=".95" stop-color="#000090"/><stop offset="1" stop-color="#00008a"/></linearGradient>
<linearGradient id="h110" href="#hb"><stop offset="0" stop-color="#9f0000"/><stop offset=".05" stop-color="#a60000"/><stop offset=".1" stop-color="#bc0000"/><stop offset=".15" stop-color="#de0000"/><stop offset=".1861" stop-color="#f00"/><stop offset=".2" stop-color="#f00"/><stop offset=".237" stop-color="#f00"/><stop offset=".25" stop-color="#ff0f00"/><stop offset=".3" stop-color="#ff4e00"/><stop offset=".35" stop-color="#ff9500"/><stop offset=".4" stop-color="#ffe200"/><stop offset=".4183" stop-color="#ff0"/><stop offset=".45" stop-color="#a9ff21"/><stop offset=".4808" stop-color="#55ff41"/><stop offset=".4905" stop-color="#00ff50"/><stop offset=".5" stop-color="#00ff62"/><stop offset=".55" stop-color="#00ffc3"/><stop offset=".5819" stop-color="#0ff"/><stop offset=".6" stop-color="#00e3ff"/><stop offset=".65" stop-color="#009aff"/><stop offset=".7" stop-color="#0056ff"/><stop offset=".75" stop-color="#0019ff"/><stop offset=".773" stop-color="#00f"/><stop offset=".8" stop-color="#0000e6"/><stop offset=".85" stop-color="#0000bf"/><stop offset=".9" stop-color="#0000a2"/><stop offset=".95" stop-color="#000090"/><stop offset="1" stop-color="#00008a"/></linearGradient>
<linearGradient id="h111" href="#hb"><stop offset="0" stop-color="#a00000"/><stop offset=".05" stop-color="#a70000"/><stop offset=".1" stop-color="#bc0000"/><stop offset=".15" stop-color="#de0000"/><stop offset=".1858" stop-color="#f00"/><stop offset=".2" stop-color="#f00"/><stop offset=".2369" stop-color="#f00"/><stop offset=".25" stop-color="#ff0f00"/><stop offset=".3" stop-color="#ff4e00"/><stop offset=".35" stop-color="#ff9500"/><stop offset=".4" stop-color="#ffe200"/><stop offset=".4183" stop-color="#ff0"/><stop offset=".45" stop-color="#aaff21"/><stop offset=".4809" stop-color="#55ff41"/><stop offset=".4907" stop-color="#00ff50"/><stop offset=".5" stop-color="#00ff62"/><stop offset=".55" stop-color="#00ffc2"/><stop offset=".5821" stop-color="#0ff"/><stop offset=".6" stop-color="#00e4ff"/><stop offset=".65" stop-color="#009aff"/><stop offset=".7" stop-color="#0056ff"/><stop offset=".75" stop-color="#001aff"/><stop offset=".7732" stop-color="#00f"/><stop offset=".8" stop-color="#0000e6"/><stop offset=".85" stop-color="#0000bf"/><stop offset=".9" stop-color="#0000a2"/><stop offset=".95" stop-color="#000090"/><stop offset="1" stop-color="#00008a"/></linearGradient>
<linearGradient id="h112" href="#hb"><stop offset="0" stop-color="#a10000"/><stop offset=".05" stop-color="#a80000"/><stop offset=".1" stop-color="#bd0000"/><stop offset=".15" stop-color="#df0000"/><stop offset=".1848" stop-color="#f00"/><stop offset=".2" stop-color="#f00"/><stop offset=".2362" stop-color="#f00"/><stop offset=".25" stop-color="#ff1000"/><stop offset=".3" stop-color="#ff4f00"/><stop offset=".35" stop-color="#ff9500"/><stop offset=".4" stop-color="#ffe200"/><stop offset=".4181" stop-color="#ff0"/><stop offset=".45" stop-color="#a9ff21"/><stop offset=".4808" stop-color="#55ff41"/><stop offset=".4905" stop-color="#00ff50"/><stop offset=".5" stop-color="#00ff62"/><stop offset=".55" stop-color="#00ffc2"/><stop offset=".5821" stop-color="#0ff"/><stop offset=".6" stop-color="#00e4ff"/><stop offset=".65" stop-color="#009bff"/><stop offset=".7" stop-color="#0057ff"/><stop offset=".75" stop-color="#001aff"/><stop offset=".7733" stop-color="#00f"/><stop offset=".8" stop-color="#0000e6"/><stop offset=".85" stop-color="#0000bf"/><stop offset=".9" stop-color="#0000a2"/><stop offset=".95" stop-color="#000090"/><stop offset="1" stop-color="#00008a"/></linearGradient>
<linearGradient id="h113" href="#hb"><stop offset="0" stop-color="#a30000"/><stop offset=".05" stop-color="#a00"/><stop offset=".1" stop-color="#bf0000"/><stop offset=".15" stop-color="#e10000"/><stop offset=".1832" stop-color="#f00"/><stop offset=".2" stop-color="#f00"/><stop offset=".2349" stop-color="#f00"/><stop offset=".25" stop-color="#f10"/><stop offset=".3" stop-color="#ff5000"/><stop offset=".35" stop-color="#ff9600"/><stop offset=".4" stop-color="#ffe300"/><stop offset=".4176" stop-color="#ff0"/><stop offset=".45" stop-color="#a8ff21"/><stop offset=".4804" stop-color="#55ff41"/><stop offset=".4902" stop-color="#00ff50"/><stop offset=".5" stop-color="#00ff63"/><stop offset=".55" stop-color="#00ffc3"/><stop offset=".5818" stop-color="#0ff"/><stop offset=".6" stop-color="#00e3ff"/><stop offset=".65" stop-color="#009aff"/><stop offset=".7" stop-color="#0056ff"/><stop offset=".75" stop-color="#001aff"/><stop offset=".7733" stop-color="#00f"/><stop offset=".8" stop-color="#0000e6"/><stop offset=".85" stop-color="#0000bf"/><stop offset=".9" stop-color="#0000a2"/><stop offset=".95" stop-color="#000090"/><stop offset="1" stop-color="#00008a"/></linearGradient>
<linearGradient id="h114" href="#hb"><stop offset="0" stop-color="#a50000"/><stop offset=".05" stop-color="#ac0000"/><stop offset=".1" stop-color="#c10000"/><stop offset=".15" stop-color="#e40000"/><stop offset=".1807" stop-color="#f00"/><stop offset=".2" stop-color="#f00"/><stop offset=".2331" stop-color="#f00"/><stop offset=".25" stop-color="#ff1300"/><stop offset=".3" stop-color="#ff5200"/><stop offset=".35" stop-color="#ff9800"/><stop offset=".4" stop-color="#ffe400"/><stop offset=".4167" stop-color="#ff0"/><stop offset=".45" stop-color="#a6ff22"/><stop offset=".4797" stop-color="#55ff41"/><stop offset=".4895" stop-color="#00ff50"/><stop offset=".5" stop-color="#00ff64"/><stop offset=".55" stop-color="#00ffc4"/><stop offset=".5814" stop-color="#0ff"/><stop offset=".6" stop-color="#00e3ff"/><stop offset=".65" stop-color="#009aff"/><stop offset=".7" stop-color="#0056ff"/><stop offset=".75" stop-color="#0019ff"/><stop offset=".7732" stop-color="#00f"/><stop offset=".8" stop-color="#0000e6"/><stop offset=".85" stop-color="#0000bf"/><stop offset=".9" stop-color="#0000a2"/><stop offset=".95" stop-color="#000090"/><stop offset="1" stop-color="#00008a"/></linearGradient>
<linearGradient id="h115" href="#hb"><stop offset="0" stop-color="#a90000"/><stop offset=".05" stop-color="#b00000"/><stop offset=".1" stop-color="#c50000"/><stop offset=".15" stop-color="#e70000"/><stop offset=".1775" stop-color="#f00"/><stop offset=".2" stop-color="#f00"/><stop offset=".2306" stop-color="#f00"/><stop offset=".25" stop-color="#ff1600"/><stop offset=".3" stop-color="#ff5400"/><stop offset=".35" stop-color="#ff9a00"/><stop offset=".4" stop-color="#ffe600"/><stop offset=".4156" stop-color="#ff0"/><stop offset=".45" stop-color="#a3ff23"/><stop offset=".4788" stop-color="#55ff41"/><stop offset=".4887" stop-color="#00ff50"/><stop offset=".5" stop-color="#0f6"/><stop offset=".55" stop-color="#00ffc5"/><stop offset=".5808" stop-color="#0ff"/><stop offset=".6" stop-color="#00e2ff"/><stop offset=".65" stop-color="#09f"/><stop offset=".7" stop-color="#0056ff"/><stop offset=".75" stop-color="#0019ff"/><stop offset=".773" stop-color="#00f"/><stop offset=".8" stop-color="#0000e6"/><stop offset=".85" stop-color="#0000bf"/><stop offset=".9" stop-color="#0000a2"/><stop offset=".95" stop-color="#000090"/><stop offset="1" stop-color="#00008a"/></linearGradient>
<linearGradient id="h116" href="#hb"><stop offset="0" stop-color="#ad0000"/><stop offset=".05" stop-color="#b40000"/><stop offset=".1" stop-color="#c90000"/><stop offset=".15" stop-color="#eb0000"/><stop offset=".1732" stop-color="#f00"/><stop offset=".2" stop-color="#f00"/><stop offset=".2275" stop-color="#f00"/><stop offset=".25" stop-color="#ff1900"/><stop offset=".3" stop-color="#ff5700"/><stop offset=".35" stop-color="#ff9d00"/><stop offset=".4" stop-color="#ffe900"/><stop offset=".4141" stop-color="#ff0"/><stop offset=".45" stop-color="#a0ff24"/><stop offset=".4777" stop-color="#55ff41"/><stop offset=".4875" stop-color="#00ff50"/><stop offset=".5" stop-color="#00ff68"/><stop offset=".55" stop-color="#00ffc7"/><stop offset=".58" stop-color="#0ff"/><stop offset=".6" stop-color="#00e1ff"/><stop offset=".65" stop-color="#0098ff"/><stop offset=".7" stop-color="#05f"/><stop offset=".75" stop-color="#0019ff"/><stop offset=".7727" stop-color="#00f"/><stop offset=".8" stop-color="#0000e6"/><stop offset=".85" stop-color="#0000bf"/><stop offset=".9" stop-color="#0000a2"/><stop offset=".95" stop-color="#000090"/><stop offset="1" stop-color="#00008a"/></linearGradient>
<linearGradient id="h117" href="#hb"><stop offset="0" stop-color="#b20000"/><stop offset=".05" stop-color="#b90000"/><stop offset=".1" stop-color="#ce0000"/><stop offset=".15" stop-color="#f00000"/><stop offset=".168" stop-color="#f00"/><stop offset=".2" stop-color="#f00"/><stop offset=".2236" stop-color="#f00"/><stop offset=".25" stop-color="#ff1d00"/><stop offset=".3" stop-color="#ff5b00"/><stop offset=".35" stop-color="#ffa000"/><stop offset=".4" stop-color="#ffec00"/><stop offset=".4123" stop-color="#ff0"/><stop offset=".45" stop-color="#9cff26"/><stop offset=".4762" stop-color="#55ff41"/><stop offset=".4861" stop-color="#00ff50"/><stop offset=".5" stop-color="#00ff6a"/><stop offset=".55" stop-color="#00ffc9"/><stop offset=".579" stop-color="#0ff"/><stop offset=".6" stop-color="#00e0ff"/><stop offset=".65" stop-color="#0097ff"/><stop offset=".7" stop-color="#0054ff"/><stop offset=".75" stop-color="#0018ff"/><stop offset=".7723" stop-color="#00f"/><stop offset=".8" stop-color="#0000e6"/><stop offset=".85" stop-color="#0000bf"/><stop offset=".9" stop-color="#0000a2"/><stop offset=".95" stop-color="#000090"/><stop offset="1" stop-color="#00008a"/></linearGradient>
<linearGradient id="h118" href="#hb"><stop offset="0" stop-color="#b80000"/><stop offset=".05" stop-color="#bf0000"/><stop offset=".1" stop-color="#d30000"/><stop offset=".15" stop-color="#f50000"/><stop offset=".1621" stop-color="#f00"/><stop offset=".2" stop-color="#f00"/><stop offset=".2193" stop-color="#f00"/><stop offset=".25" stop-color="#ff2100"/><stop offset=".3" stop-color="#ff5f00"/><stop offset=".35" stop-color="#ffa400"/><stop offset=".4" stop-color="#ffef00"/><stop offset=".4103" stop-color="#ff0"/><stop offset=".45" stop-color="#97ff28"/><stop offset=".4746" stop-color="#55ff41"/><stop offset=".4846" stop-color="#00ff50"/><stop offset=".5" stop-color="#00ff6d"/><stop offset=".55" stop-color="#00ffcb"/><stop offset=".5779" stop-color="#0ff"/><stop offset=".6" stop-color="#00deff"/><stop offset=".65" stop-color="#0096ff"/><stop offset=".7" stop-color="#0053ff"/><stop offset=".75" stop-color="#0018ff"/><stop offset=".7718" stop-color="#00f"/><stop offset=".8" stop-color="#0000e5"/><stop offset=".85" stop-color="#0000bf"/><stop offset=".9" stop-color="#0000a2"/><stop offset=".95" stop-color="#000090"/><stop offset="1" stop-color="#00008a"/></linearGradient>
<linearGradient id="h119" href="#hb"><stop offset="0" stop-color="#be0000"/><stop offset=".05" stop-color="#c40000"/><stop offset=".1" stop-color="#d90000"/><stop offset=".15" stop-color="#fa0000"/><stop offset=".1558" stop-color="#f00"/><stop offset=".2" stop-color="#f00"/><stop offset=".2148" stop-color="#f00"/><stop offset=".25" stop-color="#ff2600"/><stop offset=".3" stop-color="#ff6300"/><stop offset=".35" stop-color="#ffa800"/><stop offset=".4" stop-color="#fff200"/><stop offset=".4082" stop-color="#ff0"/><stop offset=".45" stop-color="#92ff2a"/><stop offset=".4729" stop-color="#55ff41"/><stop offset=".483" stop-color="#00ff50"/><stop offset=".5" stop-color="#00ff70"/><stop offset=".55" stop-color="#00ffce"/><stop offset=".5767" stop-color="#0ff"/><stop offset=".6" stop-color="#00dcff"/><stop offset=".65" stop-color="#0095ff"/><stop offset=".7" stop-color="#0053ff"/><stop offset=".75" stop-color="#0017ff"/><stop offset=".7713" stop-color="#00f"/><stop offset=".8" stop-color="#0000e5"/><stop offset=".85" stop-color="#0000bf"/><stop offset=".9" stop-color="#0000a2"/><stop offset=".95" stop-color="#000090"/><stop offset="1" stop-color="#00008a"/></linearGradient>
<linearGradient id="h120" href="#hb"><stop offset="0" stop-color="#c30000"/><stop offset=".05" stop-color="#ca0000"/><stop offset=".1" stop-color="#de0000"/><stop offset=".149" stop-color="#f00"/><stop offset=".15" stop-color="#f00"/><stop offset=".2" stop-color="#f00"/><stop offset=".2101" stop-color="#f00"/><stop offset=".25" stop-color="#ff2a00"/><stop offset=".3" stop-color="#ff6700"/><stop offset=".35" stop-color="#ffab00"/><stop offset=".4" stop-color="#fff600"/><stop offset=".406" stop-color="#ff0"/><stop offset=".45" stop-color="#8dff2c"/><stop offset=".4712" stop-color="#55ff41"/><stop offset=".4813" stop-color="#00ff50"/><stop offset=".5" stop-color="#00ff73"/><stop offset=".55" stop-color="#00ffd0"/><stop offset=".5755" stop-color="#0ff"/><stop offset=".6" stop-color="#00dbff"/><stop offset=".65" stop-color="#0094ff"/><stop offset=".7" stop-color="#0052ff"/><stop offset=".75" stop-color="#0016ff"/><stop offset=".7707" stop-color="#00f"/><stop offset=".8" stop-color="#0000e5"/><stop offset=".85" stop-color="#0000be"/><stop offset=".9" stop-color="#0000a2"/><stop offset=".95" stop-color="#000090"/><stop offset="1" stop-color="#00008a"/></linearGradient>
<linearGradient id="h121" href="#hb"><stop offset="0" stop-color="#c90000"/><stop offset=".05" stop-color="#d00000"/><stop offset=".1" stop-color="#e40000"/><stop offset=".1419" stop-color="#f00"/><stop offset=".15" stop-color="#f00"/><stop offset=".2" stop-color="#f00"/><stop offset=".2052" stop-color="#f00"/><stop offset=".25" stop-color="#ff2f00"/><stop offset=".3" stop-color="#ff6b00"/><stop offset=".35" stop-color="#ffaf00"/><stop offset=".4" stop-color="#fff900"/><stop offset=".4038" stop-color="#ff0"/><stop offset=".45" stop-color="#88ff2d"/><stop offset=".4694" stop-color="#55ff41"/><stop offset=".4796" stop-color="#00ff50"/><stop offset=".5" stop-color="#00ff76"/><stop offset=".55" stop-color="#00ffd3"/><stop offset=".5742" stop-color="#0ff"/><stop offset=".6" stop-color="#00d9ff"/><stop offset=".65" stop-color="#0092ff"/><stop offset=".7" stop-color="#0051ff"/><stop offset=".75" stop-color="#0016ff"/><stop offset=".7702" stop-color="#00f"/><stop offset=".8" stop-color="#0000e4"/><stop offset=".85" stop-color="#0000be"/><stop offset=".9" stop-color="#0000a2"/><stop offset=".95" stop-color="#000090"/><stop offset="1" stop-color="#00008a"/></linearGradient>
<linearGradient id="h122" href="#hb"><stop offset="0" stop-color="#cf0000"/><stop offset=".05" stop-color="#d50000"/><stop offset=".1" stop-color="#ea0000"/><stop offset=".1345" stop-color="#f00"/><stop offset=".15" stop-color="#f00"/><stop offset=".2" stop-color="#f00"/><stop offset=".2003" stop-color="#f00"/><stop offset=".25" stop-color="#f30"/><stop offset=".3" stop-color="#ff6f00"/><stop offset=".35" stop-color="#ffb300"/><stop offset=".4" stop-color="#fffc00"/><stop offset=".4017" stop-color="#ff0"/><stop offset=".45" stop-color="#83ff2f"/><stop offset=".4677" stop-color="#55ff41"/><stop offset=".4779" stop-color="#00ff50"/><stop offset=".5" stop-color="#00ff79"/><stop offset=".55" stop-color="#00ffd5"/><stop offset=".573" stop-color="#0ff"/><stop offset=".6" stop-color="#00d7ff"/><stop offset=".65" stop-color="#0091ff"/><stop offset=".7" stop-color="#0050ff"/><stop offset=".75" stop-color="#0015ff"/><stop offset=".7696" stop-color="#00f"/><stop offset=".8" stop-color="#0000e4"/><stop offset=".85" stop-color="#0000be"/><stop offset=".9" stop-color="#0000a2"/><stop offset=".95" stop-color="#000090"/><stop offset="1" stop-color="#00008a"/></linearGradient>
<linearGradient id="h123" href="#hb"><stop offset="0" stop-color="#d40000"/><stop offset=".05" stop-color="#db0000"/><stop offset=".1" stop-color="#ef0000"/><stop offset=".1267" stop-color="#f00"/><stop offset=".15" stop-color="#f00"/><stop offset=".1952" stop-color="#f00"/><stop offset=".2" stop-color="#ff0400"/><stop offset=".25" stop-color="#ff3700"/><stop offset=".3" stop-color="#ff7300"/><stop offset=".35" stop-color="#ffb700"/><stop offset=".3995" stop-color="#ff0"/><stop offset=".4" stop-color="#feff01"/><stop offset=".45" stop-color="#7eff31"/><stop offset=".4659" stop-color="#55ff41"/><stop offset=".4762" stop-color="#00ff50"/><stop offset=".5" stop-color="#00ff7c"/><stop offset=".55" stop-color="#00ffd8"/><stop offset=".5718" stop-color="#0ff"/><stop offset=".6" stop-color="#00d6ff"/><stop offset=".65" stop-color="#0090ff"/><stop offset=".7" stop-color="#004fff"/><stop offset=".75" stop-color="#0014ff"/><stop offset=".7691" stop-color="#00f"/><stop offset=".8" stop-color="#0000e3"/><stop offset=".85" stop-color="#0000be"/><stop offset=".9" stop-color="#0000a2"/><stop offset=".95" stop-color="#000090"/><stop offset="1" stop-color="#00008a"/></linearGradient>
<linearGradient id="h124" href="#hb"><stop offset="0" stop-color="#da0000"/><stop offset=".05" stop-color="#e10000"/><stop offset=".1" stop-color="#f50000"/><stop offset=".1182" stop-color="#f00"/><stop offset=".15" stop-color="#f00"/><stop offset=".1899" stop-color="#f00"/><stop offset=".2" stop-color="#ff0900"/><stop offset=".25" stop-color="#ff3c00"/><stop offset=".3" stop-color="#f70"/><stop offset=".35" stop-color="#ffba00"/><stop offset=".3972" stop-color="#ff0"/><stop offset=".4" stop-color="#f8ff03"/><stop offset=".45" stop-color="#7aff33"/><stop offset=".4641" stop-color="#55ff41"/><stop offset=".4744" stop-color="#00ff50"/><stop offset=".5" stop-color="#00ff7f"/><stop offset=".55" stop-color="#00ffda"/><stop offset=".5705" stop-color="#0ff"/><stop offset=".6" stop-color="#00d4ff"/><stop offset=".65" stop-color="#008eff"/><stop offset=".7" stop-color="#004eff"/><stop offset=".75" stop-color="#0014ff"/><stop offset=".7685" stop-color="#00f"/><stop offset=".8" stop-color="#0000e3"/><stop offset=".85" stop-color="#0000bd"/><stop offset=".9" stop-color="#0000a2"/><stop offset=".95" stop-color="#000090"/><stop offset="1" stop-color="#00008a"/></linearGradient>
<linearGradient id="h125" href="#hb"><stop offset="0" stop-color="#e00000"/><stop offset=".05" stop-color="#e60000"/><stop offset=".1" stop-color="#fa0000"/><stop offset=".1092" stop-color="#f00"/><stop offset=".15" stop-color="#f00"/><stop offset=".1846" stop-color="#f00"/><stop offset=".2" stop-color="#ff0e00"/><stop offset=".25" stop-color="#ff4000"/><stop offset=".3" stop-color="#ff7c00"/><stop offset=".35" stop-color="#ffbe00"/><stop offset=".395" stop-color="#ff0"/><stop offset=".4" stop-color="#f3ff05"/><stop offset=".45" stop-color="#75ff35"/><stop offset=".4623" stop-color="#55ff41"/><stop offset=".4727" stop-color="#00ff50"/><stop offset=".5" stop-color="#00ff82"/><stop offset=".55" stop-color="#00ffdc"/><stop offset=".5692" stop-color="#0ff"/><stop offset=".6" stop-color="#00d3ff"/><stop offset=".65" stop-color="#008dff"/><stop offset=".7" stop-color="#004dff"/><stop offset=".75" stop-color="#0013ff"/><stop offset=".7679" stop-color="#00f"/><stop offset=".8" stop-color="#0000e2"/><stop offset=".85" stop-color="#0000bd"/><stop offset=".9" stop-color="#0000a1"/><stop offset=".95" stop-color="#000090"/><stop offset="1" stop-color="#00008a"/></linearGradient>
<linearGradient id="h126" href="#hb"><stop offset="0" stop-color="#e50000"/><stop offset=".05" stop-color="#ec0000"/><stop offset=".0989" stop-color="#f00"/><stop offset=".1" stop-color="#f00"/><stop offset=".15" stop-color="#f00"/><stop offset=".1788" stop-color="#f00"/><stop offset=".2" stop-color="#ff1200"/><stop offset=".25" stop-color="#ff4500"/><stop offset=".3" stop-color="#ff8000"/><stop offset=".35" stop-color="#ffc200"/><stop offset=".3926" stop-color="#ff0"/><stop offset=".4" stop-color="#edff07"/><stop offset=".45" stop-color="#70ff37"/><stop offset=".4604" stop-color="#55ff41"/><stop offset=".4708" stop-color="#00ff50"/><stop offset=".5" stop-color="#00ff85"/><stop offset=".55" stop-color="#00ffdf"/><stop offset=".5679" stop-color="#0ff"/><stop offset=".6" stop-color="#00d1ff"/><stop offset=".65" stop-color="#008cff"/><stop offset=".7" stop-color="#004cff"/><stop offset=".75" stop-color="#0012ff"/><stop offset=".7673" stop-color="#00f"/><stop offset=".8" stop-color="#0000e2"/><stop offset=".85" stop-color="#0000bd"/><stop offset=".9" stop-color="#0000a1"/><stop offset=".95" stop-color="#000090"/><stop offset="1" stop-color="#00008a"/></linearGradient>
<linearGradient id="h127" href="#hb"><stop offset="0" stop-color="#eb0000"/><stop offset=".05" stop-color="#f20000"/><stop offset=".0875" stop-color="#f00"/><stop offset=".1" stop-color="#f00"/><stop offset=".15" stop-color="#f00"/><stop offset=".1729" stop-color="#f00"/><stop offset=".2" stop-color="#ff1700"/><stop offset=".25" stop-color="#ff4900"/><stop offset=".3" stop-color="#ff8400"/><stop offset=".35" stop-color="#ffc600"/><stop offset=".3902" stop-color="#ff0"/><stop offset=".4" stop-color="#e7ff09"/><stop offset=".45" stop-color="#6bff39"/><stop offset=".4585" stop-color="#55ff41"/><stop offset=".469" stop-color="#00ff50"/><stop offset=".5" stop-color="#0f8"/><stop offset=".55" stop-color="#00ffe2"/><stop offset=".5665" stop-color="#0ff"/><stop offset=".6" stop-color="#00cfff"/><stop offset=".65" stop-color="#008aff"/><stop offset=".7" stop-color="#004bff"/><stop offset=".75" stop-color="#01f"/><stop offset=".7666" stop-color="#00f"/><stop offset=".8" stop-color="#0000e2"/><stop offset=".85" stop-color="#0000bd"/><stop offset=".9" stop-color="#0000a1"/><stop offset=".95" stop-color="#000090"/><stop offset="1" stop-color="#00008a"/></linearGradient>
<linearGradient id="h128" href="#hb"><stop offset="0" stop-color="#f00000"/><stop offset=".05" stop-color="#f70000"/><stop offset=".0748" stop-color="#f00"/><stop offset=".1" stop-color="#f00"/><stop offset=".15" stop-color="#f00"/><stop offset=".1669" stop-color="#f00"/><stop offset=".2" stop-color="#ff1c00"/><stop offset=".25" stop-color="#ff4d00"/><stop offset=".3" stop-color="#f80"/><stop offset=".35" stop-color="#ffc900"/><stop offset=".3879" stop-color="#ff0"/><stop offset=".4" stop-color="#e2ff0b"/><stop offset=".45" stop-color="#66ff3b"/><stop offset=".4567" stop-color="#55ff41"/><stop offset=".4672" stop-color="#00ff50"/><stop offset=".5" stop-color="#00ff8b"/><stop offset=".55" stop-color="#00ffe4"/><stop offset=".5652" stop-color="#0ff"/><stop offset=".6" stop-color="#00ceff"/><stop offset=".65" stop-color="#0089ff"/><stop offset=".7" stop-color="#004aff"/><stop offset=".75" stop-color="#01f"/><stop offset=".766" stop-color="#00f"/><stop offset=".8" stop-color="#0000e1"/><stop offset=".85" stop-color="#0000bc"/><stop offset=".9" stop-color="#0000a1"/><stop offset=".95" stop-color="#000090"/><stop offset="1" stop-color="#00008a"/></linearGradient>
<linearGradient id="h129" href="#hb"><stop offset="0" stop-color="#f60000"/><stop offset=".05" stop-color="#fd0000"/><stop offset=".0587" stop-color="#f00"/><stop offset=".1" stop-color="#f00"/><stop offset=".15" stop-color="#f00"/><stop offset=".1605" stop-color="#f00"/><stop offset=".2" stop-color="#ff2000"/><stop offset=".25" stop-color="#ff5200"/><stop offset=".3" stop-color="#ff8c00"/><stop offset=".35" stop-color="#ffcd00"/><stop offset=".3855" stop-color="#ff0"/><stop offset=".4" stop-color="#dcff0d"/><stop offset=".45" stop-color="#61ff3c"/><stop offset=".4547" stop-color="#55ff41"/><stop offset=".4654" stop-color="#00ff50"/><stop offset=".5" stop-color="#00ff8e"/><stop offset=".55" stop-color="#00ffe7"/><stop offset=".5639" stop-color="#0ff"/><stop offset=".6" stop-color="#0cf"/><stop offset=".65" stop-color="#08f"/><stop offset=".7" stop-color="#0049ff"/><stop offset=".75" stop-color="#0010ff"/><stop offset=".7654" stop-color="#00f"/><stop offset=".8" stop-color="#0000e1"/><stop offset=".85" stop-color="#0000bc"/><stop offset=".9" stop-color="#0000a1"/><stop offset=".95" stop-color="#000090"/><stop offset="1" stop-color="#00008a"/></linearGradient>
<linearGradient id="h130" href="#hb"><stop offset="0" stop-color="#fc0000"/><stop offset=".0352" stop-color="#f00"/><stop offset=".05" stop-color="#f00"/><stop offset=".1" stop-color="#f00"/><stop offset=".15" stop-color="#f00"/><stop offset=".1536" stop-color="#f00"/><stop offset=".2" stop-color="#ff2500"/><stop offset=".25" stop-color="#ff5600"/><stop offset=".3" stop-color="#ff9000"/><stop offset=".35" stop-color="#ffd100"/><stop offset=".383" stop-color="#ff0"/><stop offset=".4" stop-color="#d7ff0f"/><stop offset=".45" stop-color="#5cff3e"/><stop offset=".4527" stop-color="#55ff41"/><stop offset=".4634" stop-color="#00ff50"/><stop offset=".5" stop-color="#00ff91"/><stop offset=".55" stop-color="#00ffe9"/><stop offset=".5625" stop-color="#0ff"/><stop offset=".6" stop-color="#00caff"/><stop offset=".65" stop-color="#0086ff"/><stop offset=".7" stop-color="#0048ff"/><stop offset=".75" stop-color="#000fff"/><stop offset=".7647" stop-color="#00f"/><stop offset=".8" stop-color="#0000e0"/><stop offset=".85" stop-color="#0000bc"/><stop offset=".9" stop-color="#0000a1"/><stop offset=".95" stop-color="#000090"/><stop offset="1" stop-color="#00008a"/></linearGradient>
<linearGradient id="h131" href="#hb"><stop offset="0" stop-color="#f00"/><stop offset=".05" stop-color="#f00"/><stop offset=".1" stop-color="#f00"/><stop offset=".1466" stop-color="#f00"/><stop offset=".15" stop-color="#ff0200"/><stop offset=".2" stop-color="#ff2a00"/><stop offset=".25" stop-color="#ff5b00"/><stop offset=".3" stop-color="#ff9400"/><stop offset=".35" stop-color="#ffd500"/><stop offset=".3805" stop-color="#ff0"/><stop offset=".4" stop-color="#d1ff12"/><stop offset=".45" stop-color="#57ff40"/><stop offset=".4508" stop-color="#55ff41"/><stop offset=".4616" stop-color="#00ff50"/><stop offset=".5" stop-color="#00ff94"/><stop offset=".55" stop-color="#00ffec"/><stop offset=".5611" stop-color="#0ff"/><stop offset=".6" stop-color="#00c8ff"/><stop offset=".65" stop-color="#0085ff"/><stop offset=".7" stop-color="#0047ff"/><stop offset=".75" stop-color="#000eff"/><stop offset=".7641" stop-color="#00f"/><stop offset=".8" stop-color="#0000e0"/><stop offset=".85" stop-color="#0000bc"/><stop offset=".9" stop-color="#0000a1"/><stop offset=".95" stop-color="#000090"/><stop offset="1" stop-color="#00008a"/></linearGradient>
<linearGradient id="h132" href="#hb"><stop offset="0" stop-color="#f00"/><stop offset=".05" stop-color="#f00"/><stop offset=".1" stop-color="#f00"/><stop offset=".1396" stop-color="#f00"/><stop offset=".15" stop-color="#ff0700"/><stop offset=".2" stop-color="#ff2e00"/><stop offset=".25" stop-color="#ff5f00"/><stop offset=".3" stop-color="#ff9800"/><stop offset=".35" stop-color="#ffd800"/><stop offset=".3782" stop-color="#ff0"/><stop offset=".4" stop-color="#ccff14"/><stop offset=".4489" stop-color="#55ff41"/><stop offset=".45" stop-color="#4dff42"/><stop offset=".4597" stop-color="#00ff50"/><stop offset=".5" stop-color="#00ff96"/><stop offset=".55" stop-color="#0fe"/><stop offset=".5598" stop-color="#0ff"/><stop offset=".6" stop-color="#00c7ff"/><stop offset=".65" stop-color="#0084ff"/><stop offset=".7" stop-color="#0046ff"/><stop offset=".75" stop-color="#000eff"/><stop offset=".7635" stop-color="#00f"/><stop offset=".8" stop-color="#0000df"/><stop offset=".85" stop-color="#00b"/><stop offset=".9" stop-color="#0000a1"/><stop offset=".95" stop-color="#000090"/><stop offset="1" stop-color="#00008a"/></linearGradient>
<linearGradient id="h133" href="#hb"><stop offset="0" stop-color="#f00"/><stop offset=".05" stop-color="#f00"/><stop offset=".1" stop-color="#f00"/><stop offset=".132" stop-color="#f00"/><stop offset=".15" stop-color="#ff0c00"/><stop offset=".2" stop-color="#f30"/><stop offset=".25" stop-color="#ff6300"/><stop offset=".3" stop-color="#ff9c00"/><stop offset=".35" stop-color="#ffdc00"/><stop offset=".3757" stop-color="#ff0"/><stop offset=".4" stop-color="#c6ff16"/><stop offset=".447" stop-color="#55ff41"/><stop offset=".45" stop-color="#3dff45"/><stop offset=".4579" stop-color="#00ff50"/><stop offset=".5" stop-color="#0f9"/><stop offset=".55" stop-color="#00fff0"/><stop offset=".5584" stop-color="#0ff"/><stop offset=".6" stop-color="#00c5ff"/><stop offset=".65" stop-color="#0083ff"/><stop offset=".7" stop-color="#0045ff"/><stop offset=".75" stop-color="#000dff"/><stop offset=".7628" stop-color="#00f"/><stop offset=".8" stop-color="#0000df"/><stop offset=".85" stop-color="#00b"/><stop offset=".9" stop-color="#0000a1"/><stop offset=".95" stop-color="#000090"/><stop offset="1" stop-color="#00008a"/></linearGradient>
<linearGradient id="h134" href="#hb"><stop offset="0" stop-color="#f00"/><stop offset=".05" stop-color="#f00"/><stop offset=".1" stop-color="#f00"/><stop offset=".1237" stop-color="#f00"/><stop offset=".15" stop-color="#ff1000"/><stop offset=".2" stop-color="#ff3700"/><stop offset=".25" stop-color="#ff6700"/><stop offset=".3" stop-color="#ffa000"/><stop offset=".35" stop-color="#ffe000"/><stop offset=".3732" stop-color="#ff0"/><stop offset=".4" stop-color="#c1ff18"/><stop offset=".4449" stop-color="#55ff41"/><stop offset=".45" stop-color="#2eff48"/><stop offset=".4559" stop-color="#00ff50"/><stop offset=".5" stop-color="#00ff9c"/><stop offset=".55" stop-color="#00fff3"/><stop offset=".557" stop-color="#0ff"/><stop offset=".6" stop-color="#00c3ff"/><stop offset=".65" stop-color="#0081ff"/><stop offset=".7" stop-color="#04f"/><stop offset=".75" stop-color="#000cff"/><stop offset=".7621" stop-color="#00f"/><stop offset=".8" stop-color="#0000df"/><stop offset=".85" stop-color="#00b"/><stop offset=".9" stop-color="#0000a0"/><stop offset=".95" stop-color="#000090"/><stop offset="1" stop-color="#00008a"/></linearGradient>
<linearGradient id="h135" href="#hb"><stop offset="0" stop-color="#f00"/><stop offset=".05" stop-color="#f00"/><stop offset=".1" stop-color="#f00"/><stop offset=".1146" stop-color="#f00"/><stop offset=".15" stop-color="#ff1500"/><stop offset=".2" stop-color="#ff3c00"/><stop offset=".25" stop-color="#ff6c00"/><stop offset=".3" stop-color="#ffa400"/><stop offset=".35" stop-color="#ffe300"/><stop offset=".3705" stop-color="#ff0"/><stop offset=".4" stop-color="#bbff1a"/><stop offset=".4428" stop-color="#55ff41"/><stop offset=".45" stop-color="#1eff4b"/><stop offset=".4539" stop-color="#00ff50"/><stop offset=".5" stop-color="#00ff9f"/><stop offset=".55" stop-color="#00fff6"/><stop offset=".5554" stop-color="#0ff"/><stop offset=".6" stop-color="#00c2ff"/><stop offset=".65" stop-color="#0080ff"/><stop offset=".7" stop-color="#0042ff"/><stop offset=".75" stop-color="#000cff"/><stop offset=".7614" stop-color="#00f"/><stop offset=".8" stop-color="#0000de"/><stop offset=".85" stop-color="#00b"/><stop offset=".9" stop-color="#0000a0"/><stop offset=".95" stop-color="#000090"/><stop offset="1" stop-color="#00008a"/></linearGradient>
<linearGradient id="h136" href="#hb"><stop offset="0" stop-color="#f00"/><stop offset=".05" stop-color="#f00"/><stop offset=".1" stop-color="#f00"/><stop offset=".1044" stop-color="#f00"/><stop offset=".15" stop-color="#ff1a00"/><stop offset=".2" stop-color="#ff4000"/><stop offset=".25" stop-color="#ff7000"/><stop offset=".3" stop-color="#ffa800"/><stop offset=".35" stop-color="#ffe700"/><stop offset=".3677" stop-color="#ff0"/><stop offset=".4" stop-color="#b5ff1c"/><stop offset=".4406" stop-color="#55ff41"/><stop offset=".45" stop-color="#0dff4e"/><stop offset=".4517" stop-color="#00ff50"/><stop offset=".5" stop-color="#00ffa3"/><stop offset=".55" stop-color="#00fff8"/><stop offset=".5538" stop-color="#0ff"/><stop offset=".6" stop-color="#00c0ff"/><stop offset=".65" stop-color="#007eff"/><stop offset=".7" stop-color="#0041ff"/><stop offset=".75" stop-color="#000bff"/><stop offset=".7606" stop-color="#00f"/><stop offset=".8" stop-color="#0000de"/><stop offset=".85" stop-color="#0000ba"/><stop offset=".9" stop-color="#0000a0"/><stop offset=".95" stop-color="#000090"/><stop offset="1" stop-color="#00008a"/></linearGradient>
<linearGradient id="h137" href="#hb"><stop offset="0" stop-color="#f00"/><stop offset=".05" stop-color="#f00"/><stop offset=".0929" stop-color="#f00"/><stop offset=".1" stop-color="#ff0300"/><stop offset=".15" stop-color="#ff1f00"/><stop offset=".2" stop-color="#ff4500"/><stop offset=".25" stop-color="#ff7500"/><stop offset=".3" stop-color="#ffad00"/><stop offset=".35" stop-color="#ffeb00"/><stop offset=".3649" stop-color="#ff0"/><stop offset=".4" stop-color="#afff1e"/><stop offset=".4383" stop-color="#55ff41"/><stop offset=".4495" stop-color="#00ff50"/><stop offset=".45" stop-color="#00ff51"/><stop offset=".5" stop-color="#00ffa6"/><stop offset=".55" stop-color="#00fffb"/><stop offset=".5522" stop-color="#0ff"/><stop offset=".6" stop-color="#00beff"/><stop offset=".65" stop-color="#007dff"/><stop offset=".7" stop-color="#0040ff"/><stop offset=".75" stop-color="#000aff"/><stop offset=".7597" stop-color="#00f"/><stop offset=".8" stop-color="#00d"/><stop offset=".85" stop-color="#0000ba"/><stop offset=".9" stop-color="#0000a0"/><stop offset=".95" stop-color="#000090"/><stop offset="1" stop-color="#00008a"/></linearGradient>
<linearGradient id="h138" href="#hb"><stop offset="0" stop-color="#f00"/><stop offset=".05" stop-color="#f00"/><stop offset=".0794" stop-color="#f00"/><stop offset=".1" stop-color="#ff0800"/><stop offset=".15" stop-color="#ff2400"/><stop offset=".2" stop-color="#ff4a00"/><stop offset=".25" stop-color="#ff7a00"/><stop offset=".3" stop-color="#ffb100"/><stop offset=".35" stop-color="#ffef00"/><stop offset=".3619" stop-color="#ff0"/><stop offset=".4" stop-color="#a9ff21"/><stop offset=".4359" stop-color="#55ff41"/><stop offset=".4472" stop-color="#00ff50"/><stop offset=".45" stop-color="#0f5"/><stop offset=".5" stop-color="#00ffa9"/><stop offset=".55" stop-color="#00fffe"/><stop offset=".5504" stop-color="#0ff"/><stop offset=".6" stop-color="#00bcff"/><stop offset=".65" stop-color="#007bff"/><stop offset=".7" stop-color="#003fff"/><stop offset=".75" stop-color="#0009ff"/><stop offset=".7588" stop-color="#00f"/><stop offset=".8" stop-color="#0000dc"/><stop offset=".85" stop-color="#0000ba"/><stop offset=".9" stop-color="#0000a0"/><stop offset=".95" stop-color="#000090"/><stop offset="1" stop-color="#00008a"/></linearGradient>
<linearGradient id="h139" href="#hb"><stop offset="0" stop-color="#f00"/><stop offset=".05" stop-color="#f00"/><stop offset=".0641" stop-color="#f00"/><stop offset=".1" stop-color="#ff0d00"/><stop offset=".15" stop-color="#ff2900"/><stop offset=".2" stop-color="#ff4f00"/><stop offset=".25" stop-color="#ff7e00"/><stop offset=".3" stop-color="#ffb500"/><stop offset=".35" stop-color="#fff300"/><stop offset=".359" stop-color="#ff0"/><stop offset=".4" stop-color="#a3ff23"/><stop offset=".4336" stop-color="#55ff41"/><stop offset=".445" stop-color="#00ff50"/><stop offset=".45" stop-color="#00ff58"/><stop offset=".5" stop-color="#00ffad"/><stop offset=".5488" stop-color="#0ff"/><stop offset=".55" stop-color="#00fdff"/><stop offset=".6" stop-color="#00baff"/><stop offset=".65" stop-color="#0079ff"/><stop offset=".7" stop-color="#003eff"/><stop offset=".75" stop-color="#0008ff"/><stop offset=".7579" stop-color="#00f"/><stop offset=".8" stop-color="#0000dc"/><stop offset=".85" stop-color="#0000b9"/><stop offset=".9" stop-color="#0000a0"/><stop offset=".95" stop-color="#000090"/><stop offset="1" stop-color="#00008a"/></linearGradient>
<linearGradient id="h140" href="#hb"><stop offset="0" stop-color="#f00"/><stop offset=".0453" stop-color="#f00"/><stop offset=".05" stop-color="#ff0100"/><stop offset=".1" stop-color="#ff1200"/><stop offset=".15" stop-color="#ff2d00"/><stop offset=".2" stop-color="#ff5300"/><stop offset=".25" stop-color="#ff8200"/><stop offset=".3" stop-color="#ffb900"/><stop offset=".35" stop-color="#fff700"/><stop offset=".3563" stop-color="#ff0"/><stop offset=".4" stop-color="#9eff25"/><stop offset=".4315" stop-color="#55ff41"/><stop offset=".4428" stop-color="#00ff50"/><stop offset=".45" stop-color="#00ff5c"/><stop offset=".5" stop-color="#00ffb0"/><stop offset=".5472" stop-color="#0ff"/><stop offset=".55" stop-color="#00fbff"/><stop offset=".6" stop-color="#00b8ff"/><stop offset=".65" stop-color="#0078ff"/><stop offset=".7" stop-color="#003cff"/><stop offset=".75" stop-color="#0007ff"/><stop offset=".757" stop-color="#00f"/><stop offset=".8" stop-color="#0000db"/><stop offset=".85" stop-color="#0000b9"/><stop offset=".9" stop-color="#00009f"/><stop offset=".95" stop-color="#000090"/><stop offset="1" stop-color="#00008a"/></linearGradient>
<linearGradient id="h141" href="#hb"><stop offset="0" stop-color="#f00"/><stop offset=".05" stop-color="#ff0600"/><stop offset=".1" stop-color="#ff1600"/><stop offset=".15" stop-color="#ff3200"/><stop offset=".2" stop-color="#ff5800"/><stop offset=".25" stop-color="#ff8600"/><stop offset=".3" stop-color="#ffbd00"/><stop offset=".35" stop-color="#fffa00"/><stop offset=".3535" stop-color="#ff0"/><stop offset=".4" stop-color="#98ff27"/><stop offset=".4292" stop-color="#55ff41"/><stop offset=".4407" stop-color="#00ff50"/><stop offset=".45" stop-color="#00ff5f"/><stop offset=".5" stop-color="#00ffb3"/><stop offset=".5455" stop-color="#0ff"/><stop offset=".55" stop-color="#00f9ff"/><stop offset=".6" stop-color="#00b6ff"/><stop offset=".65" stop-color="#0076ff"/><stop offset=".7" stop-color="#003bff"/><stop offset=".75" stop-color="#0006ff"/><stop offset=".7561" stop-color="#00f"/><stop offset=".8" stop-color="#0000db"/><stop offset=".85" stop-color="#0000b9"/><stop offset=".9" stop-color="#00009f"/><stop offset=".95" stop-color="#00008f"/><stop offset="1" stop-color="#00008a"/></linearGradient>
<linearGradient id="h142" href="#hb"><stop offset="0" stop-color="#ff0500"/><stop offset=".05" stop-color="#ff0b00"/><stop offset=".1" stop-color="#ff1b00"/><stop offset=".15" stop-color="#ff3700"/><stop offset=".2" stop-color="#ff5c00"/><stop offset=".25" stop-color="#ff8a00"/><stop offset=".3" stop-color="#ffc100"/><stop offset=".35" stop-color="#fffe00"/><stop offset=".3506" stop-color="#ff0"/><stop offset=".4" stop-color="#93ff29"/><stop offset=".4269" stop-color="#55ff41"/><stop offset=".4385" stop-color="#00ff50"/><stop offset=".45" stop-color="#00ff63"/><stop offset=".5" stop-color="#00ffb6"/><stop offset=".5438" stop-color="#0ff"/><stop offset=".55" stop-color="#00f7ff"/><stop offset=".6" stop-color="#00b4ff"/><stop offset=".65" stop-color="#0075ff"/><stop offset=".7" stop-color="#003aff"/><stop offset=".75" stop-color="#0005ff"/><stop offset=".7552" stop-color="#00f"/><stop offset=".8" stop-color="#0000da"/><stop offset=".85" stop-color="#0000b8"/><stop offset=".9" stop-color="#00009f"/><stop offset=".95" stop-color="#00008f"/><stop offset="1" stop-color="#00008a"/></linearGradient>
<linearGradient id="h143" href="#hb"><stop offset="0" stop-color="#ff0a00"/><stop offset=".05" stop-color="#ff0f00"/><stop offset=".1" stop-color="#ff2000"/><stop offset=".15" stop-color="#ff3b00"/><stop offset=".2" stop-color="#ff6000"/><stop offset=".25" stop-color="#ff8f00"/><stop offset=".3" stop-color="#ffc500"/><stop offset=".3477" stop-color="#ff0"/><stop offset=".35" stop-color="#faff02"/><stop offset=".4" stop-color="#8dff2c"/><stop offset=".4246" stop-color="#55ff41"/><stop offset=".4362" stop-color="#00ff50"/><stop offset=".45" stop-color="#00ff67"/><stop offset=".5" stop-color="#00ffb9"/><stop offset=".5421" stop-color="#0ff"/><stop offset=".55" stop-color="#00f4ff"/><stop offset=".6" stop-color="#00b2ff"/><stop offset=".65" stop-color="#0073ff"/><stop offset=".7" stop-color="#0039ff"/><stop offset=".75" stop-color="#0004ff"/><stop offset=".7542" stop-color="#00f"/><stop offset=".8" stop-color="#0000d9"/><stop offset=".85" stop-color="#0000b8"/><stop offset=".9" stop-color="#00009f"/><stop offset=".95" stop-color="#00008f"/><stop offset="1" stop-color="#00008a"/></linearGradient>
<linearGradient id="h144" href="#hb"><stop offset="0" stop-color="#ff0f00"/><stop offset=".05" stop-color="#ff1400"/><stop offset=".1" stop-color="#ff2500"/><stop offset=".15" stop-color="#ff4000"/><stop offset=".2" stop-color="#ff6500"/><stop offset=".25" stop-color="#ff9300"/><stop offset=".3" stop-color="#ffc900"/><stop offset=".3447" stop-color="#ff0"/><stop offset=".35" stop-color="#f4ff04"/><stop offset=".4" stop-color="#87ff2e"/><stop offset=".4222" stop-color="#55ff41"/><stop offset=".4339" stop-color="#00ff50"/><stop offset=".45" stop-color="#00ff6a"/><stop offset=".5" stop-color="#00ffbc"/><stop offset=".5404" stop-color="#0ff"/><stop offset=".55" stop-color="#00f2ff"/><stop offset=".6" stop-color="#00b0ff"/><stop offset=".65" stop-color="#0072ff"/><stop offset=".7" stop-color="#0037ff"/><stop offset=".75" stop-color="#0003ff"/><stop offset=".7533" stop-color="#00f"/><stop offset=".8" stop-color="#0000d9"/><stop offset=".85" stop-color="#0000b7"/><stop offset=".9" stop-color="#00009f"/><stop offset=".95" stop-color="#00008f"/><stop offset="1" stop-color="#00008a"/></linearGradient>
<linearGradient id="h145" href="#hb"><stop offset="0" stop-color="#ff1400"/><stop offset=".05" stop-color="#ff1900"/><stop offset=".1" stop-color="#ff2a00"/><stop offset=".15" stop-color="#ff4500"/><stop offset=".2" stop-color="#ff6900"/><stop offset=".25" stop-color="#ff9700"/><stop offset=".3" stop-color="#ffcd00"/><stop offset=".3416" stop-color="#ff0"/><stop offset=".35" stop-color="#eeff07"/><stop offset=".4" stop-color="#81ff30"/><stop offset=".4197" stop-color="#55ff41"/><stop offset=".4315" stop-color="#00ff50"/><stop offset=".45" stop-color="#00ff6e"/><stop offset=".5" stop-color="#00ffc0"/><stop offset=".5386" stop-color="#0ff"/><stop offset=".55" stop-color="#00f0ff"/><stop offset=".6" stop-color="#00aeff"/><stop offset=".65" stop-color="#0070ff"/><stop offset=".7" stop-color="#0036ff"/><stop offset=".75" stop-color="#0002ff"/><stop offset=".7523" stop-color="#00f"/><stop offset=".8" stop-color="#0000d8"/><stop offset=".85" stop-color="#0000b7"/><stop offset=".9" stop-color="#00009e"/><stop offset=".95" stop-color="#00008f"/><stop offset="1" stop-color="#00008a"/></linearGradient>
<linearGradient id="h146" href="#hb"><stop offset="0" stop-color="#ff1900"/><stop offset=".05" stop-color="#ff1e00"/><stop offset=".1" stop-color="#ff2e00"/><stop offset=".15" stop-color="#ff4900"/><stop offset=".2" stop-color="#ff6e00"/><stop offset=".25" stop-color="#ff9c00"/><stop offset=".3" stop-color="#ffd100"/><stop offset=".3384" stop-color="#ff0"/><stop offset=".35" stop-color="#e7ff09"/><stop offset=".4" stop-color="#7cff32"/><stop offset=".4172" stop-color="#55ff41"/><stop offset=".4291" stop-color="#00ff50"/><stop offset=".45" stop-color="#00ff72"/><stop offset=".5" stop-color="#00ffc3"/><stop offset=".5367" stop-color="#0ff"/><stop offset=".55" stop-color="#00edff"/><stop offset=".6" stop-color="#00acff"/><stop offset=".65" stop-color="#006eff"/><stop offset=".7" stop-color="#0035ff"/><stop offset=".75" stop-color="#0001ff"/><stop offset=".7513" stop-color="#00f"/><stop offset=".8" stop-color="#0000d8"/><stop offset=".85" stop-color="#0000b7"/><stop offset=".9" stop-color="#00009e"/><stop offset=".95" stop-color="#00008f"/><stop offset="1" stop-color="#00008a"/></linearGradient>
<linearGradient id="h147" href="#hb"><stop offset="0" stop-color="#ff1e00"/><stop offset=".05" stop-color="#ff2300"/><stop offset=".1" stop-color="#f30"/><stop offset=".15" stop-color="#ff4e00"/><stop offset=".2" stop-color="#ff7300"/><stop offset=".25" stop-color="#ffa000"/><stop offset=".3" stop-color="#ffd600"/><stop offset=".3352" stop-color="#ff0"/><stop offset=".35" stop-color="#e1ff0c"/><stop offset=".4" stop-color="#76ff35"/><stop offset=".4147" stop-color="#55ff41"/><stop offset=".4266" stop-color="#00ff50"/><stop offset=".45" stop-color="#00ff75"/><stop offset=".5" stop-color="#00ffc6"/><stop offset=".5349" stop-color="#0ff"/><stop offset=".55" stop-color="#00ebff"/><stop offset=".6" stop-color="#0af"/><stop offset=".65" stop-color="#006dff"/><stop offset=".7" stop-color="#03f"/><stop offset=".75" stop-color="#00f"/><stop offset=".7502" stop-color="#00f"/><stop offset=".8" stop-color="#0000d7"/><stop offset=".85" stop-color="#0000b6"/><stop offset=".9" stop-color="#00009e"/><stop offset=".95" stop-color="#00008f"/><stop offset="1" stop-color="#00008a"/></linearGradient>
<linearGradient id="h148" href="#hb"><stop offset="0" stop-color="#ff2300"/><stop offset=".05" stop-color="#ff2800"/><stop offset=".1" stop-color="#ff3800"/><stop offset=".15" stop-color="#ff5300"/><stop offset=".2" stop-color="#f70"/><stop offset=".25" stop-color="#ffa500"/><stop offset=".3" stop-color="#ffda00"/><stop offset=".3318" stop-color="#ff0"/><stop offset=".35" stop-color="#daff0e"/><stop offset=".4" stop-color="#70ff37"/><stop offset=".4121" stop-color="#55ff41"/><stop offset=".4241" stop-color="#00ff50"/><stop offset=".45" stop-color="#00ff79"/><stop offset=".5" stop-color="#00ffca"/><stop offset=".533" stop-color="#0ff"/><stop offset=".55" stop-color="#00e9ff"/><stop offset=".6" stop-color="#00a8ff"/><stop offset=".65" stop-color="#006bff"/><stop offset=".7" stop-color="#0032ff"/><stop offset=".7492" stop-color="#00f"/><stop offset=".75" stop-color="#0000fe"/><stop offset=".8" stop-color="#0000d6"/><stop offset=".85" stop-color="#0000b6"/><stop offset=".9" stop-color="#00009e"/><stop offset=".95" stop-color="#00008f"/><stop offset="1" stop-color="#00008a"/></linearGradient>
<linearGradient id="h149" href="#hb"><stop offset="0" stop-color="#ff2800"/><stop offset=".05" stop-color="#ff2d00"/><stop offset=".1" stop-color="#ff3d00"/><stop offset=".15" stop-color="#ff5800"/><stop offset=".2" stop-color="#ff7c00"/><stop offset=".25" stop-color="#ffa900"/><stop offset=".3" stop-color="#ffde00"/><stop offset=".3285" stop-color="#ff0"/><stop offset=".35" stop-color="#d4ff11"/><stop offset=".4" stop-color="#6aff39"/><stop offset=".4094" stop-color="#55ff41"/><stop offset=".4215" stop-color="#00ff50"/><stop offset=".45" stop-color="#00ff7d"/><stop offset=".5" stop-color="#00ffcd"/><stop offset=".5311" stop-color="#0ff"/><stop offset=".55" stop-color="#00e6ff"/><stop offset=".6" stop-color="#00a6ff"/><stop offset=".65" stop-color="#0069ff"/><stop offset=".7" stop-color="#0031ff"/><stop offset=".7481" stop-color="#00f"/><stop offset=".75" stop-color="#0000fd"/><stop offset=".8" stop-color="#0000d6"/><stop offset=".85" stop-color="#0000b5"/><stop offset=".9" stop-color="#00009e"/><stop offset=".95" stop-color="#00008f"/><stop offset="1" stop-color="#00008a"/></linearGradient>
<linearGradient id="h150" href="#hb"><stop offset="0" stop-color="#ff2d00"/><stop offset=".05" stop-color="#ff3200"/><stop offset=".1" stop-color="#ff4200"/><stop offset=".15" stop-color="#ff5d00"/><stop offset=".2" stop-color="#ff8100"/><stop offset=".25" stop-color="#ffae00"/><stop offset=".3" stop-color="#ffe200"/><stop offset=".325" stop-color="#ff0"/><stop offset=".35" stop-color="#cdff13"/><stop offset=".4" stop-color="#64ff3b"/><stop offset=".4067" stop-color="#55ff41"/><stop offset=".4189" stop-color="#00ff50"/><stop offset=".45" stop-color="#00ff81"/><stop offset=".5" stop-color="#00ffd0"/><stop offset=".5291" stop-color="#0ff"/><stop offset=".55" stop-color="#00e4ff"/><stop offset=".6" stop-color="#00a4ff"/><stop offset=".65" stop-color="#0068ff"/><stop offset=".7" stop-color="#002fff"/><stop offset=".7471" stop-color="#00f"/><stop offset=".75" stop-color="#0000fc"/><stop offset=".8" stop-color="#0000d5"/><stop offset=".85" stop-color="#0000b5"/><stop offset=".9" stop-color="#00009d"/><stop offset=".95" stop-color="#00008f"/><stop offset="1" stop-color="#00008a"/></linearGradient>
<linearGradient id="h151" href="#hb"><stop offset="0" stop-color="#ff3200"/><stop offset=".05" stop-color="#ff3700"/><stop offset=".1" stop-color="#ff4700"/><stop offset=".15" stop-color="#ff6200"/><stop offset=".2" stop-color="#ff8600"/><stop offset=".25" stop-color="#ffb200"/><stop offset=".3" stop-color="#ffe700"/><stop offset=".3215" stop-color="#ff0"/><stop offset=".35" stop-color="#c7ff16"/><stop offset=".4" stop-color="#5eff3e"/><stop offset=".404" stop-color="#55ff41"/><stop offset=".4163" stop-color="#00ff50"/><stop offset=".45" stop-color="#00ff84"/><stop offset=".5" stop-color="#00ffd4"/><stop offset=".5271" stop-color="#0ff"/><stop offset=".55" stop-color="#00e1ff"/><stop offset=".6" stop-color="#00a2ff"/><stop offset=".65" stop-color="#06f"/><stop offset=".7" stop-color="#002eff"/><stop offset=".746" stop-color="#00f"/><stop offset=".75" stop-color="#0000fc"/><stop offset=".8" stop-color="#0000d4"/><stop offset=".85" stop-color="#0000b5"/><stop offset=".9" stop-color="#00009d"/><stop offset=".95" stop-color="#00008f"/><stop offset="1" stop-color="#00008a"/></linearGradient>
<linearGradient id="h152" href="#hb"><stop offset="0" stop-color="#ff3700"/><stop offset=".05" stop-color="#ff3d00"/><stop offset=".1" stop-color="#ff4c00"/><stop offset=".15" stop-color="#ff6700"/><stop offset=".2" stop-color="#ff8a00"/><stop offset=".25" stop-color="#ffb700"/><stop offset=".3" stop-color="#ffeb00"/><stop offset=".3179" stop-color="#ff0"/><stop offset=".35" stop-color="#c0ff18"/><stop offset=".4" stop-color="#58ff40"/><stop offset=".4012" stop-color="#55ff41"/><stop offset=".4136" stop-color="#00ff50"/><stop offset=".45" stop-color="#0f8"/><stop offset=".5" stop-color="#00ffd7"/><stop offset=".5252" stop-color="#0ff"/><stop offset=".55" stop-color="#00dfff"/><stop offset=".6" stop-color="#00a0ff"/><stop offset=".65" stop-color="#0064ff"/><stop offset=".7" stop-color="#002dff"/><stop offset=".7449" stop-color="#00f"/><stop offset=".75" stop-color="#0000fb"/><stop offset=".8" stop-color="#0000d4"/><stop offset=".85" stop-color="#0000b4"/><stop offset=".9" stop-color="#00009d"/><stop offset=".95" stop-color="#00008f"/><stop offset="1" stop-color="#00008a"/></linearGradient>
<linearGradient id="h153" href="#hb"><stop offset="0" stop-color="#ff3c00"/><stop offset=".05" stop-color="#ff4200"/><stop offset=".1" stop-color="#ff5200"/><stop offset=".15" stop-color="#ff6c00"/><stop offset=".2" stop-color="#ff8f00"/><stop offset=".25" stop-color="#fb0"/><stop offset=".3" stop-color="#ffef00"/><stop offset=".3142" stop-color="#ff0"/><stop offset=".35" stop-color="#b9ff1b"/><stop offset=".3984" stop-color="#55ff41"/><stop offset=".4" stop-color="#4aff43"/><stop offset=".4108" stop-color="#00ff50"/><stop offset=".45" stop-color="#00ff8c"/><stop offset=".5" stop-color="#00ffdb"/><stop offset=".5231" stop-color="#0ff"/><stop offset=".55" stop-color="#0df"/><stop offset=".6" stop-color="#009eff"/><stop offset=".65" stop-color="#0063ff"/><stop offset=".7" stop-color="#002bff"/><stop offset=".7438" stop-color="#00f"/><stop offset=".75" stop-color="#0000fa"/><stop offset=".8" stop-color="#0000d3"/><stop offset=".85" stop-color="#0000b4"/><stop offset=".9" stop-color="#00009d"/><stop offset=".95" stop-color="#00008f"/><stop offset="1" stop-color="#00008a"/></linearGradient>
<linearGradient id="h154" href="#hb"><stop offset="0" stop-color="#ff4200"/><stop offset=".05" stop-color="#ff4700"/><stop offset=".1" stop-color="#ff5700"/><stop offset=".15" stop-color="#ff7100"/><stop offset=".2" stop-color="#ff9400"/><stop offset=".25" stop-color="#ffc000"/><stop offset=".3" stop-color="#fff300"/><stop offset=".3104" stop-color="#ff0"/><stop offset=".35" stop-color="#b3ff1d"/><stop offset=".3955" stop-color="#55ff41"/><stop offset=".4" stop-color="#37ff46"/><stop offset=".4081" stop-color="#00ff50"/><stop offset=".45" stop-color="#00ff90"/><stop offset=".5" stop-color="#00ffde"/><stop offset=".5211" stop-color="#0ff"/><stop offset=".55" stop-color="#00daff"/><stop offset=".6" stop-color="#009cff"/><stop offset=".65" stop-color="#0061ff"/><stop offset=".7" stop-color="#002aff"/><stop offset=".7428" stop-color="#00f"/><stop offset=".75" stop-color="#0000f9"/><stop offset=".8" stop-color="#0000d2"/><stop offset=".85" stop-color="#0000b4"/><stop offset=".9" stop-color="#00009d"/><stop offset=".95" stop-color="#00008f"/><stop offset="1" stop-color="#00008a"/></linearGradient>
<linearGradient id="h155" href="#hb"><stop offset="0" stop-color="#ff4700"/><stop offset=".05" stop-color="#ff4c00"/><stop offset=".1" stop-color="#ff5c00"/><stop offset=".15" stop-color="#ff7600"/><stop offset=".2" stop-color="#f90"/><stop offset=".25" stop-color="#ffc500"/><stop offset=".3" stop-color="#fff800"/><stop offset=".3066" stop-color="#ff0"/><stop offset=".35" stop-color="#acff20"/><stop offset=".3926" stop-color="#55ff41"/><stop offset=".4" stop-color="#24ff4a"/><stop offset=".4053" stop-color="#00ff50"/><stop offset=".45" stop-color="#00ff94"/><stop offset=".5" stop-color="#00ffe1"/><stop offset=".5191" stop-color="#0ff"/><stop offset=".55" stop-color="#00d8ff"/><stop offset=".6" stop-color="#009aff"/><stop offset=".65" stop-color="#005fff"/><stop offset=".7" stop-color="#0029ff"/><stop offset=".7417" stop-color="#00f"/><stop offset=".75" stop-color="#0000f8"/><stop offset=".8" stop-color="#0000d2"/><stop offset=".85" stop-color="#0000b3"/><stop offset=".9" stop-color="#00009d"/><stop offset=".95" stop-color="#00008f"/><stop offset="1" stop-color="#00008a"/></linearGradient>
<linearGradient id="h156" href="#hb"><stop offset="0" stop-color="#ff4c00"/><stop offset=".05" stop-color="#ff5100"/><stop offset=".1" stop-color="#ff6100"/><stop offset=".15" stop-color="#ff7b00"/><stop offset=".2" stop-color="#ff9e00"/><stop offset=".25" stop-color="#ffc900"/><stop offset=".3" stop-color="#fffc00"/><stop offset=".3027" stop-color="#ff0"/><stop offset=".35" stop-color="#a6ff22"/><stop offset=".3897" stop-color="#55ff41"/><stop offset=".4" stop-color="#10ff4d"/><stop offset=".4025" stop-color="#00ff50"/><stop offset=".45" stop-color="#00ff98"/><stop offset=".5" stop-color="#00ffe5"/><stop offset=".517" stop-color="#0ff"/><stop offset=".55" stop-color="#00d6ff"/><stop offset=".6" stop-color="#0098ff"/><stop offset=".65" stop-color="#005eff"/><stop offset=".7" stop-color="#0028ff"/><stop offset=".7406" stop-color="#00f"/><stop offset=".75" stop-color="#0000f7"/><stop offset=".8" stop-color="#0000d1"/><stop offset=".85" stop-color="#0000b3"/><stop offset=".9" stop-color="#00009c"/><stop offset=".95" stop-color="#00008f"/><stop offset="1" stop-color="#00008a"/></linearGradient>
<linearGradient id="h157" href="#hb"><stop offset="0" stop-color="#ff5100"/><stop offset=".05" stop-color="#ff5700"/><stop offset=".1" stop-color="#f60"/><stop offset=".15" stop-color="#ff8000"/><stop offset=".2" stop-color="#ffa200"/><stop offset=".25" stop-color="#ffce00"/><stop offset=".2987" stop-color="#ff0"/><stop offset=".3" stop-color="#fdff01"/><stop offset=".35" stop-color="#9fff25"/><stop offset=".3867" stop-color="#55ff41"/><stop offset=".3996" stop-color="#00ff50"/><stop offset=".4" stop-color="#00ff51"/><stop offset=".45" stop-color="#00ff9b"/><stop offset=".5" stop-color="#00ffe8"/><stop offset=".515" stop-color="#0ff"/><stop offset=".55" stop-color="#00d3ff"/><stop offset=".6" stop-color="#0096ff"/><stop offset=".65" stop-color="#005cff"/><stop offset=".7" stop-color="#0026ff"/><stop offset=".7395" stop-color="#00f"/><stop offset=".75" stop-color="#0000f6"/><stop offset=".8" stop-color="#0000d1"/><stop offset=".85" stop-color="#0000b2"/><stop offset=".9" stop-color="#00009c"/><stop offset=".95" stop-color="#00008f"/><stop offset="1" stop-color="#00008a"/></linearGradient>
<linearGradient id="h158" href="#hb"><stop offset="0" stop-color="#ff5700"/><stop offset=".05" stop-color="#ff5c00"/><stop offset=".1" stop-color="#ff6b00"/><stop offset=".15" stop-color="#ff8500"/><stop offset=".2" stop-color="#ffa700"/><stop offset=".25" stop-color="#ffd200"/><stop offset=".2947" stop-color="#ff0"/><stop offset=".3" stop-color="#f6ff04"/><stop offset=".35" stop-color="#98ff27"/><stop offset=".3837" stop-color="#55ff41"/><stop offset=".3967" stop-color="#00ff50"/><stop offset=".4" stop-color="#0f5"/><stop offset=".45" stop-color="#00ff9f"/><stop offset=".5" stop-color="#00ffeb"/><stop offset=".5129" stop-color="#0ff"/><stop offset=".55" stop-color="#00d1ff"/><stop offset=".6" stop-color="#0094ff"/><stop offset=".65" stop-color="#005aff"/><stop offset=".7" stop-color="#0025ff"/><stop offset=".7385" stop-color="#00f"/><stop offset=".75" stop-color="#0000f5"/><stop offset=".8" stop-color="#0000d0"/><stop offset=".85" stop-color="#0000b2"/><stop offset=".9" stop-color="#00009c"/><stop offset=".95" stop-color="#00008f"/><stop offset="1" stop-color="#00008a"/></linearGradient>
<linearGradient id="h159" href="#hb"><stop offset="0" stop-color="#ff5c00"/><stop offset=".05" stop-color="#ff6100"/><stop offset=".1" stop-color="#ff7000"/><stop offset=".15" stop-color="#ff8a00"/><stop offset=".2" stop-color="#ffac00"/><stop offset=".25" stop-color="#ffd700"/><stop offset=".2905" stop-color="#ff0"/><stop offset=".3" stop-color="#efff06"/><stop offset=".35" stop-color="#92ff2a"/><stop offset=".3807" stop-color="#55ff41"/><stop offset=".3938" stop-color="#00ff50"/><stop offset=".4" stop-color="#00ff59"/><stop offset=".45" stop-color="#00ffa3"/><stop offset=".5" stop-color="#00ffef"/><stop offset=".5108" stop-color="#0ff"/><stop offset=".55" stop-color="#00cfff"/><stop offset=".6" stop-color="#0092ff"/><stop offset=".65" stop-color="#0059ff"/><stop offset=".7" stop-color="#0024ff"/><stop offset=".7374" stop-color="#00f"/><stop offset=".75" stop-color="#0000f5"/><stop offset=".8" stop-color="#0000d0"/><stop offset=".85" stop-color="#0000b2"/><stop offset=".9" stop-color="#00009c"/><stop offset=".95" stop-color="#00008f"/><stop offset="1" stop-color="#00008a"/></linearGradient>
<linearGradient id="h160" href="#hb"><stop offset="0" stop-color="#ff6100"/><stop offset=".05" stop-color="#f60"/><stop offset=".1" stop-color="#ff7600"/><stop offset=".15" stop-color="#ff8f00"/><stop offset=".2" stop-color="#ffb100"/><stop offset=".25" stop-color="#ffdb00"/><stop offset=".2864" stop-color="#ff0"/><stop offset=".3" stop-color="#e7ff09"/><stop offset=".35" stop-color="#8bff2c"/><stop offset=".3776" stop-color="#55ff41"/><stop offset=".3909" stop-color="#00ff50"/><stop offset=".4" stop-color="#00ff5d"/><stop offset=".45" stop-color="#00ffa6"/><stop offset=".5" stop-color="#00fff2"/><stop offset=".5088" stop-color="#0ff"/><stop offset=".55" stop-color="#0cf"/><stop offset=".6" stop-color="#0090ff"/><stop offset=".65" stop-color="#0057ff"/><stop offset=".7" stop-color="#0023ff"/><stop offset=".7364" stop-color="#00f"/><stop offset=".75" stop-color="#0000f4"/><stop offset=".8" stop-color="#0000cf"/><stop offset=".85" stop-color="#0000b1"/><stop offset=".9" stop-color="#00009c"/><stop offset=".95" stop-color="#00008e"/><stop offset="1" stop-color="#00008a"/></linearGradient>
<linearGradient id="h161" href="#hb"><stop offset="0" stop-color="#f60"/><stop offset=".05" stop-color="#ff6b00"/><stop offset=".1" stop-color="#ff7b00"/><stop offset=".15" stop-color="#ff9400"/><stop offset=".2" stop-color="#ffb600"/><stop offset=".25" stop-color="#ffe000"/><stop offset=".2821" stop-color="#ff0"/><stop offset=".3" stop-color="#e1ff0c"/><stop offset=".35" stop-color="#85ff2f"/><stop offset=".3745" stop-color="#55ff41"/><stop offset=".3879" stop-color="#00ff50"/><stop offset=".4" stop-color="#00ff61"/><stop offset=".45" stop-color="#0fa"/><stop offset=".5" stop-color="#00fff5"/><stop offset=".5067" stop-color="#0ff"/><stop offset=".55" stop-color="#00caff"/><stop offset=".6" stop-color="#008fff"/><stop offset=".65" stop-color="#0056ff"/><stop offset=".7" stop-color="#02f"/><stop offset=".7354" stop-color="#00f"/><stop offset=".75" stop-color="#0000f3"/><stop offset=".8" stop-color="#0000cf"/><stop offset=".85" stop-color="#0000b1"/><stop offset=".9" stop-color="#00009c"/><stop offset=".95" stop-color="#00008e"/><stop offset="1" stop-color="#00008a"/></linearGradient>
<linearGradient id="h162" href="#hb"><stop offset="0" stop-color="#ff6c00"/><stop offset=".05" stop-color="#ff7100"/><stop offset=".1" stop-color="#ff8000"/><stop offset=".15" stop-color="#f90"/><stop offset=".2" stop-color="#ffba00"/><stop offset=".25" stop-color="#ffe400"/><stop offset=".2778" stop-color="#ff0"/><stop offset=".3" stop-color="#daff0e"/><stop offset=".35" stop-color="#7fff31"/><stop offset=".3714" stop-color="#55ff41"/><stop offset=".385" stop-color="#00ff50"/><stop offset=".4" stop-color="#00ff65"/><stop offset=".45" stop-color="#00ffae"/><stop offset=".5" stop-color="#00fff8"/><stop offset=".5046" stop-color="#0ff"/><stop offset=".55" stop-color="#00c8ff"/><stop offset=".6" stop-color="#008dff"/><stop offset=".65" stop-color="#0054ff"/><stop offset=".7" stop-color="#0021ff"/><stop offset=".7344" stop-color="#00f"/><stop offset=".75" stop-color="#0000f2"/><stop offset=".8" stop-color="#0000ce"/><stop offset=".85" stop-color="#0000b1"/><stop offset=".9" stop-color="#00009b"/><stop offset=".95" stop-color="#00008e"/><stop offset="1" stop-color="#00008a"/></linearGradient>
<linearGradient id="h163" href="#hb"><stop offset="0" stop-color="#ff7100"/><stop offset=".05" stop-color="#ff7600"/><stop offset=".1" stop-color="#ff8500"/><stop offset=".15" stop-color="#ff9e00"/><stop offset=".2" stop-color="#ffbf00"/><stop offset=".25" stop-color="#ffe900"/><stop offset=".2734" stop-color="#ff0"/><stop offset=".3" stop-color="#d3ff11"/><stop offset=".35" stop-color="#78ff34"/><stop offset=".3683" stop-color="#55ff41"/><stop offset=".382" stop-color="#00ff50"/><stop offset=".4" stop-color="#00ff69"/><stop offset=".45" stop-color="#00ffb1"/><stop offset=".5" stop-color="#00fffb"/><stop offset=".5026" stop-color="#0ff"/><stop offset=".55" stop-color="#00c6ff"/><stop offset=".6" stop-color="#008bff"/><stop offset=".65" stop-color="#0053ff"/><stop offset=".7" stop-color="#001fff"/><stop offset=".7335" stop-color="#00f"/><stop offset=".75" stop-color="#0000f2"/><stop offset=".8" stop-color="#0000ce"/><stop offset=".85" stop-color="#0000b1"/><stop offset=".9" stop-color="#00009b"/><stop offset=".95" stop-color="#00008e"/><stop offset="1" stop-color="#00008a"/></linearGradient>
<linearGradient id="h164" href="#hb"><stop offset="0" stop-color="#ff7600"/><stop offset=".05" stop-color="#ff7b00"/><stop offset=".1" stop-color="#ff8a00"/><stop offset=".15" stop-color="#ffa200"/><stop offset=".2" stop-color="#ffc400"/><stop offset=".25" stop-color="#ffed00"/><stop offset=".2689" stop-color="#ff0"/><stop offset=".3" stop-color="#ccff14"/><stop offset=".35" stop-color="#72ff36"/><stop offset=".3652" stop-color="#55ff41"/><stop offset=".379" stop-color="#00ff50"/><stop offset=".4" stop-color="#00ff6d"/><stop offset=".45" stop-color="#00ffb5"/><stop offset=".5" stop-color="#00fffe"/><stop offset=".5005" stop-color="#0ff"/><stop offset=".55" stop-color="#00c4ff"/><stop offset=".6" stop-color="#0089ff"/><stop offset=".65" stop-color="#0052ff"/><stop offset=".7" stop-color="#001eff"/><stop offset=".7325" stop-color="#00f"/><stop offset=".75" stop-color="#0000f1"/><stop offset=".8" stop-color="#0000cd"/><stop offset=".85" stop-color="#0000b0"/><stop offset=".9" stop-color="#00009b"/><stop offset=".95" stop-color="#00008e"/><stop offset="1" stop-color="#00008a"/></linearGradient>
<linearGradient id="h165" href="#hb"><stop offset="0" stop-color="#ff7a00"/><stop offset=".05" stop-color="#ff7f00"/><stop offset=".1" stop-color="#ff8e00"/><stop offset=".15" stop-color="#ffa600"/><stop offset=".2" stop-color="#ffc700"/><stop offset=".25" stop-color="#fff100"/><stop offset=".2656" stop-color="#ff0"/><stop offset=".3" stop-color="#c7ff15"/><stop offset=".35" stop-color="#6dff38"/><stop offset=".3629" stop-color="#55ff41"/><stop offset=".3768" stop-color="#00ff50"/><stop offset=".4" stop-color="#00ff70"/><stop offset=".45" stop-color="#00ffb7"/><stop offset=".4991" stop-color="#0ff"/><stop offset=".5" stop-color="#00feff"/><stop offset=".55" stop-color="#00c2ff"/><stop offset=".6" stop-color="#08f"/><stop offset=".65" stop-color="#0051ff"/><stop offset=".7" stop-color="#001eff"/><stop offset=".7319" stop-color="#00f"/><stop offset=".75" stop-color="#0000f1"/><stop offset=".8" stop-color="#0000cd"/><stop offset=".85" stop-color="#0000b0"/><stop offset=".9" stop-color="#00009b"/><stop offset=".95" stop-color="#00008e"/><stop offset="1" stop-color="#00008a"/></linearGradient>
<clipPath id="hc"><rect x="245" y="48" width="1414.4" height="876.3"/></clipPath>
<linearGradient id="cb" gradientUnits="userSpaceOnUse" x1="0" y1="67.7" x2="0" y2="933.6"><stop offset="0" stop-color="#920000"/><stop offset=".092" stop-color="#f00"/><stop offset=".14" stop-color="#f00"/><stop offset=".375" stop-color="#ff0"/><stop offset=".47" stop-color="#55ff41"/><stop offset=".485" stop-color="#00ff50"/><stop offset=".625" stop-color="#0ff"/><stop offset=".875" stop-color="#00f"/><stop offset="1" stop-color="#00008a"/></linearGradient>
<clipPath id="box"><rect x="225.7" y="1115.7" width="1578.6" height="1273.7"/></clipPath>
<filter id="bl" x="0" y="0" width="1859" height="2575" filterUnits="userSpaceOnUse" color-interpolation-filters="sRGB"><feGaussianBlur stdDeviation="1.1"/></filter>
</defs>
<rect width="1859" height="2575" fill="#fff"/>
<g filter="url(#bl)">
<path d="M41.7 2556V5.5H1844" fill="none" stroke="#f8f8f8" stroke-width="3.5"/>
<g clip-path="url(#hc)"><g shape-rendering="crispEdges"><rect x="241" y="44" width="3.6" height="884.3" fill="url(#h0)"/><rect x="244" y="44" width="3.6" height="884.3" fill="url(#h1)"/><rect x="247" y="44" width="3.6" height="884.3" fill="url(#h2)"/><rect x="250" y="44" width="3.6" height="884.3" fill="url(#h3)"/><rect x="253" y="44" width="3.6" height="884.3" fill="url(#h4)"/><rect x="256" y="44" width="3.6" height="884.3" fill="url(#h5)"/><rect x="259" y="44" width="3.6" height="884.3" fill="url(#h6)"/><rect x="262" y="44" width="3.6" height="884.3" fill="url(#h7)"/><rect x="265" y="44" width="3.6" height="884.3" fill="url(#h8)"/><rect x="268" y="44" width="3.6" height="884.3" fill="url(#h9)"/><rect x="271" y="44" width="3.6" height="884.3" fill="url(#h10)"/><rect x="274" y="44" width="3.6" height="884.3" fill="url(#h11)"/><rect x="277" y="44" width="3.6" height="884.3" fill="url(#h12)"/><rect x="280" y="44" width="3.6" height="884.3" fill="url(#h13)"/><rect x="283" y="44" width="3.6" height="884.3" fill="url(#h14)"/><rect x="286" y="44" width="3.6" height="884.3" fill="url(#h15)"/><rect x="289" y="44" width="3.6" height="884.3" fill="url(#h16)"/><rect x="292" y="44" width="3.6" height="884.3" fill="url(#h17)"/><rect x="295" y="44" width="3.6" height="884.3" fill="url(#h18)"/><rect x="298" y="44" width="3.6" height="884.3" fill="url(#h19)"/><rect x="301" y="44" width="3.6" height="884.3" fill="url(#h20)"/><rect x="304" y="44" width="3.6" height="884.3" fill="url(#h21)"/><rect x="307" y="44" width="3.6" height="884.3" fill="url(#h22)"/><rect x="310" y="44" width="3.6" height="884.3" fill="url(#h23)"/><rect x="313" y="44" width="4.6" height="884.3" fill="url(#h24)"/><rect x="317" y="44" width="4.6" height="884.3" fill="url(#h25)"/><rect x="321" y="44" width="4.6" height="884.3" fill="url(#h26)"/><rect x="325" y="44" width="4.6" height="884.3" fill="url(#h27)"/><rect x="329" y="44" width="4.6" height="884.3" fill="url(#h28)"/><rect x="333" y="44" width="4.6" height="884.3" fill="url(#h29)"/><rect x="337" y="44" width="4.6" height="884.3" fill="url(#h30)"/><rect x="341" y="44" width="4.6" height="884.3" fill="url(#h31)"/><rect x="345" y="44" width="4.6" height="884.3" fill="url(#h32)"/><rect x="349" y="44" width="4.6" height="884.3" fill="url(#h33)"/><rect x="353" y="44" width="4.6" height="884.3" fill="url(#h34)"/><rect x="357" y="44" width="4.6" height="884.3" fill="url(#h35)"/><rect x="361" y="44" width="4.6" height="884.3" fill="url(#h36)"/><rect x="365" y="44" width="4.6" height="884.3" fill="url(#h37)"/><rect x="369" y="44" width="4.6" height="884.3" fill="url(#h38)"/><rect x="373" y="44" width="4.6" height="884.3" fill="url(#h39)"/><rect x="377" y="44" width="4.6" height="884.3" fill="url(#h40)"/><rect x="381" y="44" width="4.6" height="884.3" fill="url(#h41)"/><rect x="385" y="44" width="5.6" height="884.3" fill="url(#h42)"/><rect x="390" y="44" width="5.6" height="884.3" fill="url(#h43)"/><rect x="395" y="44" width="5.6" height="884.3" fill="url(#h44)"/><rect x="400" y="44" width="5.6" height="884.3" fill="url(#h45)"/><rect x="405" y="44" width="5.6" height="884.3" fill="url(#h46)"/><rect x="410" y="44" width="5.6" height="884.3" fill="url(#h47)"/><rect x="415" y="44" width="5.6" height="884.3" fill="url(#h48)"/><rect x="420" y="44" width="5.6" height="884.3" fill="url(#h49)"/><rect x="425" y="44" width="5.6" height="884.3" fill="url(#h50)"/><rect x="430" y="44" width="5.6" height="884.3" fill="url(#h51)"/><rect x="435" y="44" width="6.6" height="884.3" fill="url(#h52)"/><rect x="441" y="44" width="6.6" height="884.3" fill="url(#h53)"/><rect x="447" y="44" width="6.6" height="884.3" fill="url(#h54)"/><rect x="453" y="44" width="6.6" height="884.3" fill="url(#h55)"/><rect x="459" y="44" width="6.6" height="884.3" fill="url(#h56)"/><rect x="465" y="44" width="6.6" height="884.3" fill="url(#h57)"/><rect x="471" y="44" width="6.6" height="884.3" fill="url(#h58)"/><rect x="477" y="44" width="7.6" height="884.3" fill="url(#h59)"/><rect x="484" y="44" width="7.6" height="884.3" fill="url(#h60)"/><rect x="491" y="44" width="7.6" height="884.3" fill="url(#h61)"/><rect x="498" y="44" width="7.6" height="884.3" fill="url(#h62)"/><rect x="505" y="44" width="8.6" height="884.3" fill="url(#h63)"/><rect x="513" y="44" width="8.6" height="884.3" fill="url(#h64)"/><rect x="521" y="44" width="8.6" height="884.3" fill="url(#h65)"/><rect x="529" y="44" width="9.6" height="884.3" fill="url(#h66)"/><rect x="538" y="44" width="9.6" height="884.3" fill="url(#h67)"/><rect x="547" y="44" width="9.6" height="884.3" fill="url(#h68)"/><rect x="556" y="44" width="10.6" height="884.3" fill="url(#h69)"/><rect x="566" y="44" width="11.6" height="884.3" fill="url(#h70)"/><rect x="577" y="44" width="11.6" height="884.3" fill="url(#h71)"/><rect x="588" y="44" width="12.6" height="884.3" fill="url(#h72)"/><rect x="600" y="44" width="14.6" height="884.3" fill="url(#h73)"/><rect x="614" y="44" width="15.6" height="884.3" fill="url(#h74)"/><rect x="629" y="44" width="16.6" height="884.3" fill="url(#h75)"/><rect x="645" y="44" width="16.6" height="884.3" fill="url(#h76)"/><rect x="661" y="44" width="16.6" height="884.3" fill="url(#h77)"/><rect x="677" y="44" width="16.6" height="884.3" fill="url(#h78)"/><rect x="693" y="44" width="16.6" height="884.3" fill="url(#h79)"/><rect x="709" y="44" width="16.6" height="884.3" fill="url(#h80)"/><rect x="725" y="44" width="16.6" height="884.3" fill="url(#h81)"/><rect x="741" y="44" width="16.6" height="884.3" fill="url(#h82)"/><rect x="757" y="44" width="16.6" height="884.3" fill="url(#h83)"/><rect x="773" y="44" width="16.6" height="884.3" fill="url(#h84)"/><rect x="789" y="44" width="16.6" height="884.3" fill="url(#h85)"/><rect x="805" y="44" width="16.6" height="884.3" fill="url(#h86)"/><rect x="821" y="44" width="16.6" height="884.3" fill="url(#h87)"/><rect x="837" y="44" width="16.6" height="884.3" fill="url(#h88)"/><rect x="853" y="44" width="16.6" height="884.3" fill="url(#h89)"/><rect x="869" y="44" width="16.6" height="884.3" fill="url(#h90)"/><rect x="885" y="44" width="16.6" height="884.3" fill="url(#h91)"/><rect x="901" y="44" width="16.6" height="884.3" fill="url(#h92)"/><rect x="917" y="44" width="16.6" height="884.3" fill="url(#h93)"/><rect x="933" y="44" width="16.6" height="884.3" fill="url(#h94)"/><rect x="949" y="44" width="16.6" height="884.3" fill="url(#h95)"/><rect x="965" y="44" width="16.6" height="884.3" fill="url(#h96)"/><rect x="981" y="44" width="16.6" height="884.3" fill="url(#h97)"/><rect x="997" y="44" width="16.6" height="884.3" fill="url(#h98)"/><rect x="1013" y="44" width="16.6" height="884.3" fill="url(#h99)"/><rect x="1029" y="44" width="16.6" height="884.3" fill="url(#h100)"/><rect x="1045" y="44" width="16.6" height="884.3" fill="url(#h101)"/><rect x="1061" y="44" width="16.6" height="884.3" fill="url(#h102)"/><rect x="1077" y="44" width="16.6" height="884.3" fill="url(#h103)"/><rect x="1093" y="44" width="16.6" height="884.3" fill="url(#h104)"/><rect x="1109" y="44" width="16.6" height="884.3" fill="url(#h105)"/><rect x="1125" y="44" width="16.6" height="884.3" fill="url(#h106)"/><rect x="1141" y="44" width="16.6" height="884.3" fill="url(#h107)"/><rect x="1157" y="44" width="16.6" height="884.3" fill="url(#h108)"/><rect x="1173" y="44" width="16.6" height="884.3" fill="url(#h109)"/><rect x="1189" y="44" width="16.6" height="884.3" fill="url(#h110)"/><rect x="1205" y="44" width="16.6" height="884.3" fill="url(#h111)"/><rect x="1221" y="44" width="16.6" height="884.3" fill="url(#h112)"/><rect x="1237" y="44" width="16.6" height="884.3" fill="url(#h113)"/><rect x="1253" y="44" width="16.6" height="884.3" fill="url(#h114)"/><rect x="1269" y="44" width="16.6" height="884.3" fill="url(#h115)"/><rect x="1285" y="44" width="16.6" height="884.3" fill="url(#h116)"/><rect x="1301" y="44" width="16.6" height="884.3" fill="url(#h117)"/><rect x="1317" y="44" width="14.6" height="884.3" fill="url(#h118)"/><rect x="1331" y="44" width="13.6" height="884.3" fill="url(#h119)"/><rect x="1344" y="44" width="12.6" height="884.3" fill="url(#h120)"/><rect x="1356" y="44" width="11.6" height="884.3" fill="url(#h121)"/><rect x="1367" y="44" width="10.6" height="884.3" fill="url(#h122)"/><rect x="1377" y="44" width="10.6" height="884.3" fill="url(#h123)"/><rect x="1387" y="44" width="9.6" height="884.3" fill="url(#h124)"/><rect x="1396" y="44" width="9.6" height="884.3" fill="url(#h125)"/><rect x="1405" y="44" width="9.6" height="884.3" fill="url(#h126)"/><rect x="1414" y="44" width="8.6" height="884.3" fill="url(#h127)"/><rect x="1422" y="44" width="8.6" height="884.3" fill="url(#h128)"/><rect x="1430" y="44" width="8.6" height="884.3" fill="url(#h129)"/><rect x="1438" y="44" width="8.6" height="884.3" fill="url(#h130)"/><rect x="1446" y="44" width="7.6" height="884.3" fill="url(#h131)"/><rect x="1453" y="44" width="7.6" height="884.3" fill="url(#h132)"/><rect x="1460" y="44" width="7.6" height="884.3" fill="url(#h133)"/><rect x="1467" y="44" width="7.6" height="884.3" fill="url(#h134)"/><rect x="1474" y="44" width="7.6" height="884.3" fill="url(#h135)"/><rect x="1481" y="44" width="7.6" height="884.3" fill="url(#h136)"/><rect x="1488" y="44" width="7.6" height="884.3" fill="url(#h137)"/><rect x="1495" y="44" width="7.6" height="884.3" fill="url(#h138)"/><rect x="1502" y="44" width="6.6" height="884.3" fill="url(#h139)"/><rect x="1508" y="44" width="6.6" height="884.3" fill="url(#h140)"/><rect x="1514" y="44" width="6.6" height="884.3" fill="url(#h141)"/><rect x="1520" y="44" width="6.6" height="884.3" fill="url(#h142)"/><rect x="1526" y="44" width="6.6" height="884.3" fill="url(#h143)"/><rect x="1532" y="44" width="6.6" height="884.3" fill="url(#h144)"/><rect x="1538" y="44" width="6.6" height="884.3" fill="url(#h145)"/><rect x="1544" y="44" width="6.6" height="884.3" fill="url(#h146)"/><rect x="1550" y="44" width="6.6" height="884.3" fill="url(#h147)"/><rect x="1556" y="44" width="6.6" height="884.3" fill="url(#h148)"/><rect x="1562" y="44" width="6.6" height="884.3" fill="url(#h149)"/><rect x="1568" y="44" width="6.6" height="884.3" fill="url(#h150)"/><rect x="1574" y="44" width="6.6" height="884.3" fill="url(#h151)"/><rect x="1580" y="44" width="6.6" height="884.3" fill="url(#h152)"/><rect x="1586" y="44" width="6.6" height="884.3" fill="url(#h153)"/><rect x="1592" y="44" width="6.6" height="884.3" fill="url(#h154)"/><rect x="1598" y="44" width="6.6" height="884.3" fill="url(#h155)"/><rect x="1604" y="44" width="6.6" height="884.3" fill="url(#h156)"/><rect x="1610" y="44" width="6.6" height="884.3" fill="url(#h157)"/><rect x="1616" y="44" width="6.6" height="884.3" fill="url(#h158)"/><rect x="1622" y="44" width="6.6" height="884.3" fill="url(#h159)"/><rect x="1628" y="44" width="6.6" height="884.3" fill="url(#h160)"/><rect x="1634" y="44" width="6.6" height="884.3" fill="url(#h161)"/><rect x="1640" y="44" width="6.6" height="884.3" fill="url(#h162)"/><rect x="1646" y="44" width="6.6" height="884.3" fill="url(#h163)"/><rect x="1652" y="44" width="6.6" height="884.3" fill="url(#h164)"/><rect x="1658" y="44" width="6" height="884.3" fill="url(#h165)"/></g></g>
<rect x="1713.2" y="69.3" width="27.4" height="863" fill="url(#cb)"/>
<rect x="1714.2" y="70.3" width="25.4" height="861" fill="none" stroke="#000" stroke-opacity=".3" stroke-width="3"/>
<path d="M1713.2 847h5.5M1740.6 847h-5.5M1713.2 760.4h5.5M1740.6 760.4h-5.5M1713.2 673.8h5.5M1740.6 673.8h-5.5M1713.2 587.2h5.5M1740.6 587.2h-5.5M1713.2 500.7h5.5M1740.6 500.7h-5.5M1713.2 414.1h5.5M1740.6 414.1h-5.5M1713.2 327.5h5.5M1740.6 327.5h-5.5M1713.2 240.9h5.5M1740.6 240.9h-5.5M1713.2 154.3h5.5M1740.6 154.3h-5.5" stroke="#000" stroke-opacity=".35" stroke-width="2.6" fill="none"/>
<g font-family="'Liberation Serif','DejaVu Serif',serif" fill="#000" stroke="#000" stroke-width="1" stroke-linejoin="round"><text transform="translate(14.87 89.89) scale(1.0042 1)" font-size="95.78">(a)</text>
<text transform="translate(117.98 88.06) scale(.9915 1)" font-size="84.3">180</text>
<text transform="translate(139.31 336.48) scale(.9716 1)" font-size="92.3">90</text>
<text transform="translate(157.46 516.58) scale(1.0396 1)" font-size="92.3">0</text>
<text transform="translate(104.95 721.73) scale(1.0634 1)" font-size="85">–</text>
<text transform="translate(148.51 724.65) scale(.9711 1)" font-size="85.48">90</text>
<text transform="translate(52.66 946.2) scale(1.0593 1)" font-size="87">–</text>
<text transform="translate(100.35 949.03) scale(.9778 1)" font-size="86.96">180</text>
<text transform="translate(260.71 984) scale(.85 1)" font-size="77.86">1</text>
<text transform="translate(578.85 984) scale(1.1138 1)" font-size="78.79">2</text>
<text transform="translate(895.77 983.72) scale(.9525 1)" font-size="78.36">3</text>
<text transform="translate(1257.42 983.89) scale(1.0159 1)" font-size="77.69">4</text>
<text transform="translate(1614.59 983.03) scale(1.0403 1)" font-size="77.14">5</text>
<text transform="translate(756.75 1060.32) scale(.9426 1)" font-size="79.44">Frequency (THz)</text>
<text transform="translate(1763.73 93.5) scale(.85 1)" font-size="75.57">1</text>
<text transform="translate(1745.42 255.73) scale(.9862 1)" font-size="78.09">0.8</text>
<text transform="translate(1745.4 437.51) scale(.9801 1)" font-size="79.12">0.6</text>
<text transform="translate(1745.44 611.55) scale(.9955 1)" font-size="76.91">0.4</text>
<text transform="translate(1745.4 774.45) scale(1.0064 1)" font-size="76.91">0.2</text>
<text transform="translate(1759.89 943.23) scale(1.1086 1)" font-size="76.89">0</text>
<text transform="translate(14.86 1143.64) scale(1.0039 1)" font-size="96">(b)</text>
<text transform="translate(165.7 1146.2) scale(.8938 1)" font-size="78.32">1</text>
<text transform="translate(108.73 1467.95) scale(.9998 1)" font-size="76.76">0.9</text>
<text transform="translate(113.58 1784.84) scale(.9738 1)" font-size="77.5">0.8</text>
<text transform="translate(105.96 2111.85) scale(.9914 1)" font-size="76.76">0.7</text>
<text transform="translate(105.09 2416.13) scale(.963 1)" font-size="78.24">0.6</text>
<text transform="translate(215.26 2460.4) scale(.85 1)" font-size="79.85">1</text>
<text transform="translate(602.3 2464) scale(1.15 1)" font-size="78.79">2</text>
<text transform="translate(1001.68 2458.65) scale(.9889 1)" font-size="75.22">3</text>
<text transform="translate(1385.71 2459.4) scale(1.0023 1)" font-size="79.38">4</text>
<text transform="translate(1770.52 2457.73) scale(1.0111 1)" font-size="77.14">5</text>
<text transform="translate(739.82 2534.62) scale(.9315 1)" font-size="78">Frequency (THz)</text>
<text transform="translate(483.08 1547.51) scale(.9152 1)" font-size="79.11">1.65THz</text>
<text transform="translate(1259.13 1542.26) scale(.966 1)" font-size="76">4.49THz</text>
<text transform="translate(101.76 1871.92) rotate(-90) scale(.9552 1)" font-size="75.44">Absorption</text></g>
<g font-family="'Liberation Serif','DejaVu Serif',serif" fill="#000" stroke="#000" stroke-width=".3" stroke-linejoin="round"><text transform="translate(131.21 527.7) rotate(-90) scale(1.0696 1)" font-size="78.87">θ</text>
<text transform="translate(125.87 470.22) rotate(-90) scale(1.2 1)" font-size="68.22">(</text>
<text transform="translate(106.72 445.22) rotate(-90) scale(1.0113 1)" font-size="47.56">0</text>
<text transform="translate(125.87 419.82) rotate(-90) scale(1.0824 1)" font-size="68.22">)</text>
<text transform="translate(1624 1191.24) scale(1.0822 1)" font-size="76.06">θ</text>
<text transform="translate(1674.56 1189.61) scale(1.2133 1)" font-size="73.2">=</text>
<text transform="translate(1734.39 1190.34) scale(1.0902 1)" font-size="76">0</text>
<text transform="translate(1772.25 1190.89) scale(.9611 1)" font-size="78.03">°</text></g>
<path d="M226.5 1277.1h13M226.5 1436h25M226.5 1594.9h13M226.5 1753.8h25M226.5 1912.7h13M226.5 2071.6h25M226.5 2230.5h13M423.7 2389.4v-12M620.8 2389.4v-25M818 2389.4v-12M1015.1 2389.4v-25M1212.3 2389.4v-12M1409.5 2389.4v-25M1606.6 2389.4v-12" stroke="#333" stroke-width="5" fill="none"/>
<rect x="226.5" y="1118.2" width="1577.3" height="1271.2" fill="none" stroke="#333" stroke-width="5"/>
<path d="M490 1436.9L515 1436.5M564 1435.8L617 1435M665 1434.3L720 1433.5M764 1432.9L816 1432.1M866 1431.4L900 1430.9M945 1430.3L984 1429.7M1028 1429.1L1071 1428.4M1116 1427.8L1168 1427M1212 1426.4L1250 1425.8M1292 1425.2L1328 1424.7M1375 1424L1415 1423.4M1460 1422.8L1484 1422.4M1539 1421.6L1582 1421" stroke="#1a1a1a" stroke-width="5.5" fill="none"/>
<g clip-path="url(#box)"><path d="M224.6 2269.5L226.5 2260L230.5 2240.2L234.5 2220.9L238.5 2202L242.5 2183.6L246.5 2165.6L250.5 2148L254.5 2130.7L258.5 2113.7L262.5 2097L266.5 2080.6L270.5 2064.5L274.5 2048.6L278.5 2032.9L282.5 2017.5L286.5 2002.3L290.5 1987.2L294.5 1972.4L298.5 1957.7L302.5 1943.2L306.5 1928.9L310.5 1914.7L314.5 1900.7L318.5 1886.8L322.5 1873.1L326.5 1859.6L330.5 1846.1L334.5 1832.9L338.5 1819.7L342.5 1806.7L346.5 1793.9L350.5 1781.1L354.5 1768.6L358.5 1756.1L362.5 1743.8L366.5 1731.6L370.5 1719.6L374.5 1707.7L378.5 1695.9L382.5 1684.3L386.5 1672.8L390.5 1661.4L394.5 1650.2L398.5 1639.1L402.5 1628.1L406.5 1617.3L410.5 1606.6L414.5 1596L418.5 1585.6L422.5 1575.3L426.5 1565.2L430.5 1555.1L434.5 1545.2L438.5 1535.5L442.5 1525.9L446.5 1516.4L450.5 1507L454.5 1497.8L458.5 1488.7L462.5 1479.7L466.5 1470.8L470.5 1462.1L474.5 1453.5L478.5 1445.1L482.5 1436.7L486.5 1428.5L490.5 1420.4L494.5 1412.5L498.5 1404.6L502.5 1396.9L506.5 1389.3L510.5 1381.8L514.5 1374.4L518.5 1367.2L522.5 1360.1L526.5 1353.1L530.5 1346.2L534.5 1339.4L538.5 1332.7L542.5 1326.1L546.5 1319.7L550.5 1313.4L554.5 1307.2L558.5 1301.1L562.5 1295.1L566.5 1289.2L570.5 1283.4L574.5 1277.8L578.5 1272.2L582.5 1266.8L586.5 1261.4L590.5 1256.2L594.5 1251.1L598.5 1246.1L602.5 1241.2L606.5 1236.4L610.5 1231.7L614.5 1227.1L618.5 1222.7L622.5 1218.3L626.5 1214L630.5 1209.9L634.5 1205.8L638.5 1201.9L642.5 1198L646.5 1194.3L650.5 1190.7L654.5 1187.2L658.5 1183.7L662.5 1180.4L666.5 1177.2L670.5 1174.1L674.5 1171.1L678.5 1168.2L682.5 1165.4L686.5 1162.7L690.5 1160.1L694.5 1157.6L698.5 1155.3L702.5 1153L706.5 1150.8L710.5 1148.7L714.5 1146.7L718.5 1144.8L722.5 1143L726.5 1141.3L730.5 1139.7L734.5 1138.2L738.5 1136.8L742.5 1135.5L746.5 1134.3L750.5 1133.1L754.5 1132.1L758.5 1131.1L762.5 1130.3L766.5 1129.5L770.5 1128.8L774.5 1128.2L778.5 1127.6L782.5 1127.2L786.5 1126.8L790.5 1126.5L794.5 1126.3L798.5 1126.1L802.5 1126.1L806.5 1126.1L810.5 1126.1L814.5 1126.2L818.5 1126.4L822.5 1126.7L826.5 1127L830.5 1127.3L834.5 1127.7L838.5 1128.2L842.5 1128.7L846.5 1129.3L850.5 1129.9L854.5 1130.5L858.5 1131.2L862.5 1131.9L866.5 1132.7L870.5 1133.5L874.5 1134.3L878.5 1135.1L882.5 1136L886.5 1136.9L890.5 1137.8L894.5 1138.8L898.5 1139.7L902.5 1140.6L906.5 1141.6L910.5 1142.6L914.5 1143.6L918.5 1144.5L922.5 1145.5L926.5 1146.5L930.5 1147.4L934.5 1148.4L938.5 1149.3L942.5 1150.2L946.5 1151.2L950.5 1152.1L954.5 1152.9L958.5 1153.8L962.5 1154.6L966.5 1155.4L970.5 1156.2L974.5 1156.9L978.5 1157.6L982.5 1158.3L986.5 1159L990.5 1159.6L994.5 1160.1L998.5 1160.7L1002.5 1161.2L1006.5 1161.6L1010.5 1162L1014.5 1162.4L1018.5 1162.7L1022.5 1163L1026.5 1163.2L1030.5 1163.4L1034.5 1163.5L1038.5 1163.6L1042.5 1163.6L1046.5 1163.6L1050.5 1163.5L1054.5 1163.4L1058.5 1163.3L1062.5 1163.1L1066.5 1162.8L1070.5 1162.5L1074.5 1162.2L1078.5 1161.8L1082.5 1161.3L1086.5 1160.8L1090.5 1160.3L1094.5 1159.7L1098.5 1159.1L1102.5 1158.5L1106.5 1157.8L1110.5 1157L1114.5 1156.3L1118.5 1155.5L1122.5 1154.6L1126.5 1153.8L1130.5 1152.9L1134.5 1152L1138.5 1151L1142.5 1150L1146.5 1149.1L1150.5 1148.1L1154.5 1147L1158.5 1146L1162.5 1144.9L1166.5 1143.9L1170.5 1142.8L1174.5 1141.8L1178.5 1140.7L1182.5 1139.6L1186.5 1138.6L1190.5 1137.5L1194.5 1136.5L1198.5 1135.5L1202.5 1134.5L1206.5 1133.5L1210.5 1132.5L1214.5 1131.6L1218.5 1130.6L1222.5 1129.8L1226.5 1128.9L1230.5 1128.1L1234.5 1127.3L1238.5 1126.6L1242.5 1125.9L1246.5 1125.3L1250.5 1124.7L1254.5 1124.2L1258.5 1123.7L1262.5 1123.3L1266.5 1123L1270.5 1122.7L1274.5 1122.5L1278.5 1122.3L1282.5 1122.3L1286.5 1122.3L1290.5 1122.4L1294.5 1122.6L1298.5 1122.8L1302.5 1123.2L1306.5 1123.6L1310.5 1124.1L1314.5 1124.7L1318.5 1125.5L1322.5 1126.3L1326.5 1127.2L1330.5 1128.2L1334.5 1129.3L1338.5 1130.5L1342.5 1131.8L1346.5 1133.3L1350.5 1134.8L1354.5 1136.4L1358.5 1138.2L1362.5 1140.1L1366.5 1142L1370.5 1144.1L1374.5 1146.3L1378.5 1148.7L1382.5 1151.1L1386.5 1153.6L1390.5 1156.3L1394.5 1159.1L1398.5 1162L1402.5 1165L1406.5 1168.1L1410.5 1171.4L1414.5 1174.8L1418.5 1178.3L1422.5 1181.9L1426.5 1185.6L1430.5 1189.4L1434.5 1193.4L1438.5 1197.4L1442.5 1201.6L1446.5 1205.9L1450.5 1210.3L1454.5 1214.8L1458.5 1219.5L1462.5 1224.2L1466.5 1229L1470.5 1234L1474.5 1239L1478.5 1244.2L1482.5 1249.5L1486.5 1254.9L1490.5 1260.3L1494.5 1265.9L1498.5 1271.6L1502.5 1277.3L1506.5 1283.2L1510.5 1289.2L1514.5 1295.2L1518.5 1301.4L1522.5 1307.6L1526.5 1314L1530.5 1320.4L1534.5 1326.9L1538.5 1333.5L1542.5 1340.1L1546.5 1346.9L1550.5 1353.7L1554.5 1360.7L1558.5 1367.7L1562.5 1374.7L1566.5 1381.9L1570.5 1389.1L1574.5 1396.4L1578.5 1403.8L1582.5 1411.2L1586.5 1418.7L1590.5 1426.3L1594.5 1434L1598.5 1441.7L1602.5 1449.4L1606.5 1457.3L1610.5 1465.2L1614.5 1473.2L1618.5 1481.2L1622.5 1489.3L1626.5 1497.4L1630.5 1505.6L1634.5 1513.9L1638.5 1522.2L1642.5 1530.6L1646.5 1539L1650.5 1547.5L1654.5 1556L1658.5 1564.6L1662.5 1573.2L1666.5 1581.9L1670.5 1590.6L1674.5 1599.4L1678.5 1608.2L1682.5 1617L1686.5 1625.9L1690.5 1634.9L1694.5 1643.8L1698.5 1652.9L1702.5 1661.9L1706.5 1671L1710.5 1680.1L1714.5 1689.2L1718.5 1698.4L1722.5 1707.6L1726.5 1716.8L1730.5 1726.1L1734.5 1735.3L1738.5 1744.6L1742.5 1753.9L1746.5 1763.2L1750.5 1772.5L1754.5 1781.8L1758.5 1791.1L1762.5 1800.5L1766.5 1809.8L1770.5 1819.1L1774.5 1828.4L1778.5 1837.6L1782.5 1846.9L1786.5 1856.1L1790.5 1865.3L1794.5 1874.5L1798.5 1883.6L1802.5 1892.7L1806.5 1901.8L1810.5 1910.8L1814.5 1919.9L1818.5 1929L1822.5 1938L1826.5 1947.1L1830.5 1956.2" fill="none" stroke="#000" stroke-width="15.8" stroke-linejoin="round"/></g>
<path d="M1445 1163.5H1608.5" stroke="#000" stroke-width="17" stroke-linecap="round" fill="none"/>
</g>
</svg>
</body></html>
